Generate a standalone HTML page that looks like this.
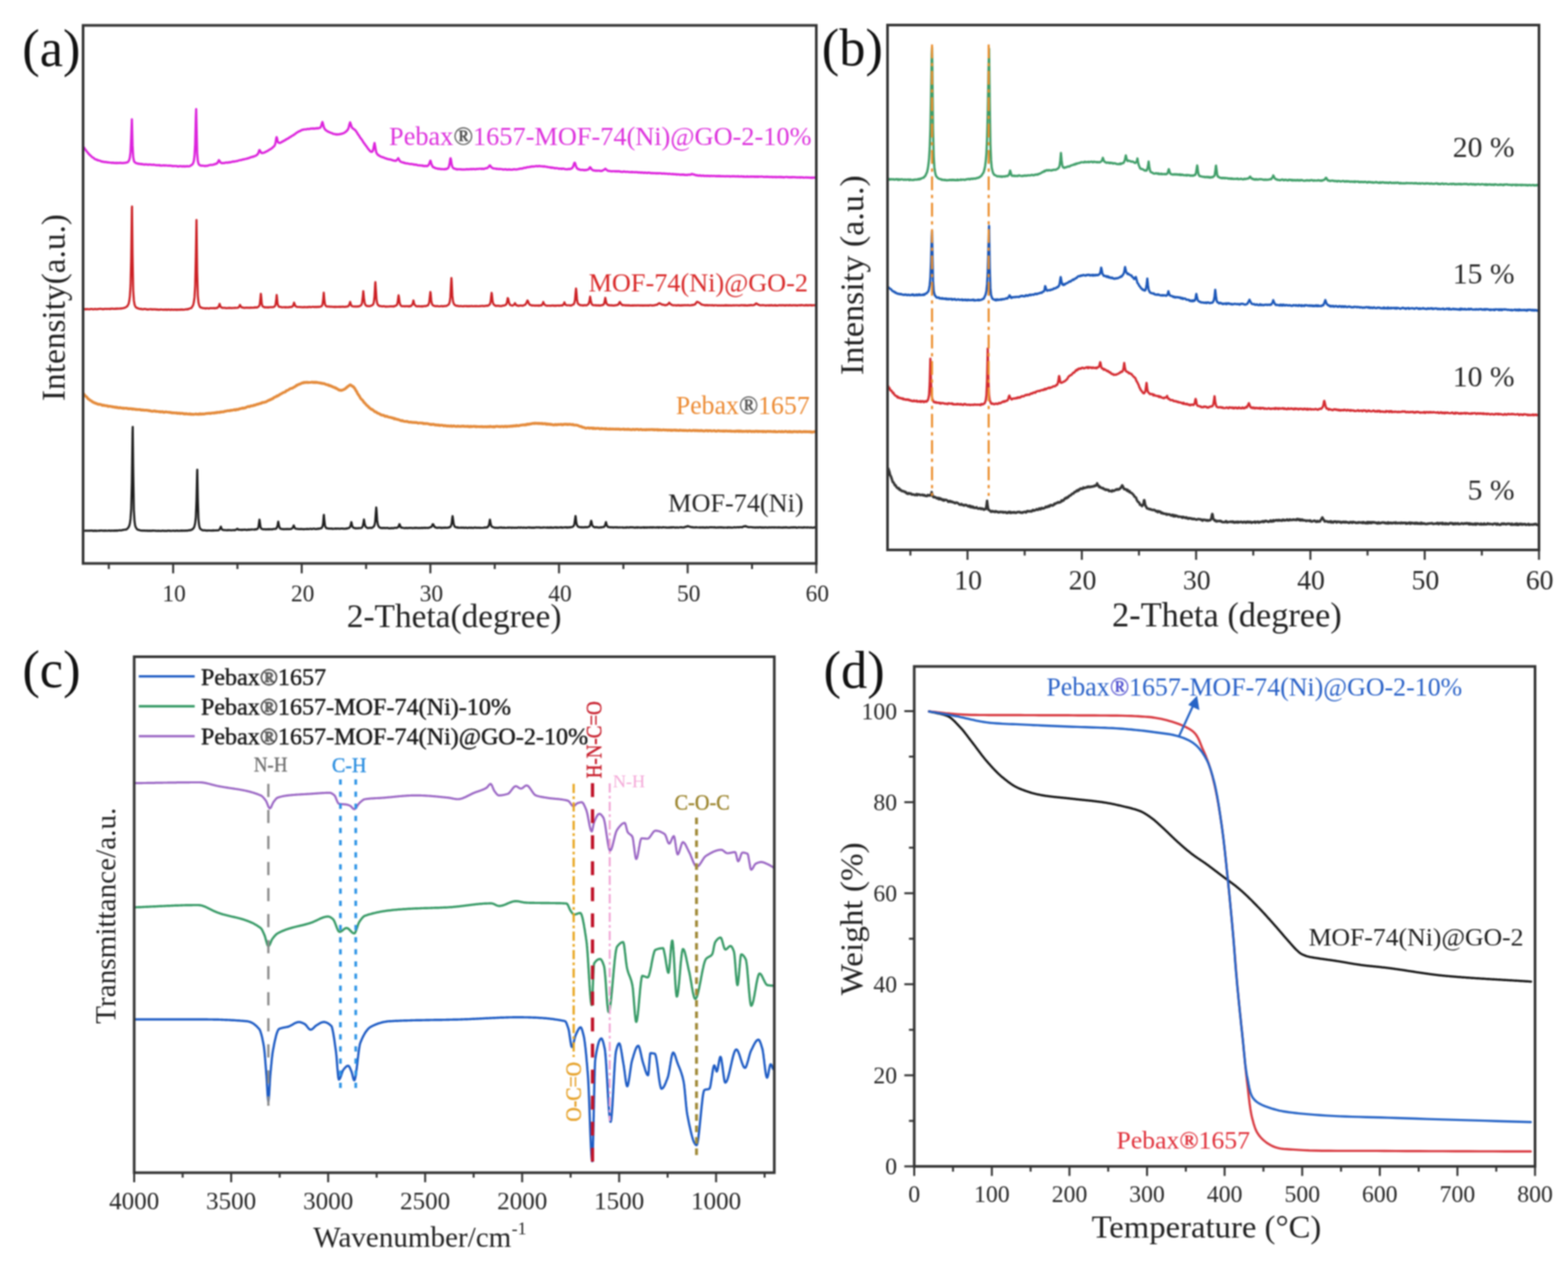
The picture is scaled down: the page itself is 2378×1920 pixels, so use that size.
<!DOCTYPE html>
<html><head><meta charset="utf-8"><title>Figure</title>
<style>
html,body{margin:0;padding:0;background:#fff;}
svg{display:block;}
#fig{filter:blur(0.8px);width:2378px;height:1920px;}
text{font-family:"Liberation Serif","Times New Roman",serif;}
</style></head>
<body>
<div id="fig">
<svg width="2378" height="1920" viewBox="0 0 2378 1920">
<rect width="100%" height="100%" fill="#fff"/>
<path d="M127 223.3 L128 224.6 L129 226.4 L130 227.4 L131 229 L132 230.2 L133 231.2 L134 232.8 L135 233.6 L136 235 L137 235.7 L138 236.5 L139 237.6 L140 238.6 L141 238.8 L142 239.6 L143 240.5 L144 241.3 L145 241.6 L146 241.9 L147 242.7 L148 242.5 L149 243.4 L150 243.4 L151 243.6 L152 243.9 L153 244.4 L154 245 L155 244.8 L156 245.3 L157 245.5 L158 245.5 L159 245.8 L160 245.6 L161 245.7 L162 246 L163 246.4 L164 246.3 L165 246.3 L166 246.6 L167 246.6 L168 246.6 L169 247 L170 247 L171 246.7 L172 247 L173 247 L174 247.3 L175 247.2 L176 246.9 L177 247.5 L178 246.9 L179 247.1 L180 247.4 L181 247 L182 247.2 L183 246.9 L184 247.3 L185 247.4 L186 247.2 L187 247.4 L188 246.9 L189 247.1 L190 246.9 L191 246.8 L192 246.4 L193 246.3 L194 245.8 L195 244.4 L196 242.7 L197 238.6 L198 230.6 L199 208.7 L200 181 L200 181.3 L201 220.4 L202 238 L203 243.5 L204 245.8 L205 246.4 L206 247.4 L207 247.5 L208 247.8 L209 248 L210 248.6 L211 248.3 L212 248.5 L213 248.7 L214 249.1 L215 248.7 L216 249 L217 249.2 L218 249.5 L219 249.5 L220 249.6 L221 249.2 L222 249.4 L223 249.4 L224 249.8 L225 249.9 L226 249.4 L227 249.5 L228 249.6 L229 249.7 L230 249.9 L231 250 L232 249.9 L233 249.7 L234 250.1 L235 250.1 L236 250.3 L237 250.6 L238 250.5 L239 250.4 L240 250.6 L241 250.7 L242 250.3 L243 251 L244 250.9 L245 251.1 L246 251.1 L247 250.8 L248 250.9 L249 250.8 L250 251.2 L251 250.9 L252 250.9 L253 251.1 L254 251.1 L255 251.3 L256 251.1 L257 251.2 L258 251.3 L259 251.3 L260 251.6 L261 251.4 L262 252 L263 251.9 L264 251.6 L265 251.8 L266 251.9 L267 251.9 L268 251.8 L269 252.4 L270 252.5 L271 252.2 L272 252.2 L273 252 L274 252 L275 252.2 L276 252.2 L277 252.6 L278 252.1 L279 252 L280 252.7 L281 252.4 L282 252.1 L283 252.3 L284 251.9 L285 252.1 L286 252.3 L287 252.1 L288 251.8 L289 251.1 L290 250.7 L291 249.9 L292 249.2 L293 247.2 L294 244 L295 236.5 L296 218.6 L297 178.6 L297.5 165.5 L298 188.3 L299 231.8 L300 243.9 L301 248 L302 249.8 L303 250.3 L304 251 L305 251.2 L306 251.1 L307 251.2 L308 251.4 L309 251.4 L310 251.7 L311 251.8 L312 251.4 L313 251.6 L314 251.5 L315 251.4 L316 250.8 L317 250.6 L318 250.4 L319 250.2 L320 250 L321 250.1 L322 250.1 L323 249.8 L324 249.4 L325 249.2 L326 249.1 L327 248.3 L328 248.3 L329 247.9 L330 246.7 L331 244.8 L332 242.9 L332 242.9 L333 244.1 L334 246.2 L335 246.6 L336 247.3 L337 247.5 L338 247.1 L339 247.1 L340 247.4 L341 247.1 L342 246.6 L343 246.5 L344 246.4 L345 246.8 L346 246.6 L347 246 L348 246.3 L349 246.3 L350 245.9 L351 245.5 L352 245.5 L353 245 L354 244.8 L355 245.3 L356 244.8 L357 244.6 L358 244.6 L359 244.1 L360 244.2 L361 243.9 L362 243.3 L363 243.1 L364 242.9 L365 242.6 L366 242.7 L367 242.2 L368 242.1 L369 241.6 L370 241.9 L371 241.3 L372 241.1 L373 240.9 L374 240.9 L375 240.2 L376 240.3 L377 239.7 L378 239.5 L379 239.2 L380 238.5 L381 238.5 L382 238 L383 237.6 L384 237.8 L385 237 L386 236.8 L387 236.6 L388 236 L389 235.3 L390 234.6 L391 233.5 L392 231.6 L393 228.1 L393.5 227.5 L394 228 L395 230.1 L396 231.4 L397 232.2 L398 232 L399 231.9 L400 231.7 L401 231.4 L402 230.7 L403 230.3 L404 229.7 L405 229.2 L406 228.8 L407 228 L408 227.4 L409 226.8 L410 226.4 L411 225.6 L412 225 L413 224.4 L414 223.1 L415 222.4 L416 221.5 L417 219.7 L418 215.8 L419 209.6 L419.5 208 L420 209.2 L421 213.9 L422 216.1 L423 216.5 L424 216.9 L425 216.6 L426 216.2 L427 215.2 L428 215.1 L429 214.5 L430 213.5 L431 213.5 L432 212.9 L433 211.8 L434 211.8 L435 210.8 L436 210.3 L437 210 L438 209.3 L439 208.3 L440 207.9 L441 207.4 L442 206.6 L443 205.9 L444 205.4 L445 205.1 L446 204 L447 203.6 L448 202.9 L449 201.8 L450 201.3 L451 200.8 L452 200.1 L453 199.1 L454 199.2 L455 198.6 L456 198.3 L457 197.3 L458 197.1 L459 196.7 L460 196.9 L461 196.3 L462 196.1 L463 196.1 L464 196.3 L465 196.1 L466 195.6 L467 195.4 L468 195.9 L469 195.5 L470 195.5 L471 195 L472 194.9 L473 195.2 L474 195 L475 194.7 L476 195.2 L477 194.9 L478 195 L479 194.5 L480 194.9 L481 194.3 L482 194.8 L483 194.4 L484 194.1 L485 193.9 L486 193.4 L487 191.2 L488 187.6 L489 185 L489 185 L490 188.4 L491 192.5 L492 194.9 L493 196.2 L494 197.3 L495 198 L496 198.6 L497 199.5 L498 199.7 L499 200.3 L500 200.6 L501 201.2 L502 201.4 L503 201.9 L504 202.1 L505 203 L506 203.1 L507 203.1 L508 203.5 L509 203.9 L510 203.5 L511 204 L512 203.8 L513 203.8 L514 203.9 L515 203.4 L516 203.3 L517 203.2 L518 203.1 L519 202.4 L520 202.4 L521 201.9 L522 201.4 L523 200.8 L524 200.2 L525 199.2 L526 198.4 L527 197.1 L528 195.8 L529 192.7 L530 188.5 L531 185.6 L531 185.9 L532 188.3 L533 191.8 L534 193.8 L535 194.6 L536 195.3 L537 196 L538 196.9 L539 197.7 L540 199.1 L541 200.3 L542 202.3 L543 203.8 L544 205.1 L545 206.5 L546 208.5 L547 209.5 L548 211 L549 212.2 L550 213.9 L551 215.5 L552 216.9 L553 218.2 L554 219.8 L555 220.9 L556 222.4 L557 223.7 L558 225.3 L559 226.4 L560 227.6 L561 228.9 L562 229.7 L563 230.3 L564 230.2 L565 229.5 L566 227 L567 221.6 L568 216.9 L568 217.2 L569 222.2 L570 228.3 L571 232.1 L572 233.3 L573 234.8 L574 235.5 L575 235.7 L576 236.8 L577 237.3 L578 237.6 L579 238.1 L580 238.5 L581 238.4 L582 239 L583 239.4 L584 239.9 L585 240.2 L586 240.6 L587 240.7 L588 241.3 L589 241.4 L590 241.7 L591 241.7 L592 241.8 L593 242.2 L594 242.6 L595 242.7 L596 243.4 L597 243.4 L598 243.7 L599 243.8 L600 243.8 L601 243.5 L602 242.4 L603 241.4 L604 239.9 L604 240.1 L605 241.7 L606 243.7 L607 244.9 L608 245.2 L609 246.1 L610 246.1 L611 246.2 L612 246.6 L613 247.2 L614 247 L615 247.6 L616 247.9 L617 247.8 L618 247.9 L619 248.1 L620 248.4 L621 248.6 L622 248.7 L623 248.9 L624 248.6 L625 248.8 L626 249.1 L627 249.6 L628 249.4 L629 249.8 L630 249.6 L631 249.7 L632 250 L633 250.5 L634 250.6 L635 250.8 L636 250.6 L637 250.9 L638 251 L639 251.1 L640 251 L641 251.7 L642 251.3 L643 251.9 L644 252 L645 251.4 L646 251.7 L647 252 L648 251.9 L649 251.2 L650 250.2 L651 248.3 L652 245.5 L652.7 243.7 L653 243.9 L654 247.9 L655 250.5 L656 252.4 L657 253.6 L658 253.6 L659 254.5 L660 254.7 L661 255.3 L662 255.4 L663 255.4 L664 256.1 L665 256 L666 255.9 L667 256 L668 256.5 L669 256.5 L670 256.5 L671 256.4 L672 256.6 L673 256.6 L674 256.9 L675 256.2 L676 256.6 L677 256.5 L678 255.6 L679 255.5 L680 254.2 L681 252 L682 246.7 L683 240.5 L683.3 240 L684 242.7 L685 249.5 L686 252.8 L687 254.4 L688 255.4 L689 255.8 L690 255.9 L691 256.2 L692 256.8 L693 256.5 L694 257 L695 256.6 L696 256.6 L697 256.8 L698 256.6 L699 256.7 L700 257.1 L701 257.1 L702 257 L703 256.9 L704 257.1 L705 257.1 L706 256.8 L707 256.9 L708 256.4 L709 256.9 L710 256.6 L711 256.8 L712 256.7 L713 256.5 L714 256.3 L715 256.8 L716 256.3 L717 256.5 L718 256.3 L719 256.3 L720 256.6 L721 256.7 L722 256.2 L723 256.4 L724 256.1 L725 256.3 L726 256.1 L727 255.9 L728 255.9 L729 255.9 L730 256.3 L731 256 L732 255.7 L733 256.2 L734 256.2 L735 255.7 L736 255.4 L737 255.3 L738 255 L739 254.8 L740 254.1 L741 253.1 L742 251.6 L743 250.7 L743 250.7 L744 252 L745 253.5 L746 254.3 L747 254.9 L748 255.3 L749 255.5 L750 255.6 L751 255.6 L752 255.8 L753 256.4 L754 255.9 L755 256.2 L756 256.4 L757 256.6 L758 256.2 L759 256.4 L760 256.4 L761 256.6 L762 256.7 L763 257.1 L764 257.1 L765 257.1 L766 256.6 L767 256.6 L768 257.2 L769 257.3 L770 257.1 L771 257.2 L772 256.8 L773 257 L774 257.4 L775 257.3 L776 257.4 L777 257.4 L778 256.9 L779 256.7 L780 256.7 L781 256.9 L782 257 L783 257 L784 256.8 L785 256.6 L786 256.5 L787 256.2 L788 256.1 L789 255.6 L790 255.9 L791 255.4 L792 255.7 L793 255.3 L794 254.8 L795 254.5 L796 254.4 L797 254.5 L798 254.3 L799 253.7 L800 253.5 L801 253.6 L802 253.5 L803 253.2 L804 252.9 L805 253 L806 252.4 L807 252.5 L808 252.5 L809 252.7 L810 252.4 L811 252.4 L812 252.1 L813 251.9 L814 251.8 L815 252.3 L816 252.1 L817 251.8 L818 251.7 L819 252 L820 252.2 L821 252.1 L822 252.1 L823 252.4 L824 252.7 L825 252.3 L826 252.3 L827 252.6 L828 252.8 L829 253.1 L830 253 L831 253.5 L832 253.6 L833 253.6 L834 253.6 L835 254.3 L836 253.9 L837 254.5 L838 254.2 L839 254.4 L840 254.9 L841 254.7 L842 255.3 L843 255.1 L844 255 L845 255.2 L846 255.4 L847 255.7 L848 256 L849 255.6 L850 255.8 L851 255.8 L852 256.4 L853 255.8 L854 255.8 L855 255.9 L856 256.2 L857 256.6 L858 256.6 L859 256.6 L860 256.8 L861 256.7 L862 256.3 L863 256.2 L864 256.6 L865 256.3 L866 255.6 L867 255.5 L868 254.5 L869 253.1 L870 250.4 L871 247.1 L871.5 246.8 L872 247.1 L873 250.5 L874 253.3 L875 255.3 L876 255.7 L877 256.8 L878 256.7 L879 257 L880 257.6 L881 257.7 L882 257.6 L883 257.4 L884 257.8 L885 257.7 L886 258.2 L887 257.7 L888 257.8 L889 258.1 L890 257.4 L891 257.4 L892 257.2 L893 256.4 L894 254.5 L895 253.6 L895 253.9 L896 254.6 L897 256.7 L898 257.2 L899 258.1 L900 258.5 L901 258.4 L902 258.5 L903 259.1 L904 258.9 L905 258.7 L906 259.1 L907 258.9 L908 258.9 L909 258.7 L910 259.2 L911 259.3 L912 259.1 L913 259.2 L914 258.3 L915 258.1 L916 257.6 L917 256.9 L918 255.9 L918 256.3 L919 256.6 L920 257.6 L921 258.4 L922 258.9 L923 259.4 L924 259.1 L925 259.6 L926 259.6 L927 259.8 L928 259.8 L929 259.7 L930 259.6 L931 259.6 L932 259.7 L933 260 L934 259.6 L935 259.7 L936 260.1 L937 259.8 L938 259.8 L939 259.8 L940 260.2 L941 260.1 L942 260.6 L943 260.6 L944 260.7 L945 260.2 L946 260.1 L947 260.2 L948 260.5 L949 260.7 L950 260.6 L951 260.5 L952 260.6 L953 260.8 L954 260.9 L955 261 L956 261.1 L957 261 L958 260.7 L959 261.2 L960 260.9 L961 261.1 L962 261.1 L963 261.4 L964 261 L965 261.1 L966 261.2 L967 261.1 L968 261.7 L969 261.5 L970 261.4 L971 261.5 L972 262 L973 261.7 L974 261.5 L975 262 L976 261.9 L977 262.2 L978 261.6 L979 261.9 L980 262.2 L981 262.3 L982 262.4 L983 261.8 L984 262 L985 262 L986 262.1 L987 262.7 L988 262.4 L989 262.7 L990 262.4 L991 262.8 L992 262.6 L993 262.5 L994 262.9 L995 263 L996 262.5 L997 262.9 L998 263 L999 262.7 L1000 262.9 L1001 262.8 L1002 262.9 L1003 263 L1004 263.3 L1005 263.3 L1006 263.1 L1007 263 L1008 263.3 L1009 263.6 L1010 263.3 L1011 263.4 L1012 263.4 L1013 263.9 L1014 263.8 L1015 263.5 L1016 263.6 L1017 263.8 L1018 264 L1019 264.1 L1020 263.8 L1021 263.9 L1022 264.4 L1023 264.2 L1024 264.2 L1025 264.3 L1026 264.8 L1027 264.4 L1028 264.6 L1029 264.5 L1030 264.6 L1031 265 L1032 265.1 L1033 264.8 L1034 264.7 L1035 265.1 L1036 264.8 L1037 264.7 L1038 265.4 L1039 265.1 L1040 265.4 L1041 265.1 L1042 265.5 L1043 265.2 L1044 264.9 L1045 264.8 L1046 265 L1047 264.9 L1048 264.8 L1049 263.8 L1050 264 L1050 264.1 L1051 264.1 L1052 264.7 L1053 264.8 L1054 265.2 L1055 265.6 L1056 266.1 L1057 265.6 L1058 266 L1059 266.3 L1060 266.5 L1061 266 L1062 266 L1063 266.7 L1064 266.7 L1065 266.4 L1066 266.2 L1067 266.8 L1068 266.5 L1069 266.9 L1070 266.7 L1071 266.9 L1072 266.5 L1073 267 L1074 266.6 L1075 266.7 L1076 267.1 L1077 267.1 L1078 266.7 L1079 266.7 L1080 266.9 L1081 267 L1082 266.9 L1083 266.8 L1084 266.9 L1085 267.2 L1086 267.4 L1087 266.8 L1088 267.2 L1089 267.3 L1090 266.8 L1091 267.4 L1092 266.9 L1093 267.3 L1094 267.3 L1095 267.4 L1096 267.1 L1097 267.2 L1098 267.4 L1099 267.3 L1100 267.5 L1101 267.3 L1102 267.3 L1103 267.1 L1104 267.5 L1105 267.4 L1106 267.2 L1107 267.6 L1108 267.7 L1109 267.4 L1110 267.3 L1111 267.5 L1112 267.2 L1113 267.3 L1114 267.5 L1115 267.3 L1116 267.5 L1117 267.6 L1118 267.3 L1119 267.7 L1120 267.3 L1121 267.8 L1122 267.8 L1123 267.6 L1124 267.3 L1125 267.7 L1126 267.6 L1127 268 L1128 267.4 L1129 268 L1130 268.1 L1131 267.9 L1132 268 L1133 267.5 L1134 268.1 L1135 267.8 L1136 268.1 L1137 268.1 L1138 267.6 L1139 268 L1140 268.1 L1141 267.6 L1142 267.8 L1143 268.1 L1144 267.7 L1145 268.2 L1146 267.8 L1147 268.2 L1148 267.7 L1149 268 L1150 268.3 L1151 267.8 L1152 267.9 L1153 268.1 L1154 267.9 L1155 267.8 L1156 267.9 L1157 267.9 L1158 268.4 L1159 268.3 L1160 268.4 L1161 268 L1162 268.4 L1163 267.9 L1164 268.3 L1165 268.3 L1166 268.2 L1167 268.5 L1168 268.3 L1169 268.4 L1170 268.6 L1171 268.1 L1172 268.7 L1173 268.5 L1174 268.3 L1175 268.6 L1176 268.3 L1177 268.8 L1178 268.5 L1179 268.4 L1180 268.7 L1181 268.5 L1182 268.3 L1183 268.7 L1184 268.3 L1185 268.8 L1186 268.4 L1187 268.7 L1188 269 L1189 268.7 L1190 268.8 L1191 268.6 L1192 268.4 L1193 268.4 L1194 268.5 L1195 268.8 L1196 268.7 L1197 268.8 L1198 269.1 L1199 268.6 L1200 268.7 L1201 269 L1202 268.5 L1203 268.6 L1204 268.8 L1205 268.7 L1206 268.9 L1207 268.8 L1208 269 L1209 269.1 L1210 268.8 L1211 269.1 L1212 269 L1213 268.8 L1214 269.4 L1215 268.9 L1216 268.9 L1217 268.9 L1218 269.3 L1219 269.4 L1220 269.4 L1221 269.1 L1222 269.1 L1223 268.9 L1224 269.4 L1225 269.3 L1226 269.2 L1227 269.4 L1228 269.3 L1229 269.7 L1230 269.5 L1231 269.2 L1232 269.7 L1233 269.1 L1234 269.5 L1235 269.4 L1236 269.3 L1237 269.2" fill="none" stroke="#dc22dc" stroke-width="3.4" stroke-linejoin="round" stroke-linecap="round"/>
<path d="M127 469.1 L128 468.6 L129 469 L130 469.2 L131 468.7 L132 468.7 L133 469 L134 468.9 L135 469 L136 469.1 L137 468.6 L138 468.7 L139 468.7 L140 468.5 L141 469.1 L142 469 L143 468.9 L144 468.4 L145 469 L146 468.9 L147 468.7 L148 468.9 L149 468.6 L150 468.5 L151 468.4 L152 468.4 L153 468.3 L154 468.5 L155 468.8 L156 468.7 L157 468.8 L158 468.7 L159 468.4 L160 468.5 L161 468.4 L162 468.7 L163 468.5 L164 468.3 L165 468.5 L166 468.7 L167 468.2 L168 468.6 L169 468 L170 468.1 L171 468.1 L172 468.4 L173 468.5 L174 468.4 L175 468 L176 468.4 L177 468 L178 467.9 L179 468.3 L180 468 L181 468 L182 467.9 L183 468.1 L184 467.6 L185 467.8 L186 467.5 L187 467.5 L188 466.9 L189 466.9 L190 466.4 L191 465.8 L192 465.1 L193 464.4 L194 462.7 L195 461 L196 456.6 L197 449.1 L198 432.7 L199 391.2 L200 317.1 L200.2 313 L201 386 L202 440.1 L203 455.4 L204 461.6 L205 464.3 L206 465.8 L207 466.8 L208 466.9 L209 467.6 L210 467.8 L211 468.3 L212 468.5 L213 468.7 L214 468.2 L215 468.9 L216 469 L217 469.1 L218 468.5 L219 468.7 L220 468.6 L221 468.6 L222 469.2 L223 469.3 L224 469.2 L225 469.3 L226 469.2 L227 469 L228 468.9 L229 468.9 L230 469.4 L231 469.1 L232 469.2 L233 469.3 L234 469 L235 469.2 L236 469.2 L237 469.6 L238 469.3 L239 469.3 L240 469.8 L241 469.5 L242 469.7 L243 469.6 L244 469.2 L245 469.5 L246 469.5 L247 469.8 L248 469.5 L249 469.8 L250 469.6 L251 469.4 L252 469.9 L253 469.4 L254 469.9 L255 469.5 L256 469.3 L257 469.5 L258 469.9 L259 470 L260 469.4 L261 469.7 L262 469.7 L263 469.9 L264 469.5 L265 469.7 L266 469.6 L267 470 L268 469.6 L269 470 L270 469.6 L271 469.5 L272 469.8 L273 469.7 L274 469.4 L275 469.7 L276 469.3 L277 469.7 L278 469.6 L279 469.7 L280 469.5 L281 469.2 L282 469.2 L283 469.1 L284 469.3 L285 468.5 L286 468.9 L287 468 L288 467.8 L289 467.4 L290 467.2 L291 465.9 L292 464.4 L293 462.5 L294 458.2 L295 450.7 L296 433.5 L297 389.4 L298 333.6 L298 333.8 L299 412.3 L300 448.1 L301 458.6 L302 462.6 L303 465 L304 466 L305 466.7 L306 466.7 L307 467.1 L308 467.5 L309 467.5 L310 467.3 L311 467.6 L312 467.9 L313 467.5 L314 467.4 L315 467.5 L316 467.8 L317 467.9 L318 467.4 L319 467.4 L320 467.4 L321 467.4 L322 467.5 L323 467.3 L324 467.3 L325 467.2 L326 467.7 L327 467.5 L328 466.9 L329 467.3 L330 466.4 L331 465.8 L332 464.2 L333 460.9 L333 461.1 L334 464 L335 465.8 L336 466.4 L337 467 L338 466.7 L339 466.9 L340 467 L341 466.8 L342 467.1 L343 467.3 L344 467.3 L345 467.1 L346 467.2 L347 467.1 L348 466.8 L349 467.2 L350 467 L351 467.2 L352 467.3 L353 467 L354 467 L355 467.1 L356 466.9 L357 466.7 L358 467 L359 467 L360 466.8 L361 466.6 L362 466.1 L363 464.6 L364 462.4 L364 462.5 L365 464.4 L366 465.7 L367 466.4 L368 466.2 L369 466.6 L370 466.9 L371 466.8 L372 466.8 L373 466.5 L374 466.6 L375 466.7 L376 466.8 L377 466.6 L378 466.8 L379 466.9 L380 466.4 L381 466.7 L382 466.8 L383 466.5 L384 466.5 L385 466.8 L386 466.1 L387 466.4 L388 466.1 L389 466.4 L390 466.3 L391 465.8 L392 465 L393 464.3 L394 461.5 L395 452.1 L395.6 445.5 L396 449 L397 460.4 L398 464.1 L399 465.1 L400 465.5 L401 466.2 L402 465.8 L403 466.2 L404 466 L405 466.3 L406 465.9 L407 466.5 L408 466.1 L409 465.8 L410 465.9 L411 466 L412 465.7 L413 465.9 L414 465.7 L415 465.7 L416 465 L417 464.1 L418 461.5 L419 453.4 L419.6 447.4 L420 450.8 L421 460.7 L422 463.7 L423 465.2 L424 465.3 L425 465.4 L426 465.5 L427 466 L428 466.1 L429 466 L430 465.9 L431 466 L432 465.8 L433 466.3 L434 465.8 L435 466 L436 466.1 L437 466.1 L438 465.8 L439 465.7 L440 465.8 L441 465.4 L442 465.7 L443 465 L444 464.6 L445 462 L446 458.9 L446 458.9 L447 461.9 L448 464.2 L449 464.9 L450 465.1 L451 465.7 L452 465.5 L453 465.5 L454 465.6 L455 465.7 L456 465.7 L457 465.9 L458 465.9 L459 465.7 L460 466.1 L461 466 L462 465.4 L463 466 L464 466 L465 465.9 L466 465.5 L467 465.9 L468 465.8 L469 465.3 L470 465.3 L471 466 L472 465.7 L473 465.5 L474 465.3 L475 465.3 L476 465.4 L477 465.8 L478 465.4 L479 465.3 L480 465.8 L481 465.6 L482 465.2 L483 465.6 L484 465.3 L485 465.3 L486 465 L487 464.8 L488 464 L489 462.1 L490 455.6 L491 443.8 L491 443.9 L492 455.8 L493 462 L494 463.7 L495 464.7 L496 464.8 L497 464.8 L498 464.9 L499 464.9 L500 465.2 L501 465 L502 465.3 L503 465.1 L504 465.3 L505 465.3 L506 465.3 L507 465.6 L508 465 L509 465.6 L510 465.3 L511 465.4 L512 465.4 L513 465.5 L514 465.2 L515 465.2 L516 465.6 L517 465 L518 465.3 L519 465.3 L520 464.9 L521 465.3 L522 465.3 L523 465.4 L524 465 L525 465.3 L526 464.9 L527 464.7 L528 464.6 L529 463.2 L530 461.3 L531 457.9 L531 458 L532 461 L533 463.7 L534 464.2 L535 464.6 L536 464.8 L537 465 L538 464.7 L539 464.8 L540 464.8 L541 464.8 L542 465 L543 464.5 L544 464.8 L545 464.3 L546 464 L547 463.3 L548 462.3 L549 459.9 L550 452.3 L551 441.5 L551 441.7 L552 452 L553 459.4 L554 462 L555 463.3 L556 463.9 L557 464.3 L558 463.9 L559 464.4 L560 464.5 L561 464.2 L562 463.8 L563 463.7 L564 463.1 L565 462.5 L566 461.6 L567 458.2 L568 449.6 L569 430.6 L569.3 427.9 L570 438.9 L571 454.1 L572 459.8 L573 462.1 L574 463.2 L575 463.7 L576 464.2 L577 464.1 L578 464.5 L579 464.5 L580 464.8 L581 464.4 L582 464.5 L583 464.4 L584 465 L585 465.1 L586 464.9 L587 464.7 L588 465 L589 465 L590 464.8 L591 464.6 L592 464.6 L593 464.7 L594 464.6 L595 464.6 L596 464.7 L597 464.9 L598 464.1 L599 464.3 L600 463.6 L601 463.1 L602 462.4 L603 459 L604 451.1 L604.5 447.9 L605 450.8 L606 458.6 L607 462 L608 463.4 L609 464.2 L610 464.5 L611 464.3 L612 464.4 L613 464.3 L614 464.7 L615 464.4 L616 464.4 L617 464.3 L618 464.3 L619 464.7 L620 464.3 L621 464.8 L622 464.1 L623 464.4 L624 463.4 L625 462.4 L626 460 L627 455.7 L627 455.9 L628 460 L629 462.5 L630 463.4 L631 464.3 L632 464.4 L633 464.7 L634 464.6 L635 464.2 L636 464.6 L637 464.7 L638 464.5 L639 464.8 L640 464.3 L641 464.8 L642 464.6 L643 464.1 L644 464 L645 464.3 L646 464.3 L647 463.6 L648 463.4 L649 463.1 L650 461.3 L651 458.5 L652 449.2 L652.7 442.9 L653 444.1 L654 455.5 L655 460.6 L656 462.4 L657 463.4 L658 463.5 L659 464.2 L660 464 L661 464.3 L662 464.3 L663 464.2 L664 464.2 L665 464.5 L666 464.7 L667 464.5 L668 464.4 L669 464.2 L670 464 L671 464.6 L672 464.4 L673 464.4 L674 464 L675 464.1 L676 464.2 L677 463.9 L678 463.5 L679 462.8 L680 462.2 L681 461.1 L682 457.9 L683 450.9 L684 431.6 L684.6 421.6 L685 426.9 L686 448.4 L687 456.9 L688 460.1 L689 461.8 L690 462.7 L691 463.3 L692 463.8 L693 464 L694 463.6 L695 464.2 L696 464.3 L697 464.4 L698 464.2 L699 464.1 L700 464.5 L701 464.5 L702 464.4 L703 464.6 L704 464.2 L705 464 L706 464.3 L707 464.5 L708 464.1 L709 464.5 L710 464.6 L711 464.1 L712 464.4 L713 464.4 L714 464.3 L715 464.1 L716 464.1 L717 464.5 L718 464.5 L719 464.3 L720 464 L721 464.5 L722 464.5 L723 464.1 L724 464.3 L725 464.5 L726 464.5 L727 464.2 L728 464.2 L729 464.3 L730 464 L731 463.9 L732 463.9 L733 464.3 L734 464 L735 464.1 L736 463.9 L737 463.9 L738 463.6 L739 463.4 L740 463.8 L741 463 L742 462.2 L743 461.3 L744 458 L745 448.6 L745.6 444.2 L746 446.6 L747 456.4 L748 460.7 L749 461.9 L750 462.6 L751 463.7 L752 463.8 L753 463.7 L754 463.8 L755 463.6 L756 464 L757 463.8 L758 464.2 L759 464 L760 464.1 L761 464.1 L762 463.6 L763 463.4 L764 463.4 L765 463.2 L766 462.8 L767 462.2 L768 461.3 L769 458.1 L770 452 L770 452.1 L771 453.9 L771 454.2 L772 459.3 L773 461.4 L774 462.7 L775 463 L776 463 L777 463.6 L778 463 L779 462.8 L780 461.6 L781 459.7 L781 460 L782 461.7 L783 462.8 L784 463.3 L785 463.2 L786 463.9 L787 463.9 L788 463.4 L789 463.3 L790 463.4 L791 463.4 L792 463.7 L793 463.6 L794 463.3 L795 462.5 L796 462.5 L797 461.6 L798 460 L799 457.9 L800 455.6 L800 455.9 L801 457.3 L802 460.1 L803 461.7 L804 462.4 L805 462.6 L806 463.1 L807 463.4 L808 463.1 L809 463.3 L810 463.3 L811 463.3 L812 463.6 L813 463.4 L814 463.4 L815 463.3 L816 463.7 L817 463.2 L818 463.7 L819 463.2 L820 463 L821 463.3 L822 462.2 L823 460.8 L824 457.9 L824 458.2 L825 460.8 L826 462.1 L827 463 L828 463 L829 463.7 L830 463.7 L831 463.6 L832 463.5 L833 463.5 L834 463.8 L835 463.6 L836 463.7 L837 463.4 L838 463.4 L839 463.3 L840 463.8 L841 463.6 L842 463.4 L843 463.9 L844 463.4 L845 463.5 L846 463.3 L847 463.4 L848 463.7 L849 463.4 L850 463.2 L851 463.4 L852 463.1 L853 463.3 L854 462.2 L855 461.3 L856 458.5 L856 458.9 L857 461.2 L858 462.5 L859 462.7 L860 463.1 L861 463 L862 463 L863 463 L864 463.1 L865 463.4 L866 463.3 L867 463.1 L868 462.3 L869 462 L870 461.6 L871 459.3 L872 455.3 L873 443.3 L873.6 437.5 L874 440.9 L875 453.2 L876 459.2 L877 460.9 L878 461.7 L879 462.1 L880 462.9 L881 462.9 L882 462.8 L883 463 L884 463.4 L885 462.9 L886 463.1 L887 462.8 L888 462.8 L889 463.1 L890 462.9 L891 462.2 L892 461.5 L893 460 L894 456.1 L895 449.9 L895 449.9 L896 455.8 L897 460 L898 461.9 L899 462.6 L900 463 L901 463 L902 462.8 L903 462.8 L904 463.3 L905 463.1 L906 463.3 L907 462.9 L908 463.4 L909 463.1 L910 463.4 L911 463.3 L912 463 L913 462.5 L914 462.8 L915 462 L916 461 L917 456.9 L918 451.7 L918 451.9 L919 457.3 L920 460.6 L921 461.8 L922 462.5 L923 462.9 L924 462.6 L925 463.1 L926 463.1 L927 463.1 L928 462.9 L929 463.3 L930 463.4 L931 463.4 L932 463 L933 463.2 L934 462.9 L935 463 L936 462.3 L937 462.4 L938 461.5 L939 459.4 L940 457.9 L940 457.9 L941 459.5 L942 461.3 L943 461.8 L944 462.9 L945 462.6 L946 462.8 L947 462.8 L948 462.9 L949 463.4 L950 462.9 L951 462.9 L952 463.4 L953 463 L954 462.9 L955 463.3 L956 463.3 L957 463.3 L958 463.4 L959 463 L960 463.5 L961 463.4 L962 463 L963 463 L964 463.3 L965 463.3 L966 463.1 L967 463 L968 463.2 L969 463 L970 463.3 L971 463.5 L972 463 L973 463.3 L974 463.4 L975 463 L976 463.5 L977 463.5 L978 463.1 L979 463.2 L980 463.4 L981 463.2 L982 463.1 L983 463.5 L984 463.4 L985 463 L986 462.9 L987 463 L988 463 L989 463.4 L990 463.2 L991 463.2 L992 463.1 L993 463 L994 462.3 L995 462.4 L996 462.4 L997 461.9 L998 460.8 L999 460.2 L1000 459.9 L1000 460 L1001 460.1 L1002 460.9 L1003 461.2 L1004 461.9 L1005 462.2 L1006 462.1 L1007 462.3 L1008 462.9 L1009 462.7 L1010 462.8 L1011 462.4 L1012 462.1 L1013 461.5 L1014 460.3 L1015 459 L1015 459.3 L1016 460.2 L1017 461.1 L1018 462.1 L1019 462.2 L1020 462.7 L1021 463.1 L1022 463 L1023 462.8 L1024 463 L1025 463 L1026 463.4 L1027 462.9 L1028 462.9 L1029 463.2 L1030 462.8 L1031 463.2 L1032 463.4 L1033 463.1 L1034 462.9 L1035 463.1 L1036 463.1 L1037 462.8 L1038 462.8 L1039 462.8 L1040 462.9 L1041 463 L1042 462.9 L1043 462.8 L1044 462.7 L1045 463 L1046 463.2 L1047 463 L1048 462.9 L1049 462.9 L1050 462.4 L1051 462.6 L1052 462.3 L1053 462 L1054 461.5 L1055 460.5 L1056 458.9 L1057 457.7 L1057 457.9 L1058 457.8 L1059 458.5 L1060 458.8 L1060 458.8 L1061 459.6 L1062 460.1 L1063 461.1 L1064 462 L1065 461.9 L1066 462.4 L1067 462.5 L1068 462.5 L1069 463.1 L1070 462.7 L1071 463.1 L1072 462.7 L1073 462.7 L1074 463.2 L1075 463 L1076 462.7 L1077 463 L1078 463 L1079 463.2 L1080 462.8 L1081 462.9 L1082 463.4 L1083 463.3 L1084 462.9 L1085 463 L1086 463 L1087 463.2 L1088 463.2 L1089 463.4 L1090 463.3 L1091 463.1 L1092 463.3 L1093 463.3 L1094 463.3 L1095 463.1 L1096 463.3 L1097 463.3 L1098 463.4 L1099 462.9 L1100 463.4 L1101 462.8 L1102 463.3 L1103 463.2 L1104 463.1 L1105 463.4 L1106 463.2 L1107 463.1 L1108 463.3 L1109 463.4 L1110 463.2 L1111 463 L1112 463.1 L1113 463.1 L1114 463.3 L1115 463 L1116 463 L1117 463.1 L1118 463 L1119 463 L1120 463.3 L1121 463.3 L1122 463.1 L1123 463.1 L1124 462.9 L1125 463 L1126 462.8 L1127 463.1 L1128 463.1 L1129 462.8 L1130 463.4 L1131 462.9 L1132 463.3 L1133 463.3 L1134 463.4 L1135 462.8 L1136 463 L1137 463.3 L1138 462.6 L1139 462.6 L1140 462.9 L1141 462.8 L1142 463 L1143 462.7 L1144 462.2 L1145 461.9 L1146 460.6 L1147 460 L1147 460 L1148 460.7 L1149 461.5 L1150 462 L1151 462.5 L1152 462.6 L1153 463.1 L1154 463 L1155 462.9 L1156 462.7 L1157 462.9 L1158 462.9 L1159 463 L1160 463.1 L1161 463.3 L1162 463.4 L1163 463 L1164 463 L1165 463.1 L1166 463.4 L1167 462.9 L1168 463.1 L1169 463.3 L1170 462.8 L1171 462.9 L1172 463.4 L1173 463.3 L1174 463.1 L1175 462.8 L1176 463.3 L1177 463.2 L1178 463.3 L1179 463.4 L1180 463.3 L1181 463 L1182 462.8 L1183 462.9 L1184 463.1 L1185 463.1 L1186 462.8 L1187 462.8 L1188 463.1 L1189 463.1 L1190 462.9 L1191 463.4 L1192 463.1 L1193 462.7 L1194 463 L1195 463.2 L1196 462.9 L1197 463.2 L1198 462.7 L1199 462.9 L1200 463.3 L1201 463.1 L1202 463.2 L1203 462.8 L1204 463 L1205 463.1 L1206 462.9 L1207 463.1 L1208 463.1 L1209 463.4 L1210 463.1 L1211 463 L1212 462.8 L1213 462.8 L1214 463.2 L1215 462.7 L1216 462.7 L1217 462.8 L1218 463 L1219 463.2 L1220 463.1 L1221 463.2 L1222 462.7 L1223 462.7 L1224 463.2 L1225 462.9 L1226 463.2 L1227 462.9 L1228 462.8 L1229 462.8 L1230 462.7 L1231 463.3 L1232 463.1 L1233 462.9 L1234 463 L1235 462.9 L1236 462.7 L1237 463.3" fill="none" stroke="#cc2024" stroke-width="3.2" stroke-linejoin="round" stroke-linecap="round"/>
<path d="M127 597.3 L128 599 L129 599.7 L130 601 L131 601.7 L132 602.5 L133 604.3 L134 605.1 L135 605.4 L136 606.7 L137 607.3 L138 607.5 L139 608.4 L140 609.4 L141 609.6 L142 610.6 L143 610.5 L144 611.1 L145 611.9 L146 611.7 L147 612.1 L148 613 L149 612.8 L150 613.4 L151 613.1 L152 613.3 L153 613.7 L154 613.8 L155 614.8 L156 614.3 L157 614.8 L158 614.6 L159 615.2 L160 615.2 L161 615.4 L162 615.3 L163 615.5 L164 616.4 L165 616.1 L166 616.1 L167 616.2 L168 616.5 L169 616.6 L170 616.5 L171 617.3 L172 617.1 L173 617.1 L174 617.8 L175 617.3 L176 617.6 L177 618.3 L178 617.7 L179 618.1 L180 618.6 L181 618.7 L182 618.1 L183 618.4 L184 618.9 L185 618.7 L186 619.3 L187 618.7 L188 619.5 L189 619.2 L190 619 L191 619.3 L192 619.1 L193 619.7 L194 619.4 L195 620.1 L196 619.9 L197 619.8 L198 619.7 L199 620.2 L200 619.9 L201 620.7 L202 620 L203 620.5 L204 620.6 L205 620.5 L206 621.1 L207 620.8 L208 621.2 L209 621.2 L210 621 L211 621.2 L212 621 L213 621.2 L214 622 L215 621.6 L216 622 L217 621.6 L218 622.1 L219 622 L220 622.2 L221 622.1 L222 622 L223 622.4 L224 622.4 L225 622.4 L226 623.1 L227 622.7 L228 622.9 L229 623.6 L230 623.5 L231 623.7 L232 623.8 L233 623.2 L234 623.4 L235 623.2 L236 624 L237 624.1 L238 623.8 L239 624 L240 624.3 L241 624.5 L242 624.1 L243 624.8 L244 624.4 L245 624.7 L246 624.4 L247 624.4 L248 625.3 L249 625.2 L250 625.2 L251 624.6 L252 624.7 L253 624.9 L254 625 L255 625.2 L256 625.4 L257 625.1 L258 625.5 L259 625.9 L260 625.5 L261 626.3 L262 626.1 L263 626.3 L264 625.9 L265 626.2 L266 626.5 L267 626.3 L268 626 L269 627 L270 627 L271 626.6 L272 626.4 L273 627.3 L274 627.1 L275 626.7 L276 626.9 L277 626.9 L278 627.6 L279 627.1 L280 627.9 L281 627.8 L282 627.2 L283 627.8 L284 627.6 L285 628 L286 628.1 L287 627.6 L288 627.5 L289 628.4 L290 627.9 L291 628.4 L292 628.2 L293 628.3 L294 628.4 L295 628.2 L296 628 L297 627.6 L298 628.3 L299 628 L300 628.1 L301 628.5 L302 627.6 L303 628.2 L304 627.5 L305 628.1 L306 628.2 L307 627.6 L308 627.8 L309 628.1 L310 627.8 L311 627.6 L312 627.2 L313 627 L314 627.2 L315 627.1 L316 626.8 L317 626.9 L318 626.6 L319 627.1 L320 626.9 L321 626.4 L322 626.3 L323 626.4 L324 626.2 L325 626.6 L326 625.9 L327 625.7 L328 626.2 L329 625.3 L330 625.6 L331 625.3 L332 625.6 L333 625.2 L334 625.3 L335 624.5 L336 624.9 L337 624.7 L338 624.4 L339 624.6 L340 624.5 L341 623.6 L342 623.6 L343 623.6 L344 623.2 L345 622.9 L346 623 L347 622.8 L348 623.1 L349 622.7 L350 622.2 L351 622.3 L352 622.3 L353 622 L354 621.7 L355 621.4 L356 621.2 L357 622 L358 621.6 L359 620.7 L360 621.1 L361 621.2 L362 620.6 L363 619.9 L364 620.1 L365 619.8 L366 619.3 L367 619.4 L368 618.6 L369 619.3 L370 618.8 L371 618.5 L372 618.6 L373 618 L374 617.4 L375 617.1 L376 616.7 L377 616.3 L378 616.8 L379 616.6 L380 615.8 L381 615.4 L382 615.6 L383 615.5 L384 615.4 L385 614.3 L386 614.7 L387 614.4 L388 614.1 L389 613.4 L390 613 L391 613.3 L392 612.5 L393 612.3 L394 612.2 L395 611.7 L396 611.8 L397 610.9 L398 610.4 L399 610.6 L400 610.3 L401 610.2 L402 609.7 L403 609.6 L404 609.2 L405 608.4 L406 608 L407 607.2 L408 606.9 L409 606.8 L410 605.8 L411 605.9 L412 604.9 L413 604.6 L414 604.6 L415 603.2 L416 602.6 L417 602.4 L418 601.6 L419 601.6 L420 600.3 L421 600.5 L422 600 L423 599.4 L424 598.5 L425 597.8 L426 597.6 L427 596.9 L428 596.3 L429 595.7 L430 595.3 L431 594.9 L432 594.6 L433 594.1 L434 592.8 L435 592.4 L436 592 L437 591.6 L438 590.9 L439 590.2 L440 589.6 L441 589.3 L442 588.9 L443 588.9 L444 588.3 L445 587.7 L446 587.2 L447 586.6 L448 585.8 L449 585.4 L450 584.1 L451 584.2 L452 583.6 L453 582.8 L454 582.7 L455 582.6 L456 581.7 L457 581.5 L458 580.8 L459 580.5 L460 580.9 L461 579.8 L462 579.9 L463 580.3 L464 580 L465 579.6 L466 580.2 L467 579.9 L468 580.1 L469 580 L470 580 L471 580 L472 579.8 L473 579.5 L474 579.5 L475 580.2 L476 579.9 L477 579.5 L478 580.3 L479 579.8 L480 579.7 L481 580.3 L482 580.1 L483 580.5 L484 580.7 L485 580.6 L486 581.1 L487 580.8 L488 581.4 L489 581.7 L490 581.4 L491 581.9 L492 581.8 L493 582.4 L494 583.1 L495 583.1 L496 583.5 L497 583.9 L498 583.6 L499 584.8 L500 584.9 L501 584.7 L502 585.8 L503 585.8 L504 586 L505 587.2 L506 587.2 L507 587.8 L508 587.6 L509 588.8 L510 588.6 L511 589.5 L512 590.2 L513 590.5 L514 591.6 L515 591.5 L516 591.8 L517 592.2 L518 591.7 L519 591.9 L520 591.2 L521 591 L522 590.2 L523 590 L524 589.4 L525 588 L526 587.7 L527 586.4 L528 585.9 L529 585 L530 584.6 L531 583.6 L532 583.9 L533 584.7 L534 585.5 L535 586 L536 586.4 L537 588.1 L538 588.9 L539 590.9 L540 592.8 L541 593.8 L542 596.4 L543 597.9 L544 599.2 L545 600.8 L546 602.6 L547 604.3 L548 605.4 L549 606.2 L550 607.3 L551 608.6 L552 610.4 L553 610.9 L554 612.4 L555 613.1 L556 614.6 L557 615.2 L558 615.9 L559 617.5 L560 618 L561 619 L562 619.9 L563 620.8 L564 620.6 L565 621.6 L566 622.1 L567 623.1 L568 624.1 L569 624.6 L570 624.5 L571 625.2 L572 626.3 L573 626.7 L574 626.9 L575 627.5 L576 627.7 L577 628.8 L578 628.8 L579 629.6 L580 629.7 L581 629.6 L582 630.2 L583 630.4 L584 631.4 L585 631.4 L586 631.1 L587 631.5 L588 632 L589 632.4 L590 632.7 L591 632.8 L592 633 L593 633 L594 633.8 L595 633.8 L596 633.8 L597 634.5 L598 635.3 L599 634.7 L600 635.1 L601 635.9 L602 635.8 L603 636 L604 636.5 L605 636.6 L606 637.1 L607 637.3 L608 638 L609 638.3 L610 637.6 L611 638.3 L612 638.7 L613 639 L614 639.1 L615 639.1 L616 639.3 L617 639.2 L618 639.2 L619 639.9 L620 640.1 L621 640.3 L622 640.2 L623 640 L624 640.5 L625 640.6 L626 640.5 L627 640.8 L628 640.6 L629 640.9 L630 640.9 L631 640.6 L632 641 L633 641.1 L634 641.9 L635 641.5 L636 641.5 L637 641.4 L638 641.5 L639 641.7 L640 641.6 L641 641.6 L642 642.6 L643 642.2 L644 642.3 L645 642.6 L646 642.4 L647 642.4 L648 642.4 L649 642.7 L650 642.8 L651 643.3 L652 643.3 L653 643.8 L654 643.3 L655 644 L656 643.8 L657 643.4 L658 643.6 L659 644.1 L660 644.7 L661 644.2 L662 644.7 L663 644.5 L664 645 L665 644.3 L666 644.9 L667 645.4 L668 644.9 L669 645 L670 644.8 L671 645.1 L672 645.3 L673 645.8 L674 645.4 L675 645.6 L676 645.5 L677 646 L678 646.3 L679 646.1 L680 645.7 L681 646.3 L682 646.5 L683 646.2 L684 645.7 L685 646.5 L686 646.6 L687 646.1 L688 645.9 L689 646 L690 646.4 L691 646.7 L692 646.5 L693 646.8 L694 646.2 L695 646.3 L696 646.7 L697 646.7 L698 646.5 L699 646.8 L700 646.4 L701 646.2 L702 646.6 L703 646.2 L704 646.8 L705 646.5 L706 646.7 L707 646.8 L708 646.5 L709 646.8 L710 646.3 L711 647.2 L712 646.9 L713 647.3 L714 646.4 L715 647 L716 647.1 L717 646.7 L718 646.5 L719 646.6 L720 646.6 L721 647.2 L722 646.6 L723 647.3 L724 646.9 L725 647 L726 647.1 L727 647.1 L728 647.2 L729 647.1 L730 646.9 L731 647.3 L732 646.8 L733 647.3 L734 647.3 L735 647.3 L736 646.9 L737 647.3 L738 647.6 L739 647 L740 646.9 L741 647.1 L742 647.5 L743 646.7 L744 646.6 L745 647.1 L746 647.2 L747 647.4 L748 646.9 L749 647.6 L750 646.8 L751 647.3 L752 646.6 L753 646.6 L754 646.7 L755 646.6 L756 647 L757 647.1 L758 646.7 L759 647.4 L760 646.9 L761 646.6 L762 646.6 L763 647.2 L764 647.3 L765 646.5 L766 646.4 L767 647.1 L768 646.5 L769 647.2 L770 646.6 L771 646.7 L772 646.4 L773 646.8 L774 646.4 L775 646.1 L776 646.6 L777 645.8 L778 646.3 L779 645.6 L780 646.1 L781 645.7 L782 646.1 L783 645.2 L784 645.6 L785 645.4 L786 645.8 L787 645.7 L788 645.3 L789 644.8 L790 644.8 L791 644.7 L792 644.7 L793 644.4 L794 644.2 L795 644.6 L796 644.4 L797 643.8 L798 644.4 L799 643.4 L800 643.6 L801 643 L802 643.6 L803 643.4 L804 642.7 L805 643 L806 642.9 L807 642.2 L808 642.2 L809 642.2 L810 642.5 L811 641.7 L812 642.2 L813 642.1 L814 641.9 L815 642.1 L816 642.4 L817 641.8 L818 642.5 L819 642 L820 642.5 L821 642.6 L822 642 L823 642.8 L824 643 L825 642.5 L826 642.3 L827 642.5 L828 643.4 L829 642.6 L830 643.6 L831 642.9 L832 643.6 L833 643.1 L834 643.3 L835 643.9 L836 643.4 L837 643.7 L838 644.3 L839 644.2 L840 644.4 L841 644.5 L842 643.6 L843 643.8 L844 644.4 L845 644.2 L846 643.6 L847 644 L848 643.7 L849 643.9 L850 643.5 L851 643.4 L852 644.3 L853 643.6 L854 644.2 L855 643.4 L856 643.7 L857 643.3 L858 643.6 L859 643.3 L860 643.8 L861 643.3 L862 643.9 L863 643.7 L864 643.3 L865 643.6 L866 643.8 L867 644.2 L868 643.8 L869 643.7 L870 644.6 L871 644.7 L872 644.7 L873 644.5 L874 644.6 L875 645 L876 645.1 L877 645.4 L878 646.1 L879 646.4 L880 646.8 L881 646.9 L882 646.9 L883 647.9 L884 648.1 L885 648.2 L886 648.5 L887 648.8 L888 649.3 L889 649.3 L890 649.2 L891 649 L892 648.9 L893 649.1 L894 649.7 L895 649.2 L896 649.2 L897 649.3 L898 649.1 L899 650 L900 649.1 L901 649.7 L902 650.1 L903 649.5 L904 649.9 L905 649.7 L906 649.6 L907 649.6 L908 649.5 L909 650.3 L910 650.3 L911 650.5 L912 649.6 L913 650.3 L914 650 L915 650.4 L916 650.3 L917 650.1 L918 650.8 L919 649.9 L920 650.6 L921 650.8 L922 650.5 L923 650.6 L924 651 L925 650.3 L926 650.7 L927 650.8 L928 650.5 L929 650.9 L930 650.6 L931 650.7 L932 650.9 L933 650.9 L934 650.6 L935 650.9 L936 650.9 L937 650.6 L938 651 L939 650.7 L940 651.3 L941 650.9 L942 651.2 L943 651 L944 651 L945 650.8 L946 650.7 L947 651.5 L948 651.1 L949 651.1 L950 651.2 L951 651.5 L952 650.9 L953 650.9 L954 651.5 L955 651.2 L956 651.4 L957 651.6 L958 651.7 L959 651.7 L960 650.9 L961 651.2 L962 651.7 L963 651.7 L964 651 L965 651 L966 651.2 L967 651 L968 651.3 L969 651.8 L970 651.5 L971 651.4 L972 651.1 L973 651.4 L974 652 L975 651.7 L976 651.5 L977 651.6 L978 651.9 L979 651.9 L980 651.3 L981 651.8 L982 651.5 L983 651.7 L984 651.4 L985 651.6 L986 651.6 L987 651.6 L988 651.3 L989 651.5 L990 651.9 L991 651.4 L992 651.5 L993 652.1 L994 651.7 L995 651.7 L996 651.7 L997 652.3 L998 651.5 L999 652.1 L1000 652.4 L1001 651.7 L1002 652 L1003 652.4 L1004 652.2 L1005 652 L1006 651.7 L1007 652.1 L1008 652 L1009 652.4 L1010 652 L1011 652.1 L1012 652.4 L1013 652.6 L1014 652.1 L1015 652.2 L1016 652.4 L1017 652.8 L1018 652.1 L1019 652.9 L1020 652.6 L1021 652.3 L1022 652.6 L1023 652.3 L1024 652.1 L1025 652.8 L1026 652.4 L1027 652.6 L1028 652.6 L1029 653 L1030 652.9 L1031 652.2 L1032 652.7 L1033 652.6 L1034 652.6 L1035 653 L1036 652.6 L1037 652.7 L1038 653.1 L1039 652.7 L1040 652.8 L1041 652.8 L1042 653.2 L1043 653 L1044 653.1 L1045 652.8 L1046 652.4 L1047 653.1 L1048 653 L1049 653.2 L1050 653.2 L1051 652.6 L1052 652.7 L1053 652.6 L1054 653.4 L1055 652.7 L1056 652.7 L1057 653.3 L1058 653.2 L1059 652.7 L1060 653.3 L1061 653.4 L1062 653.2 L1063 652.7 L1064 653.4 L1065 653.1 L1066 653.3 L1067 653.7 L1068 653.6 L1069 653.7 L1070 652.9 L1071 653.1 L1072 653.3 L1073 652.9 L1074 653.8 L1075 653.1 L1076 653.2 L1077 653.2 L1078 653.2 L1079 653.8 L1080 653.5 L1081 653.5 L1082 653.4 L1083 653 L1084 653.3 L1085 653.9 L1086 653.8 L1087 653.9 L1088 653.3 L1089 653.3 L1090 653.1 L1091 653.6 L1092 653.5 L1093 653.6 L1094 653.6 L1095 653.8 L1096 653.5 L1097 654 L1098 653.4 L1099 654.1 L1100 653.8 L1101 653.3 L1102 653.6 L1103 653.8 L1104 653.7 L1105 653.9 L1106 653.6 L1107 653.6 L1108 654.1 L1109 653.6 L1110 654.1 L1111 654.2 L1112 654 L1113 653.9 L1114 654.4 L1115 653.9 L1116 654.3 L1117 653.5 L1118 653.9 L1119 654.1 L1120 653.5 L1121 654.4 L1122 653.6 L1123 654.1 L1124 653.7 L1125 654.5 L1126 654.1 L1127 654.4 L1128 654.1 L1129 654.3 L1130 654.3 L1131 653.9 L1132 653.9 L1133 654.5 L1134 653.8 L1135 654.6 L1136 653.9 L1137 653.8 L1138 653.8 L1139 654.5 L1140 654.7 L1141 654.2 L1142 654.4 L1143 654 L1144 654.7 L1145 654.5 L1146 653.9 L1147 653.9 L1148 654.5 L1149 653.9 L1150 654.7 L1151 654.1 L1152 654.1 L1153 654.4 L1154 654.2 L1155 654.4 L1156 654 L1157 654.8 L1158 654.2 L1159 654.7 L1160 654.1 L1161 654.7 L1162 654.9 L1163 654.3 L1164 654 L1165 654.3 L1166 654.6 L1167 654.2 L1168 654.5 L1169 654.1 L1170 654.5 L1171 654.7 L1172 654.4 L1173 654.7 L1174 654.1 L1175 654.9 L1176 654.2 L1177 655 L1178 655 L1179 655 L1180 654.6 L1181 654.4 L1182 654.4 L1183 654.8 L1184 654.6 L1185 655 L1186 654.2 L1187 654.6 L1188 655 L1189 654.7 L1190 654.7 L1191 654.2 L1192 654.3 L1193 654.4 L1194 655.1 L1195 655 L1196 654.4 L1197 655.1 L1198 654.2 L1199 654.8 L1200 655.2 L1201 654.6 L1202 655.2 L1203 654.9 L1204 654.3 L1205 654.6 L1206 654.7 L1207 654.5 L1208 655 L1209 654.5 L1210 655.1 L1211 654.6 L1212 654.4 L1213 654.9 L1214 654.4 L1215 654.9 L1216 655.1 L1217 654.9 L1218 654.8 L1219 654.4 L1220 654.9 L1221 654.5 L1222 655 L1223 654.5 L1224 655 L1225 654.7 L1226 654.8 L1227 655.1 L1228 654.6 L1229 654.6 L1230 655.4 L1231 654.8 L1232 655.3 L1233 655.3 L1234 654.9 L1235 654.6 L1236 654.6 L1237 655.4" fill="none" stroke="#e48a3a" stroke-width="4.2" stroke-linejoin="round" stroke-linecap="round"/>
<path d="M127 804.7 L128 804.9 L129 805 L130 804.7 L131 804.9 L132 804.7 L133 805 L134 804.9 L135 804.8 L136 804.7 L137 804.9 L138 804.7 L139 804.7 L140 804.8 L141 805.2 L142 804.9 L143 805.2 L144 804.6 L145 805.2 L146 804.9 L147 805.1 L148 805 L149 805 L150 804.7 L151 805.1 L152 804.7 L153 804.7 L154 804.6 L155 804.8 L156 804.9 L157 804.7 L158 805.1 L159 804.6 L160 804.9 L161 804.7 L162 804.9 L163 805 L164 805 L165 804.5 L166 804.6 L167 804.9 L168 805.1 L169 804.5 L170 804.8 L171 804.9 L172 804.9 L173 804.6 L174 804.9 L175 804.6 L176 804.9 L177 804.3 L178 804.9 L179 804.5 L180 804.4 L181 804.2 L182 804.2 L183 804.5 L184 804.4 L185 803.9 L186 803.9 L187 803.6 L188 803.5 L189 803.3 L190 803.1 L191 803.2 L192 802.8 L193 802 L194 800.8 L195 799.5 L196 797.5 L197 793.9 L198 786.7 L199 771.3 L200 732.2 L201 656.6 L201.3 647.3 L202 711.3 L203 773.6 L204 790.5 L205 797.2 L206 799.9 L207 801.3 L208 802.8 L209 803.2 L210 803.7 L211 803.5 L212 804.2 L213 804.5 L214 804.6 L215 804.6 L216 804.7 L217 804.8 L218 804.7 L219 804.6 L220 804.9 L221 804.9 L222 805 L223 804.6 L224 805.1 L225 804.8 L226 805.1 L227 804.6 L228 805.2 L229 805.1 L230 804.7 L231 805.1 L232 804.7 L233 804.7 L234 804.9 L235 804.8 L236 804.9 L237 805.2 L238 805.1 L239 805.1 L240 804.9 L241 805.2 L242 805.2 L243 805.1 L244 805.3 L245 805.2 L246 804.9 L247 804.7 L248 805.1 L249 805.3 L250 804.9 L251 805.1 L252 805.3 L253 805.2 L254 804.7 L255 805 L256 804.7 L257 804.8 L258 805.2 L259 805 L260 805.1 L261 805 L262 804.9 L263 804.8 L264 804.9 L265 805.2 L266 805.1 L267 804.8 L268 804.7 L269 804.8 L270 805.1 L271 804.9 L272 805 L273 805.1 L274 804.6 L275 805 L276 804.5 L277 805.1 L278 804.6 L279 804.6 L280 805.1 L281 804.6 L282 804.5 L283 804.9 L284 804.6 L285 804.7 L286 804.2 L287 804.2 L288 804.3 L289 803.8 L290 803.9 L291 802.9 L292 802.8 L293 801.5 L294 800.4 L295 797.7 L296 793.4 L297 784.1 L298 758.7 L299 715.1 L299.2 712.4 L300 755.7 L301 788 L302 796.9 L303 800.6 L304 802.4 L305 803 L306 803.4 L307 804.1 L308 804.3 L309 804.3 L310 804 L311 804.4 L312 804.4 L313 804.8 L314 804.4 L315 804.6 L316 804.6 L317 804.4 L318 804.5 L319 804.6 L320 804.8 L321 804.5 L322 804.4 L323 804.8 L324 804.1 L325 804.7 L326 804.5 L327 804.4 L328 804.3 L329 804.4 L330 804.4 L331 804.2 L332 803.9 L333 802.7 L334 801 L334.9 798.9 L335 798.7 L336 801.9 L337 803.4 L338 803.4 L339 804 L340 804 L341 803.7 L342 804 L343 804.2 L344 804.2 L345 803.9 L346 804.2 L347 803.9 L348 804 L349 803.9 L350 804.3 L351 804 L352 804.1 L353 804 L354 803.8 L355 804.1 L356 803.9 L357 803.8 L358 803.2 L359 802.6 L360 801.9 L360 802 L361 803 L362 803.5 L363 803.4 L364 803.3 L365 803.6 L366 803.8 L367 803.3 L368 803.7 L369 803.3 L370 803.4 L371 803.2 L372 803.3 L373 803.4 L374 803.8 L375 803.7 L376 803.2 L377 803.2 L378 803.6 L379 803.1 L380 803.1 L381 803.2 L382 802.9 L383 803 L384 803 L385 803 L386 803.3 L387 802.7 L388 802.6 L389 802.9 L390 802.2 L391 801.6 L392 799.2 L393 791.7 L393.5 788 L394 791.4 L395 798.8 L396 801.5 L397 802 L398 802.4 L399 802.7 L400 802.8 L401 802.6 L402 802.7 L403 803.1 L404 802.8 L405 802.6 L406 802.9 L407 802.6 L408 802.9 L409 802.4 L410 802.9 L411 802.7 L412 802.5 L413 802.9 L414 802.4 L415 802.3 L416 802.1 L417 802.2 L418 802.1 L419 801.5 L420 800 L421 796.6 L422 791 L422 791.3 L423 796.3 L424 800.1 L425 801.6 L426 801.9 L427 802.2 L428 802.4 L429 802.2 L430 802.7 L431 802.6 L432 802.3 L433 802.3 L434 802.6 L435 802.3 L436 802.2 L437 802.6 L438 802.4 L439 802.3 L440 802.4 L441 802.4 L442 801.7 L443 801.4 L444 800.2 L445 797.8 L445.5 796.9 L446 797.9 L447 800.7 L448 801.6 L449 802 L450 802 L451 802.2 L452 802.1 L453 802.5 L454 802.5 L455 802.5 L456 802 L457 802.4 L458 802.5 L459 802.3 L460 802.6 L461 802.6 L462 802.4 L463 802.5 L464 802.4 L465 802.5 L466 802 L467 802.4 L468 802.4 L469 802.3 L470 802 L471 801.9 L472 802.2 L473 802.4 L474 802 L475 801.9 L476 801.9 L477 801.8 L478 802.2 L479 802.4 L480 802.2 L481 801.9 L482 802.1 L483 801.6 L484 802 L485 801.6 L486 801.1 L487 801.3 L488 800.3 L489 798.9 L490 794.1 L491 781.8 L491.2 780.9 L492 790.3 L493 798 L494 799.7 L495 801.1 L496 801 L497 801.3 L498 801.7 L499 801.6 L500 801.6 L501 801.8 L502 801.6 L503 802 L504 801.6 L505 802.1 L506 802 L507 801.8 L508 801.5 L509 802 L510 801.5 L511 801.8 L512 801.7 L513 801.5 L514 801.8 L515 801.9 L516 801.8 L517 801.6 L518 801.7 L519 801.7 L520 801.5 L521 801.9 L522 802 L523 801.8 L524 801.9 L525 801.4 L526 801.8 L527 801 L528 801.1 L529 800.6 L530 800.3 L531 799.1 L532 795.4 L532.8 791.9 L533 792.2 L534 797 L535 799.4 L536 800.4 L537 800.7 L538 800.8 L539 801.3 L540 801.2 L541 801.2 L542 801 L543 801.3 L544 800.9 L545 800.9 L546 801 L547 800.9 L548 800.7 L549 799.9 L550 798.5 L551 794.2 L552 787.8 L552 788 L553 794.1 L554 797.8 L555 799.4 L556 799.9 L557 800.8 L558 800.8 L559 800.8 L560 800.6 L561 800.6 L562 800.4 L563 800.6 L564 800.7 L565 799.9 L566 799.2 L567 798.3 L568 796.3 L569 791.3 L570 777.1 L570.6 769.6 L571 773.3 L572 788.9 L573 795.4 L574 797.9 L575 799.5 L576 799.9 L577 800.6 L578 800.7 L579 800.8 L580 800.7 L581 801 L582 800.6 L583 800.6 L584 800.9 L585 800.9 L586 800.7 L587 800.7 L588 800.6 L589 801.2 L590 801.1 L591 801.2 L592 801.3 L593 800.9 L594 801.1 L595 800.8 L596 801.1 L597 801.1 L598 800.6 L599 800.4 L600 800.5 L601 800.7 L602 800.4 L603 799.8 L604 799.5 L605 797.2 L605.8 794.9 L606 795.1 L607 797.9 L608 800 L609 800.3 L610 800.2 L611 800.5 L612 800.8 L613 801 L614 800.7 L615 800.9 L616 800.6 L617 800.6 L618 801.1 L619 800.7 L620 800.5 L621 800.8 L622 800.5 L623 800.6 L624 800.7 L625 800.8 L626 800.9 L627 800.9 L628 800.7 L629 800.4 L630 800.9 L631 800.4 L632 800.7 L633 800.7 L634 800.8 L635 800.9 L636 800.5 L637 800.8 L638 800.8 L639 800.7 L640 800.4 L641 800.9 L642 800.7 L643 800.3 L644 800.4 L645 800.9 L646 800.4 L647 800.5 L648 800.7 L649 800.7 L650 800.4 L651 800.4 L652 799.7 L653 799.4 L654 799.4 L655 798 L656 795.3 L656.6 795 L657 795 L658 797.2 L659 799.2 L660 799.4 L661 800.1 L662 800.4 L663 800.3 L664 800.6 L665 800.2 L666 800.2 L667 800.1 L668 800.6 L669 800.2 L670 800.8 L671 800.6 L672 800.2 L673 800.6 L674 800.2 L675 800.4 L676 800.1 L677 800.5 L678 800.5 L679 800.4 L680 799.7 L681 800.1 L682 799.5 L683 799.1 L684 797.4 L685 793.8 L686 784.8 L686.4 782.7 L687 787 L688 794.5 L689 797.5 L690 799 L691 799.4 L692 799.8 L693 799.7 L694 800.3 L695 799.9 L696 800.5 L697 800.5 L698 800.3 L699 800.1 L700 800.5 L701 800.2 L702 800.3 L703 800.1 L704 800.7 L705 800.4 L706 800.3 L707 800.1 L708 800.6 L709 800.6 L710 800.6 L711 800.1 L712 800.3 L713 800.3 L714 800.6 L715 800.1 L716 800.5 L717 800.7 L718 800.6 L719 800 L720 800.1 L721 800.1 L722 800.5 L723 800.4 L724 800.4 L725 800.3 L726 800.3 L727 800.4 L728 800.4 L729 800.6 L730 800.5 L731 800.5 L732 800.5 L733 800.5 L734 800.3 L735 799.8 L736 800.2 L737 800.2 L738 799.7 L739 799.8 L740 798.7 L741 797.8 L742 793.5 L743 788 L743 788.1 L744 793.4 L745 797.3 L746 798.8 L747 799.3 L748 799.5 L749 799.9 L750 800.4 L751 800.2 L752 800.4 L753 800.4 L754 800.4 L755 800.6 L756 800.4 L757 800.1 L758 800.1 L759 800.2 L760 799.9 L761 800.1 L762 800.5 L763 800.5 L764 800.1 L765 800.4 L766 800.4 L767 800.5 L768 800.5 L769 800.3 L770 800 L771 800.5 L772 800.1 L773 800.3 L774 800.1 L775 800.3 L776 800.6 L777 800 L778 800.3 L779 800.3 L780 800.3 L781 800.5 L782 800.2 L783 800.5 L784 800.3 L785 800.5 L786 799.9 L787 800 L788 800.1 L789 800.5 L790 799.9 L791 800 L792 800.3 L793 800.5 L794 800 L795 800.1 L796 800.3 L797 800.3 L798 800.4 L799 800.4 L800 800 L801 800 L802 799.8 L803 800.3 L804 800 L805 800 L806 800.5 L807 800.3 L808 800.2 L809 800.3 L810 800.2 L811 800.3 L812 800 L813 799.8 L814 799.8 L815 799.8 L816 800 L817 799.9 L818 799.9 L819 800.1 L820 800.4 L821 800.2 L822 800 L823 800.3 L824 799.9 L825 799.8 L826 800 L827 800 L828 800.2 L829 800.1 L830 800.3 L831 799.8 L832 800.4 L833 800 L834 800.3 L835 799.8 L836 800.3 L837 799.9 L838 800.3 L839 800.3 L840 800.2 L841 799.9 L842 799.7 L843 799.8 L844 800.3 L845 799.8 L846 800.2 L847 800.1 L848 800.1 L849 799.8 L850 799.8 L851 799.7 L852 800.3 L853 799.9 L854 800.1 L855 800 L856 799.8 L857 799.7 L858 799.6 L859 800.2 L860 799.7 L861 800.2 L862 799.8 L863 800 L864 799.5 L865 799.9 L866 799.4 L867 799.3 L868 799.2 L869 798.4 L870 797.5 L871 795.5 L872 788.5 L872.8 782.7 L873 783.1 L874 792.3 L875 796.3 L876 797.9 L877 798.7 L878 799.2 L879 799.4 L880 799.7 L881 799.6 L882 800 L883 799.4 L884 799.9 L885 800 L886 799.6 L887 799.4 L888 799.7 L889 799.4 L890 799.6 L891 799.7 L892 799.1 L893 798.8 L894 798.4 L895 796.5 L896 792 L896.6 789.9 L897 791.1 L898 795.9 L899 797.9 L900 798.9 L901 799.3 L902 799.8 L903 799.7 L904 799.4 L905 799.6 L906 800 L907 799.8 L908 800.1 L909 800.1 L910 800 L911 799.5 L912 800 L913 799.7 L914 799.4 L915 799.1 L916 799.2 L917 797.9 L918 795.3 L919 791.8 L919 792 L920 795.9 L921 798.1 L922 799.2 L923 799.1 L924 799.6 L925 799.6 L926 799.6 L927 799.9 L928 799.7 L929 799.6 L930 800.2 L931 799.9 L932 799.7 L933 799.6 L934 800 L935 799.9 L936 799.6 L937 799.9 L938 800.1 L939 800 L940 799.7 L941 799.9 L942 800 L943 800 L944 799.7 L945 800.2 L946 800.3 L947 800.1 L948 800.2 L949 799.9 L950 800.2 L951 799.7 L952 799.8 L953 800 L954 800.2 L955 799.7 L956 799.7 L957 799.6 L958 799.9 L959 799.7 L960 799.7 L961 800.1 L962 800 L963 800.3 L964 799.9 L965 800.1 L966 799.6 L967 800.3 L968 799.8 L969 799.9 L970 800 L971 800.3 L972 799.9 L973 800.3 L974 800 L975 799.7 L976 800.2 L977 799.7 L978 800.3 L979 799.9 L980 799.8 L981 800.3 L982 799.8 L983 799.9 L984 799.8 L985 800.1 L986 799.6 L987 799.9 L988 799.7 L989 800.2 L990 799.6 L991 800 L992 799.8 L993 799.9 L994 800 L995 800.1 L996 799.7 L997 799.8 L998 799.7 L999 800.3 L1000 799.7 L1001 799.7 L1002 800 L1003 800 L1004 800.2 L1005 799.6 L1006 799.7 L1007 799.7 L1008 800 L1009 799.9 L1010 799.9 L1011 800.2 L1012 800 L1013 800.2 L1014 800.2 L1015 799.8 L1016 800.2 L1017 799.9 L1018 799.6 L1019 800.2 L1020 799.6 L1021 799.6 L1022 799.8 L1023 799.8 L1024 800.2 L1025 800.2 L1026 799.8 L1027 799.9 L1028 800.1 L1029 800.1 L1030 800 L1031 799.8 L1032 799.5 L1033 799.6 L1034 799.9 L1035 799.8 L1036 799.9 L1037 799.8 L1038 799.8 L1039 799 L1040 798.7 L1041 798.9 L1042 798.2 L1043 797.8 L1043 798 L1044 798.3 L1045 798.4 L1046 798.8 L1047 799.2 L1048 799.4 L1049 799.7 L1050 799.3 L1051 799.9 L1052 799.8 L1053 799.8 L1054 799.9 L1055 800 L1056 799.5 L1057 799.8 L1058 800 L1059 800 L1060 800 L1061 799.7 L1062 800.2 L1063 800.1 L1064 799.7 L1065 799.9 L1066 800.2 L1067 799.7 L1068 799.9 L1069 800.3 L1070 800.2 L1071 799.7 L1072 800.1 L1073 799.8 L1074 800.1 L1075 800.1 L1076 799.7 L1077 799.7 L1078 799.7 L1079 799.8 L1080 799.6 L1081 799.7 L1082 799.9 L1083 799.9 L1084 799.6 L1085 800 L1086 800.3 L1087 800 L1088 799.8 L1089 800.1 L1090 799.9 L1091 799.7 L1092 799.9 L1093 799.6 L1094 800.1 L1095 799.7 L1096 799.9 L1097 800.3 L1098 800.1 L1099 800.2 L1100 800 L1101 800 L1102 800.1 L1103 800.3 L1104 799.7 L1105 800.1 L1106 799.8 L1107 799.8 L1108 800.2 L1109 800 L1110 800.2 L1111 800.2 L1112 800 L1113 799.7 L1114 799.6 L1115 799.9 L1116 800 L1117 799.7 L1118 799.6 L1119 799.5 L1120 799.6 L1121 799.9 L1122 799.4 L1123 799.5 L1124 799.4 L1125 799.6 L1126 799.6 L1127 798.6 L1128 798.3 L1129 798.5 L1130 798 L1130 798.3 L1131 797.9 L1132 798.5 L1133 799 L1134 799.1 L1135 799.4 L1136 799.6 L1137 799.5 L1138 799.4 L1139 799.5 L1140 799.6 L1141 799.6 L1142 799.9 L1143 800 L1144 799.7 L1145 800.1 L1146 800.1 L1147 799.8 L1148 799.9 L1149 799.7 L1150 800.2 L1151 800 L1152 799.6 L1153 799.7 L1154 800.1 L1155 799.9 L1156 800.1 L1157 799.8 L1158 800.2 L1159 800.2 L1160 799.7 L1161 800 L1162 799.8 L1163 800.1 L1164 800.2 L1165 800.2 L1166 799.8 L1167 799.7 L1168 800.1 L1169 800 L1170 799.7 L1171 799.8 L1172 800 L1173 799.7 L1174 800.1 L1175 799.8 L1176 799.8 L1177 799.9 L1178 800 L1179 800.1 L1180 799.7 L1181 800.1 L1182 799.8 L1183 799.8 L1184 800.1 L1185 800.1 L1186 800.1 L1187 800.3 L1188 799.8 L1189 799.9 L1190 800.1 L1191 799.8 L1192 799.7 L1193 799.8 L1194 800.2 L1195 800.2 L1196 800.1 L1197 800.3 L1198 800.2 L1199 799.9 L1200 799.9 L1201 800.1 L1202 799.7 L1203 800.1 L1204 799.7 L1205 799.7 L1206 800 L1207 799.7 L1208 800.3 L1209 800.3 L1210 800 L1211 799.8 L1212 799.7 L1213 800 L1214 800 L1215 799.9 L1216 800.1 L1217 800 L1218 800.2 L1219 799.7 L1220 799.7 L1221 799.9 L1222 800 L1223 799.8 L1224 800.1 L1225 799.8 L1226 799.9 L1227 800 L1228 800.1 L1229 800.2 L1230 799.9 L1231 800 L1232 800.3 L1233 800.3 L1234 800.1 L1235 799.7 L1236 800 L1237 800.1" fill="none" stroke="#1e1e1e" stroke-width="3.2" stroke-linejoin="round" stroke-linecap="round"/>
<rect x="126" y="38.5" width="1112" height="816" fill="none" stroke="#333333" stroke-width="4.0"/>
<line x1="165" y1="854.5" x2="165" y2="863" stroke="#333333" stroke-width="3.0"/>
<line x1="262.6" y1="854.5" x2="262.6" y2="869.5" stroke="#333333" stroke-width="3.0"/>
<line x1="360.1" y1="854.5" x2="360.1" y2="863" stroke="#333333" stroke-width="3.0"/>
<line x1="457.6" y1="854.5" x2="457.6" y2="869.5" stroke="#333333" stroke-width="3.0"/>
<line x1="555.2" y1="854.5" x2="555.2" y2="863" stroke="#333333" stroke-width="3.0"/>
<line x1="652.7" y1="854.5" x2="652.7" y2="869.5" stroke="#333333" stroke-width="3.0"/>
<line x1="750.3" y1="854.5" x2="750.3" y2="863" stroke="#333333" stroke-width="3.0"/>
<line x1="847.8" y1="854.5" x2="847.8" y2="869.5" stroke="#333333" stroke-width="3.0"/>
<line x1="945.4" y1="854.5" x2="945.4" y2="863" stroke="#333333" stroke-width="3.0"/>
<line x1="1042.9" y1="854.5" x2="1042.9" y2="869.5" stroke="#333333" stroke-width="3.0"/>
<line x1="1140.5" y1="854.5" x2="1140.5" y2="863" stroke="#333333" stroke-width="3.0"/>
<line x1="1238" y1="854.5" x2="1238" y2="869.5" stroke="#333333" stroke-width="3.0"/>
<text x="264.1" y="911.5" font-size="35.5" fill="#262626" text-anchor="middle">10</text>
<text x="459.1" y="911.5" font-size="35.5" fill="#262626" text-anchor="middle">20</text>
<text x="654.2" y="911.5" font-size="35.5" fill="#262626" text-anchor="middle">30</text>
<text x="849.3" y="911.5" font-size="35.5" fill="#262626" text-anchor="middle">40</text>
<text x="1044.4" y="911.5" font-size="35.5" fill="#262626" text-anchor="middle">50</text>
<text x="1239.5" y="911.5" font-size="35.5" fill="#262626" text-anchor="middle">60</text>
<text x="526" y="951" font-size="51.3" fill="#222" textLength="325.6" lengthAdjust="spacingAndGlyphs">2-Theta(degree)</text>
<text x="97.7" y="466.4" font-size="51" fill="#222" text-anchor="middle" transform="rotate(-90 97.7 466.4)" textLength="283.7" lengthAdjust="spacingAndGlyphs">Intensity(a.u.)</text>
<text x="33.7" y="99.8" font-size="79.5" fill="#111">(a)</text>
<text x="590" y="219.5" font-size="40" fill="#dd33dd" textLength="640.7" lengthAdjust="spacingAndGlyphs">Pebax<tspan fill="#505050" font-weight="bold">&#174;</tspan>1657-MOF-74(Ni)@GO-2-10%</text>
<text x="892.7" y="441.6" font-size="39.8" fill="#d92a2a" textLength="332.7" lengthAdjust="spacingAndGlyphs">MOF-74(Ni)@GO-2</text>
<text x="1025" y="627.6" font-size="39" fill="#ec8a32" textLength="203" lengthAdjust="spacingAndGlyphs">Pebax<tspan fill="#555" font-weight="bold">&#174;</tspan>1657</text>
<text x="1013.3" y="776" font-size="39.8" fill="#262626" textLength="205.5" lengthAdjust="spacingAndGlyphs">MOF-74(Ni)</text>
<path d="M1347 271.6 L1348 271.3 L1349 272.5 L1350 272.4 L1351 271.5 L1352 271.9 L1353 272.2 L1354 271.8 L1355 271.6 L1356 272.4 L1357 272.5 L1358 272.1 L1359 271.7 L1360 272.1 L1361 271.8 L1362 272.9 L1363 271.8 L1364 272.1 L1365 272.7 L1366 272 L1367 272 L1368 272 L1369 272.1 L1370 272.6 L1371 272.9 L1372 272.2 L1373 272.2 L1374 272.9 L1375 272.5 L1376 272.4 L1377 272.2 L1378 272.3 L1379 273.2 L1380 272.2 L1381 272.3 L1382 272.9 L1383 273.1 L1384 273 L1385 272.5 L1386 273 L1387 272.6 L1388 272.1 L1389 272.3 L1390 272.5 L1391 272.4 L1392 271.6 L1393 271.5 L1394 272.3 L1395 271 L1396 271.6 L1397 270.8 L1398 270.3 L1399 269.9 L1400 269.6 L1401 269.5 L1402 267.6 L1403 267.4 L1404 265.2 L1405 263 L1406 260.9 L1407 256.4 L1408 250.1 L1409 240.6 L1410 224.7 L1411 195.6 L1412 144.8 L1413 83.2 L1413.5 71.9 L1414 102.1 L1415 195.2 L1416 236.6 L1417 253.2 L1418 260.3 L1419 265.1 L1420 267.6 L1421 268.5 L1422 269.7 L1423 270.5 L1424 271 L1425 271.4 L1426 271.4 L1427 271.8 L1428 272.8 L1429 272.3 L1430 272.7 L1431 273.1 L1432 273 L1433 272.5 L1434 273.3 L1435 273.2 L1436 273.5 L1437 273.2 L1438 273.2 L1439 273.3 L1440 272.7 L1441 273.1 L1442 272.8 L1443 273.3 L1444 272.5 L1445 273 L1446 272.7 L1447 273.3 L1448 272.7 L1449 273.3 L1450 273.2 L1451 273.3 L1452 272.3 L1453 273.3 L1454 273 L1455 272.9 L1456 272.8 L1457 272.1 L1458 273 L1459 272.6 L1460 272.4 L1461 272.2 L1462 272.7 L1463 272.7 L1464 272.7 L1465 271.9 L1466 272 L1467 271.8 L1468 271.5 L1469 271.7 L1470 271.3 L1471 272.1 L1472 271.3 L1473 271 L1474 270.9 L1475 271.6 L1476 270.8 L1477 270.9 L1478 270.7 L1479 271 L1480 270.9 L1481 269.9 L1482 270 L1483 270 L1484 269.1 L1485 269.2 L1486 268.4 L1487 267.3 L1488 267.1 L1489 265.7 L1490 263.8 L1491 262.7 L1492 260.5 L1493 256.8 L1494 251.8 L1495 244.1 L1496 232.3 L1497 210.7 L1498 172.2 L1499 113.3 L1500 73.8 L1500 73.9 L1501 154.9 L1502 218.3 L1503 242.4 L1504 254.1 L1505 258.4 L1506 262.1 L1507 263.8 L1508 265.3 L1509 265.7 L1510 265.9 L1511 266.8 L1512 267.4 L1513 267.6 L1514 267.2 L1515 267.1 L1516 267.8 L1517 267.9 L1518 267.3 L1519 268.1 L1520 268.2 L1521 267.5 L1522 267.4 L1523 267.7 L1524 267.9 L1525 267 L1526 267 L1527 266.9 L1528 267.1 L1529 266 L1530 265.4 L1531 262.6 L1532 258.7 L1532 258.9 L1533 262.1 L1534 265.7 L1535 266.7 L1536 266.5 L1537 266.9 L1538 266.3 L1539 267.1 L1540 266.7 L1541 266.9 L1542 267 L1543 266.4 L1544 267 L1545 266.2 L1546 265.9 L1547 266.5 L1548 266.9 L1549 266.9 L1550 267 L1551 266.4 L1552 266.9 L1553 266.4 L1554 265.9 L1555 266.5 L1556 266.6 L1557 266.2 L1558 266.3 L1559 265.9 L1560 265.9 L1561 266 L1562 266 L1563 265.9 L1564 265.4 L1565 265.2 L1566 265.5 L1567 265.9 L1568 265.8 L1569 265 L1570 264.9 L1571 265.1 L1572 264.5 L1573 264.8 L1574 264.9 L1575 263.6 L1576 263.7 L1577 263.3 L1578 262.9 L1579 262.3 L1580 261.8 L1581 260.7 L1582 260.9 L1583 260.5 L1584 259 L1585 259.7 L1586 258.8 L1587 258.2 L1588 258 L1589 258.7 L1590 258.5 L1591 257.8 L1592 258.1 L1593 258.3 L1594 258.7 L1595 257.9 L1596 258.4 L1597 257.7 L1598 257.5 L1599 257.4 L1600 257.5 L1601 257.5 L1602 256.9 L1603 256.4 L1604 256 L1605 255.1 L1606 253.9 L1607 251.1 L1608 243.5 L1609 231.9 L1609 232.3 L1610 243 L1611 250.4 L1612 253.5 L1613 253.8 L1614 254.7 L1615 254.1 L1616 253.6 L1617 253.9 L1618 253.1 L1619 252.8 L1620 252.3 L1621 252.7 L1622 252.6 L1623 251.6 L1624 251.1 L1625 250.8 L1626 250.4 L1627 250.4 L1628 249.8 L1629 249.1 L1630 249.7 L1631 249 L1632 247.9 L1633 248.6 L1634 248.1 L1635 247.4 L1636 247.4 L1637 247.4 L1638 246.6 L1639 246.4 L1640 246 L1641 246.1 L1642 246.1 L1643 246.1 L1644 246.3 L1645 245.3 L1646 245.5 L1647 246 L1648 245.9 L1649 245.6 L1650 245.7 L1651 245.3 L1652 246.1 L1653 245.6 L1654 245.4 L1655 245.2 L1656 245.1 L1657 246.1 L1658 246 L1659 245.1 L1660 245.5 L1661 245.7 L1662 245.8 L1663 245.6 L1664 246.3 L1665 245.6 L1666 245.8 L1667 246.3 L1668 245.9 L1669 245.5 L1670 244.9 L1671 243.8 L1672 241 L1672.6 239.3 L1673 240.5 L1674 243.5 L1675 245.2 L1676 245.8 L1677 246.1 L1678 247 L1679 246.7 L1680 246.5 L1681 246.7 L1682 247.4 L1683 246.7 L1684 247.5 L1685 246.8 L1686 247.2 L1687 247.1 L1688 248.2 L1689 247.5 L1690 247.7 L1691 247.6 L1692 248 L1693 248.6 L1694 248.7 L1695 248.9 L1696 249 L1697 248.6 L1698 249 L1699 247.9 L1700 248.8 L1701 248 L1702 247.4 L1703 247.6 L1704 247 L1705 245.2 L1706 242.2 L1707 237.5 L1707.4 235.7 L1708 238.2 L1709 242.3 L1710 244.2 L1711 243.5 L1712 243.8 L1713 244 L1714 244.1 L1715 245.1 L1716 245.2 L1717 244.9 L1718 245.2 L1719 245.6 L1720 246.4 L1721 246.8 L1722 247.2 L1723 246.1 L1724 244.5 L1725 240.3 L1725 240.4 L1726 246.1 L1727 250.4 L1728 252.6 L1729 255 L1730 255.9 L1731 256.3 L1732 256.3 L1733 256.8 L1734 257.3 L1735 257.9 L1736 258.8 L1737 258.2 L1738 258.8 L1739 258.6 L1740 256.3 L1741 252 L1742 244.9 L1742 245.3 L1743 252.7 L1744 258.1 L1745 260.7 L1746 261.3 L1747 261.6 L1748 262 L1749 263 L1750 263.1 L1751 263.3 L1752 263.1 L1753 262.7 L1754 262.8 L1755 263.2 L1756 263.7 L1757 262.9 L1758 264 L1759 264 L1760 263.8 L1761 263.2 L1762 264.2 L1763 263.8 L1764 264.1 L1765 264 L1766 264.2 L1767 263.7 L1768 264.3 L1769 264.1 L1770 263.6 L1771 261.9 L1772 258.2 L1772.6 256.6 L1773 257.4 L1774 261.1 L1775 263.5 L1776 264 L1777 264.3 L1778 264.5 L1779 264.8 L1780 264.5 L1781 264.2 L1782 264.8 L1783 264.2 L1784 264.7 L1785 264.2 L1786 265.1 L1787 264.7 L1788 264.5 L1789 265.3 L1790 264.4 L1791 265.5 L1792 265.4 L1793 264.7 L1794 265.5 L1795 265.4 L1796 265.9 L1797 265.6 L1798 265.5 L1799 266.2 L1800 265.2 L1801 266.1 L1802 265.4 L1803 265.7 L1804 265.6 L1805 266.6 L1806 266.1 L1807 266.5 L1808 266 L1809 266.5 L1810 266.3 L1811 265.5 L1812 265.6 L1813 264.8 L1814 261.6 L1815 254.8 L1815.6 251 L1816 252.6 L1817 261 L1818 265.2 L1819 266.6 L1820 267.3 L1821 267.1 L1822 267.5 L1823 268 L1824 268.1 L1825 267.9 L1826 268.5 L1827 268.1 L1828 268.9 L1829 268.4 L1830 268.1 L1831 268.9 L1832 268.3 L1833 269 L1834 268.3 L1835 269.4 L1836 268.9 L1837 269.1 L1838 268.3 L1839 268.8 L1840 268.1 L1841 267.2 L1842 266.2 L1843 260.6 L1844 251.7 L1844.2 251.2 L1845 257.1 L1846 265.2 L1847 267.8 L1848 267.9 L1849 269 L1850 269.3 L1851 269.8 L1852 270 L1853 269.7 L1854 270.5 L1855 269.7 L1856 269.7 L1857 270.6 L1858 269.8 L1859 270 L1860 270.4 L1861 270.3 L1862 270.1 L1863 271.1 L1864 270.6 L1865 271 L1866 270.4 L1867 271.3 L1868 270.5 L1869 271.3 L1870 271 L1871 271.5 L1872 271.3 L1873 271.2 L1874 271.1 L1875 271.5 L1876 271.1 L1877 270.7 L1878 271.7 L1879 271.6 L1880 271.5 L1881 271.6 L1882 271 L1883 271.3 L1884 271.8 L1885 272 L1886 271.9 L1887 271 L1888 271.7 L1889 271.5 L1890 271.3 L1891 270.9 L1892 270.8 L1893 270.9 L1894 270.3 L1895 268.8 L1896 267.8 L1896 268 L1897 269.2 L1898 270.7 L1899 271.2 L1900 271 L1901 272.1 L1902 271.6 L1903 272.4 L1904 272.5 L1905 271.5 L1906 272.1 L1907 272.6 L1908 272 L1909 272.2 L1910 271.9 L1911 271.6 L1912 271.9 L1913 271.8 L1914 272 L1915 272.4 L1916 272.4 L1917 272.8 L1918 272.5 L1919 272.2 L1920 272.9 L1921 272.5 L1922 272.4 L1923 272.7 L1924 272.4 L1925 272 L1926 272.1 L1927 271.5 L1928 271.8 L1929 269.9 L1930 268.8 L1931 266 L1931 266.5 L1932 267.7 L1933 270.4 L1934 271 L1935 271.9 L1936 271.7 L1937 272.8 L1938 272.7 L1939 272.8 L1940 273.2 L1941 273.3 L1942 273 L1943 273.1 L1944 272.2 L1945 272.3 L1946 272.8 L1947 273.5 L1948 272.7 L1949 273 L1950 272.4 L1951 272.9 L1952 273.5 L1953 273.2 L1954 273.5 L1955 272.5 L1956 272.7 L1957 272.7 L1958 273.5 L1959 272.7 L1960 273.7 L1961 272.9 L1962 273.7 L1963 273.2 L1964 273 L1965 273.8 L1966 273.2 L1967 273.5 L1968 272.8 L1969 273.7 L1970 273.9 L1971 272.9 L1972 273.7 L1973 273.1 L1974 273 L1975 273.3 L1976 273.7 L1977 274 L1978 274.1 L1979 274.1 L1980 273.7 L1981 273.7 L1982 273.2 L1983 273.9 L1984 273.7 L1985 273.5 L1986 274.1 L1987 273.4 L1988 273.3 L1989 273.3 L1990 273.3 L1991 273.9 L1992 274.1 L1993 273.4 L1994 273.8 L1995 273.9 L1996 273.9 L1997 273.8 L1998 273.9 L1999 273.3 L2000 273.4 L2001 273.8 L2002 273.6 L2003 274.2 L2004 273.5 L2005 274.2 L2006 273.4 L2007 273 L2008 273.1 L2009 272.2 L2010 270.6 L2011 269.5 L2011 269.8 L2012 270.5 L2013 272.7 L2014 273.7 L2015 273.7 L2016 274 L2017 274.6 L2018 274.4 L2019 273.9 L2020 273.9 L2021 274 L2022 274.3 L2023 274.1 L2024 274.8 L2025 274.5 L2026 274.4 L2027 274.7 L2028 275.3 L2029 274.5 L2030 274.4 L2031 274.6 L2032 274.7 L2033 275.4 L2034 275.2 L2035 274.9 L2036 274.6 L2037 274.5 L2038 274.6 L2039 275.5 L2040 275.3 L2041 274.8 L2042 275.4 L2043 274.7 L2044 275.3 L2045 275.1 L2046 274.9 L2047 275.7 L2048 275.7 L2049 275.5 L2050 275.1 L2051 275.7 L2052 275.5 L2053 275.8 L2054 275.1 L2055 276.1 L2056 275.1 L2057 275.4 L2058 275.6 L2059 275.4 L2060 275.3 L2061 276.1 L2062 276.5 L2063 275.7 L2064 275.7 L2065 276.2 L2066 275.7 L2067 275.9 L2068 276.3 L2069 276 L2070 275.7 L2071 275.7 L2072 276.2 L2073 276.8 L2074 276.8 L2075 275.8 L2076 276.3 L2077 276.3 L2078 276 L2079 276.6 L2080 276.4 L2081 276.8 L2082 276.3 L2083 277.1 L2084 276.9 L2085 276.6 L2086 276.2 L2087 276.6 L2088 276.2 L2089 276.9 L2090 277 L2091 276.9 L2092 277.4 L2093 276.3 L2094 277.1 L2095 277.2 L2096 276.4 L2097 276.7 L2098 276.4 L2099 277.1 L2100 277.3 L2101 276.8 L2102 277.3 L2103 276.9 L2104 277.3 L2105 276.9 L2106 277.7 L2107 277.1 L2108 276.6 L2109 276.7 L2110 277.5 L2111 277.7 L2112 277.4 L2113 276.9 L2114 277.8 L2115 277.6 L2116 276.9 L2117 277.3 L2118 277.6 L2119 276.9 L2120 276.9 L2121 277.3 L2122 278 L2123 278.1 L2124 277.3 L2125 278.1 L2126 277.9 L2127 278.1 L2128 277.8 L2129 278.2 L2130 277.9 L2131 278.2 L2132 277.8 L2133 277.4 L2134 277.8 L2135 277.8 L2136 277.6 L2137 277.7 L2138 277.9 L2139 278 L2140 277.6 L2141 277.6 L2142 277.9 L2143 278 L2144 277.9 L2145 278.2 L2146 277.6 L2147 278.1 L2148 277.8 L2149 278.4 L2150 278.3 L2151 278.5 L2152 278.2 L2153 277.9 L2154 278.7 L2155 278.2 L2156 278.1 L2157 278 L2158 278.1 L2159 278.5 L2160 278.7 L2161 278.3 L2162 278.6 L2163 278 L2164 278.3 L2165 278.2 L2166 278.2 L2167 278.2 L2168 278.7 L2169 278.7 L2170 278.1 L2171 278.2 L2172 278.8 L2173 278.7 L2174 278.8 L2175 278.7 L2176 278.8 L2177 278.3 L2178 278.1 L2179 278.5 L2180 278.1 L2181 279.2 L2182 278.7 L2183 278.9 L2184 279.3 L2185 279.1 L2186 278.4 L2187 278.6 L2188 278.3 L2189 279.2 L2190 279.1 L2191 278.8 L2192 278.7 L2193 278.6 L2194 278.9 L2195 279.2 L2196 279.4 L2197 279.4 L2198 279.4 L2199 278.9 L2200 278.9 L2201 278.8 L2202 279.6 L2203 278.7 L2204 278.7 L2205 278.8 L2206 279.6 L2207 279.5 L2208 278.9 L2209 279.6 L2210 279.6 L2211 279.1 L2212 278.8 L2213 279.5 L2214 279.1 L2215 278.8 L2216 279.7 L2217 279.2 L2218 279.2 L2219 279.4 L2220 279 L2221 278.8 L2222 279.2 L2223 279.2 L2224 278.8 L2225 279.3 L2226 279.7 L2227 279.2 L2228 279.7 L2229 279.6 L2230 279.1 L2231 278.9 L2232 279.7 L2233 279.7 L2234 279.3 L2235 279.2 L2236 280 L2237 280.1 L2238 279.3 L2239 279.7 L2240 279.7 L2241 279.4 L2242 279.1 L2243 279.5 L2244 279.9 L2245 279.8 L2246 279.7 L2247 279.3 L2248 279.4 L2249 279.5 L2250 279.7 L2251 279.6 L2252 280.3 L2253 279.4 L2254 280.4 L2255 279.5 L2256 280.3 L2257 279.6 L2258 280 L2259 279.8 L2260 279.4 L2261 280.3 L2262 280.3 L2263 279.7 L2264 280.3 L2265 280 L2266 280.6 L2267 279.5 L2268 279.9 L2269 279.7 L2270 280.2 L2271 280.4 L2272 280.5 L2273 280.2 L2274 280 L2275 280.5 L2276 279.7 L2277 279.9 L2278 280.5 L2279 280.1 L2280 280.8 L2281 279.7 L2282 280.2 L2283 279.9 L2284 279.7 L2285 279.8 L2286 279.8 L2287 280.2 L2288 280.3 L2289 280.4 L2290 280.1 L2291 280.6 L2292 280.4 L2293 281 L2294 280 L2295 280.4 L2296 280.4 L2297 280.3 L2298 280.9 L2299 280.1 L2300 281 L2301 280.3 L2302 280.3 L2303 280.7 L2304 280.6 L2305 280.3 L2306 280.1 L2307 281.2 L2308 280.5 L2309 280.2 L2310 280.8 L2311 280.7 L2312 280.5 L2313 280.5 L2314 281.1 L2315 280.5 L2316 280.6 L2317 281.3 L2318 280.6 L2319 280.7 L2320 280.4 L2321 281 L2322 281 L2323 280.8 L2324 280.7 L2325 280.5 L2326 281.2 L2327 280.8 L2328 281.3 L2329 280.8 L2330 281.2 L2331 280.4 L2332 280.6 L2333 281.5" fill="none" stroke="#3f9e68" stroke-width="3.4" stroke-linejoin="round" stroke-linecap="round"/>
<path d="M1347 435.3 L1348 436.3 L1349 437.1 L1350 438.1 L1351 438.6 L1352 439.4 L1353 440.9 L1354 441.6 L1355 441.6 L1356 442.9 L1357 442.8 L1358 444.1 L1359 444 L1360 445 L1361 445.1 L1362 445.7 L1363 445.3 L1364 446 L1365 446.4 L1366 445.7 L1367 446.1 L1368 446.8 L1369 446.7 L1370 446.9 L1371 447.3 L1372 447 L1373 446.5 L1374 446.9 L1375 447.6 L1376 447.2 L1377 447.5 L1378 446.9 L1379 447.1 L1380 447.9 L1381 447.7 L1382 447.5 L1383 446.6 L1384 447.4 L1385 446.5 L1386 447.9 L1387 448 L1388 447.6 L1389 446.8 L1390 447.8 L1391 446.7 L1392 447.7 L1393 447.2 L1394 446.4 L1395 447.7 L1396 447 L1397 447.5 L1398 447.3 L1399 446.9 L1400 447.4 L1401 446.2 L1402 447.1 L1403 445.9 L1404 445.1 L1405 445.1 L1406 443.9 L1407 442.8 L1408 441.9 L1409 437.9 L1410 432.2 L1411 420.8 L1412 396.6 L1413 359.5 L1413.5 350 L1414 374.6 L1415 425.4 L1416 441 L1417 445.6 L1418 448.6 L1419 449.1 L1420 451 L1421 451.4 L1422 451.6 L1423 451.1 L1424 451.2 L1425 452.7 L1426 452.3 L1427 452.5 L1428 453.1 L1429 452 L1430 453 L1431 452.8 L1432 453.4 L1433 452.9 L1434 452.6 L1435 453.9 L1436 452.9 L1437 453.8 L1438 454 L1439 453.1 L1440 453.9 L1441 453.5 L1442 453.3 L1443 453.3 L1444 454.6 L1445 453.7 L1446 454 L1447 454.1 L1448 453.4 L1449 454.6 L1450 454.6 L1451 454.9 L1452 454.1 L1453 453.9 L1454 454.2 L1455 454.9 L1456 454.8 L1457 454.5 L1458 454.7 L1459 454.1 L1460 455.4 L1461 454.7 L1462 454.8 L1463 455.3 L1464 454.4 L1465 455.3 L1466 454.8 L1467 455.5 L1468 454.4 L1469 454.7 L1470 455.3 L1471 455.1 L1472 455 L1473 455.3 L1474 454.8 L1475 455.1 L1476 454.4 L1477 455.7 L1478 454.9 L1479 455.8 L1480 455.3 L1481 455.4 L1482 455.4 L1483 454.5 L1484 455.5 L1485 454.6 L1486 455.4 L1487 455 L1488 454.6 L1489 454.5 L1490 453.5 L1491 453.3 L1492 452.9 L1493 450.4 L1494 448.4 L1495 445.9 L1496 441 L1497 430.9 L1498 411.9 L1499 375.5 L1500 342.8 L1500 343 L1501 405.2 L1502 436.9 L1503 447.2 L1504 450.4 L1505 452.7 L1506 453.7 L1507 454.1 L1508 454.5 L1509 455.2 L1510 454 L1511 455.5 L1512 454.3 L1513 454 L1514 455.1 L1515 454.7 L1516 454.5 L1517 453.9 L1518 454.7 L1519 453.8 L1520 454.3 L1521 453.4 L1522 453.8 L1523 453.7 L1524 453.1 L1525 453.1 L1526 452.2 L1527 452.9 L1528 452.6 L1529 451.1 L1530 450.2 L1531 447.9 L1531 448.3 L1532 449.1 L1533 451.5 L1534 451.9 L1535 450.7 L1536 451 L1537 450.6 L1538 450.7 L1539 450.3 L1540 450.8 L1541 450.3 L1542 450.2 L1543 450.4 L1544 450.1 L1545 450.6 L1546 450.3 L1547 449.2 L1548 449.2 L1549 448.7 L1550 449.1 L1551 448.6 L1552 449.4 L1553 449.4 L1554 449.6 L1555 448.2 L1556 447.7 L1557 448.7 L1558 448 L1559 448.7 L1560 447.7 L1561 447.4 L1562 446.8 L1563 448 L1564 447.2 L1565 446.9 L1566 446.7 L1567 447.1 L1568 447 L1569 446.2 L1570 445.5 L1571 445.7 L1572 446.3 L1573 445.3 L1574 445.5 L1575 445.1 L1576 444.7 L1577 444.6 L1578 443.8 L1579 444 L1580 444.2 L1581 442.5 L1582 442.4 L1583 442.2 L1584 440.1 L1585 434 L1585.3 434.1 L1586 436.5 L1587 439.7 L1588 441 L1589 440.6 L1590 440 L1591 440 L1592 440.4 L1593 440.2 L1594 439 L1595 439.4 L1596 439.1 L1597 438.7 L1598 437.4 L1599 437.7 L1600 437.1 L1601 437.2 L1602 436.3 L1603 435.5 L1604 435.8 L1605 434.3 L1606 433.8 L1607 430.2 L1608 423.8 L1608.6 420.2 L1609 422.2 L1610 427.8 L1611 431.4 L1612 431 L1613 432.4 L1614 430.7 L1615 431.5 L1616 430.5 L1617 429.7 L1618 429.5 L1619 429.1 L1620 428.4 L1621 427.3 L1622 427.4 L1623 426.5 L1624 426.9 L1625 425.4 L1626 424.9 L1627 424 L1628 424.7 L1629 423.1 L1630 423 L1631 422.7 L1632 421.4 L1633 421.4 L1634 420 L1635 419.2 L1636 418.6 L1637 418.8 L1638 419.1 L1639 417.7 L1640 417.9 L1641 418.2 L1642 417.3 L1643 417 L1644 417.5 L1645 417.3 L1646 418 L1647 417.9 L1648 416.8 L1649 417.3 L1650 417.1 L1651 416.5 L1652 417.2 L1653 417.9 L1654 417 L1655 417.5 L1656 417.7 L1657 416.7 L1658 418.1 L1659 416.9 L1660 417.2 L1661 417.9 L1662 416.8 L1663 417.4 L1664 416.9 L1665 417.4 L1666 416.5 L1667 416.3 L1668 415.3 L1669 412.1 L1670 406 L1670.2 406.3 L1671 410.1 L1672 415.4 L1673 416.6 L1674 418.5 L1675 418.4 L1676 418.5 L1677 418.7 L1678 419.9 L1679 418.9 L1680 420.2 L1681 419.4 L1682 421 L1683 420.4 L1684 421 L1685 421.8 L1686 420.9 L1687 421.1 L1688 422.4 L1689 422.4 L1690 422.8 L1691 422.2 L1692 422.5 L1693 422 L1694 422.2 L1695 421.7 L1696 421.8 L1697 420.9 L1698 420.4 L1699 420.4 L1700 419 L1701 419.4 L1702 418.2 L1703 416.8 L1704 415.1 L1705 412.5 L1706 406 L1706.3 405 L1707 408.5 L1708 412.6 L1709 414.2 L1710 415.6 L1711 414.9 L1712 416.2 L1713 416.5 L1714 417.2 L1715 417.9 L1716 417.8 L1717 419.8 L1718 420.6 L1719 421 L1720 423.2 L1721 422.8 L1722 421.3 L1722.6 420 L1723 421.4 L1724 425.2 L1725 429.2 L1726 430 L1727 431.8 L1728 433.9 L1729 434.6 L1730 436.4 L1731 437.9 L1732 437.9 L1733 439.6 L1734 439.3 L1735 440.3 L1736 440.7 L1737 440.2 L1738 437.2 L1739 431.2 L1740 422.5 L1740 423.3 L1741 432.2 L1742 439.1 L1743 441.6 L1744 443.4 L1745 444.2 L1746 444.5 L1747 444.5 L1748 445.1 L1749 445.3 L1750 445 L1751 446.4 L1752 446.7 L1753 446.6 L1754 447.1 L1755 446.5 L1756 447.2 L1757 446.4 L1758 447.4 L1759 447.5 L1760 448 L1761 448 L1762 448.2 L1763 447.4 L1764 448.3 L1765 447.9 L1766 447.8 L1767 447.9 L1768 448.6 L1769 448.4 L1770 447.8 L1771 445.5 L1772 441.7 L1772 442.2 L1773 445 L1774 447.9 L1775 448.3 L1776 448.9 L1777 448.9 L1778 449.2 L1779 450.3 L1780 449.7 L1781 450.9 L1782 450.2 L1783 451.2 L1784 450.5 L1785 450.6 L1786 451 L1787 450.6 L1788 451.4 L1789 451.5 L1790 451.1 L1791 452.7 L1792 452.1 L1793 451.8 L1794 453.5 L1795 452.6 L1796 452.9 L1797 452.8 L1798 453.2 L1799 454.5 L1800 454.5 L1801 454.7 L1802 454.5 L1803 454.9 L1804 456.2 L1805 455.5 L1806 456.7 L1807 456.7 L1808 455.6 L1809 456.9 L1810 455.5 L1811 456.4 L1812 455.8 L1813 453.3 L1814 447.2 L1814.4 445.8 L1815 449.1 L1816 453.5 L1817 456.3 L1818 456.8 L1819 457.5 L1820 457.4 L1821 458.5 L1822 458.4 L1823 458.9 L1824 458.8 L1825 458.8 L1826 459.4 L1827 459.3 L1828 459 L1829 458.7 L1830 459.7 L1831 458.9 L1832 458.5 L1833 458.9 L1834 459.5 L1835 459.8 L1836 459.3 L1837 459.2 L1838 459.4 L1839 458.7 L1840 457.3 L1841 455 L1842 449.2 L1843 439.4 L1843 439.7 L1844 448.3 L1845 455.5 L1846 458.2 L1847 458.3 L1848 459.5 L1849 460.2 L1850 459.2 L1851 459.3 L1852 460 L1853 459.9 L1854 461 L1855 461.1 L1856 460.3 L1857 460.9 L1858 460.7 L1859 460 L1860 461.4 L1861 460.1 L1862 460 L1863 460.7 L1864 460 L1865 460.8 L1866 460.7 L1867 461.6 L1868 460.8 L1869 461.5 L1870 461.5 L1871 461.2 L1872 460.7 L1873 460.8 L1874 461.1 L1875 461 L1876 461.4 L1877 461.3 L1878 461 L1879 461.5 L1880 462.1 L1881 460.9 L1882 461.1 L1883 460.6 L1884 460.7 L1885 460.7 L1886 461.2 L1887 461.9 L1888 461.6 L1889 462 L1890 461.6 L1891 460.9 L1892 460.4 L1893 458.3 L1894 456.7 L1895 454.6 L1895 455 L1896 457.1 L1897 458.5 L1898 460.5 L1899 460.8 L1900 461.3 L1901 461.4 L1902 461 L1903 462.1 L1904 462.3 L1905 462.1 L1906 461.4 L1907 462.2 L1908 462.6 L1909 462.9 L1910 462.5 L1911 461.4 L1912 462.8 L1913 462.5 L1914 461.9 L1915 462.9 L1916 462.8 L1917 462.9 L1918 461.9 L1919 462.4 L1920 462.1 L1921 462 L1922 462.7 L1923 462.4 L1924 461.9 L1925 462.2 L1926 462.6 L1927 461.8 L1928 461.8 L1929 460.1 L1930 458.6 L1931 455.2 L1931 456 L1932 457.8 L1933 460.2 L1934 461.6 L1935 462.6 L1936 462.3 L1937 462.3 L1938 462.7 L1939 462.6 L1940 462.9 L1941 463.4 L1942 461.9 L1943 462.5 L1944 463.4 L1945 462.1 L1946 463.3 L1947 462.1 L1948 463.1 L1949 463.4 L1950 462.5 L1951 462.8 L1952 462.6 L1953 463.3 L1954 463.1 L1955 463.2 L1956 462.8 L1957 463.2 L1958 463.8 L1959 463.6 L1960 463.9 L1961 462.8 L1962 463.2 L1963 463 L1964 463 L1965 463.7 L1966 462.7 L1967 463.4 L1968 463.7 L1969 464 L1970 462.6 L1971 463 L1972 463.4 L1973 464.1 L1974 462.9 L1975 464 L1976 463.3 L1977 463.5 L1978 464.2 L1979 462.8 L1980 463.2 L1981 463 L1982 463 L1983 463.3 L1984 463.9 L1985 463.7 L1986 463 L1987 464.1 L1988 463.7 L1989 463.1 L1990 464.2 L1991 464.2 L1992 463.3 L1993 464.4 L1994 464.3 L1995 463.3 L1996 463 L1997 464.4 L1998 464.3 L1999 463.1 L2000 464.2 L2001 464.2 L2002 463.9 L2003 464.1 L2004 464.3 L2005 463 L2006 463.4 L2007 462.8 L2008 460.3 L2009 457.9 L2010 455 L2010 455.3 L2011 458.2 L2012 460.8 L2013 461.9 L2014 462.7 L2015 463.6 L2016 463.2 L2017 464.6 L2018 464.8 L2019 463.8 L2020 464.6 L2021 464.7 L2022 463.9 L2023 465 L2024 465 L2025 464.3 L2026 464 L2027 464.4 L2028 465.2 L2029 464.7 L2030 465.3 L2031 464.3 L2032 464.3 L2033 464.7 L2034 465.6 L2035 464.5 L2036 464.4 L2037 465.5 L2038 464.5 L2039 465.4 L2040 464.5 L2041 464.8 L2042 465.5 L2043 465.9 L2044 465.2 L2045 465.3 L2046 464.7 L2047 465.2 L2048 465.1 L2049 466 L2050 465.9 L2051 466 L2052 465.7 L2053 466 L2054 465.1 L2055 465.5 L2056 465.4 L2057 465.4 L2058 466.2 L2059 465.4 L2060 465.6 L2061 465.6 L2062 466.5 L2063 466.2 L2064 466 L2065 465.9 L2066 466.8 L2067 466.8 L2068 466.1 L2069 466.3 L2070 466.8 L2071 465.9 L2072 465.9 L2073 465.7 L2074 466.3 L2075 466.8 L2076 465.8 L2077 466.3 L2078 467.2 L2079 466.4 L2080 466.3 L2081 467.1 L2082 467.2 L2083 466.4 L2084 466 L2085 466.9 L2086 467.1 L2087 467.4 L2088 467 L2089 466.4 L2090 466.8 L2091 466.5 L2092 466.7 L2093 466.8 L2094 467.5 L2095 467.5 L2096 467.6 L2097 466.9 L2098 467.7 L2099 466.4 L2100 467.7 L2101 467.2 L2102 467.6 L2103 466.9 L2104 467.9 L2105 466.3 L2106 467.7 L2107 467.6 L2108 466.9 L2109 467.7 L2110 466.7 L2111 467.6 L2112 467.2 L2113 467.1 L2114 466.8 L2115 467.8 L2116 467.7 L2117 466.7 L2118 468.1 L2119 466.9 L2120 467.2 L2121 467.3 L2122 467.5 L2123 468.1 L2124 468.2 L2125 467.7 L2126 467.3 L2127 466.9 L2128 466.8 L2129 467.6 L2130 467.7 L2131 467.5 L2132 468.4 L2133 467.5 L2134 467.4 L2135 467.5 L2136 467.1 L2137 468.4 L2138 467.8 L2139 467.8 L2140 467.6 L2141 467.3 L2142 467.5 L2143 467.8 L2144 467.7 L2145 468.6 L2146 467.9 L2147 467.4 L2148 467.2 L2149 467.3 L2150 467.7 L2151 468.4 L2152 468.6 L2153 467.5 L2154 468.4 L2155 467.9 L2156 468.1 L2157 468.1 L2158 467.3 L2159 467.4 L2160 468.3 L2161 468.4 L2162 467.9 L2163 468.8 L2164 468.6 L2165 467.8 L2166 467.5 L2167 468.3 L2168 468.4 L2169 467.8 L2170 467.5 L2171 468.2 L2172 467.5 L2173 468.7 L2174 468.5 L2175 467.9 L2176 468.2 L2177 467.9 L2178 467.8 L2179 467.9 L2180 468.9 L2181 468.3 L2182 468.8 L2183 468.2 L2184 468.9 L2185 468.6 L2186 468.7 L2187 468.3 L2188 468.6 L2189 468 L2190 469.3 L2191 468.8 L2192 468.6 L2193 468.8 L2194 468 L2195 468.3 L2196 468.2 L2197 469.2 L2198 467.9 L2199 468.6 L2200 469.3 L2201 469.1 L2202 469.1 L2203 468.4 L2204 468.3 L2205 469.1 L2206 468.4 L2207 469.1 L2208 468.6 L2209 469.2 L2210 468.9 L2211 469.3 L2212 469.6 L2213 468.7 L2214 469.7 L2215 468.1 L2216 469.5 L2217 468.2 L2218 469 L2219 468.8 L2220 469.4 L2221 468.7 L2222 468.5 L2223 469.5 L2224 469.1 L2225 469.4 L2226 469 L2227 468.3 L2228 469.5 L2229 468.6 L2230 469.1 L2231 468.3 L2232 468.8 L2233 469.4 L2234 469.6 L2235 469.4 L2236 469.1 L2237 469.6 L2238 469.5 L2239 468.8 L2240 469.3 L2241 469.4 L2242 469.6 L2243 468.8 L2244 469 L2245 469.1 L2246 468.7 L2247 469.1 L2248 469.7 L2249 469.5 L2250 468.9 L2251 469.8 L2252 468.8 L2253 469.8 L2254 468.9 L2255 468.8 L2256 469.1 L2257 469.5 L2258 469.1 L2259 470.1 L2260 470.2 L2261 469.2 L2262 470 L2263 469.9 L2264 469.7 L2265 469.2 L2266 470.3 L2267 470.4 L2268 468.9 L2269 469.4 L2270 469.4 L2271 469.2 L2272 469.6 L2273 470.3 L2274 469 L2275 470.3 L2276 469.4 L2277 469 L2278 470.4 L2279 469.4 L2280 469.3 L2281 469.2 L2282 469.6 L2283 469.2 L2284 469.4 L2285 469.5 L2286 470 L2287 469.8 L2288 469.6 L2289 470 L2290 470.4 L2291 470.3 L2292 469.7 L2293 470.7 L2294 470.5 L2295 470.1 L2296 470 L2297 469.8 L2298 469.5 L2299 470.7 L2300 470.3 L2301 469.5 L2302 470.8 L2303 470.8 L2304 469.4 L2305 470.5 L2306 469.8 L2307 470.3 L2308 470.7 L2309 470 L2310 470.2 L2311 470.5 L2312 469.8 L2313 470.5 L2314 470.2 L2315 471.1 L2316 469.8 L2317 470.7 L2318 469.6 L2319 470 L2320 469.8 L2321 469.8 L2322 470.5 L2323 469.9 L2324 470.9 L2325 469.8 L2326 470.7 L2327 471.1 L2328 469.9 L2329 470.1 L2330 471 L2331 470.5 L2332 471.3 L2333 470.3" fill="none" stroke="#1a56b8" stroke-width="3.4" stroke-linejoin="round" stroke-linecap="round"/>
<path d="M1347 585.4 L1348 587.9 L1349 588.5 L1350 591.1 L1351 592.4 L1352 592.5 L1353 594.2 L1354 596 L1355 595.8 L1356 598.1 L1357 599 L1358 600 L1359 600.6 L1360 600.7 L1361 602.7 L1362 601.9 L1363 603.4 L1364 603.6 L1365 603.3 L1366 604.2 L1367 604 L1368 604.8 L1369 604 L1370 605.6 L1371 605 L1372 605.9 L1373 605.6 L1374 606.4 L1375 605.8 L1376 606.4 L1377 605.7 L1378 606.7 L1379 606.2 L1380 607.6 L1381 607.5 L1382 607.2 L1383 608.3 L1384 608.4 L1385 608.5 L1386 607.2 L1387 608.4 L1388 608.5 L1389 608.4 L1390 607.6 L1391 609.2 L1392 608.5 L1393 608.8 L1394 609.3 L1395 608.5 L1396 608.2 L1397 609.7 L1398 608.7 L1399 608.3 L1400 608.5 L1401 609.9 L1402 609.5 L1403 608.5 L1404 608.3 L1405 609.2 L1406 608.3 L1407 607.1 L1408 604.2 L1409 599.1 L1410 581.7 L1411 543.9 L1411 544.7 L1412 581 L1413 598.9 L1414 606.1 L1415 607 L1416 609.6 L1417 610.1 L1418 610.3 L1419 609.6 L1420 610.9 L1421 610.7 L1422 610.9 L1423 610.5 L1424 611.2 L1425 611.7 L1426 610.8 L1427 612.1 L1428 611.4 L1429 611.3 L1430 611.3 L1431 611.7 L1432 612.1 L1433 612 L1434 612.6 L1435 612.1 L1436 612.1 L1437 613 L1438 611.8 L1439 611.5 L1440 612.1 L1441 612.1 L1442 611.9 L1443 612.4 L1444 611.8 L1445 613.3 L1446 612.7 L1447 613.3 L1448 613.1 L1449 613.2 L1450 613.3 L1451 612.6 L1452 613.3 L1453 612.5 L1454 613.1 L1455 613.2 L1456 613.6 L1457 612.6 L1458 613 L1459 613.8 L1460 613.8 L1461 614.1 L1462 612.8 L1463 612.9 L1464 612.8 L1465 613.8 L1466 613.9 L1467 613.8 L1468 614 L1469 613.6 L1470 613.7 L1471 614.3 L1472 613.9 L1473 614 L1474 613.9 L1475 613.8 L1476 614.2 L1477 613.9 L1478 613.2 L1479 613.7 L1480 613.7 L1481 613.7 L1482 613.9 L1483 613.6 L1484 613.7 L1485 613.7 L1486 613.6 L1487 614.5 L1488 613 L1489 612.7 L1490 613.6 L1491 612.8 L1492 612.4 L1493 611.9 L1494 610.1 L1495 606.9 L1496 599.2 L1497 576.5 L1498 528.4 L1498 529.1 L1499 575.5 L1500 599.7 L1501 606.8 L1502 609.2 L1503 611.9 L1504 612.5 L1505 611.9 L1506 612.2 L1507 613 L1508 613.1 L1509 612.5 L1510 612.3 L1511 611.9 L1512 612.7 L1513 612.6 L1514 612.3 L1515 610.9 L1516 611.4 L1517 611.7 L1518 611 L1519 610.3 L1520 609.5 L1521 609 L1522 609.7 L1523 608.3 L1524 609.1 L1525 608.5 L1526 607.7 L1527 607.9 L1528 607.2 L1529 605.4 L1530 601.4 L1530.7 599.9 L1531 600.5 L1532 603.4 L1533 604.4 L1534 605.8 L1535 605.5 L1536 604.4 L1537 604.4 L1538 604.3 L1539 604.5 L1540 603.8 L1541 603.7 L1542 604.1 L1543 602.8 L1544 603.4 L1545 602.5 L1546 603.2 L1547 603 L1548 601.7 L1549 601.9 L1550 600.8 L1551 601 L1552 601 L1553 600.8 L1554 600 L1555 599.2 L1556 599 L1557 599.4 L1558 598.5 L1559 598.4 L1560 598.6 L1561 598.7 L1562 597.7 L1563 597 L1564 597.2 L1565 596.4 L1566 596.8 L1567 595.5 L1568 595.3 L1569 595.3 L1570 595.7 L1571 594.2 L1572 593.9 L1573 593.4 L1574 593.2 L1575 593 L1576 592.8 L1577 593.1 L1578 592.1 L1579 591.9 L1580 591.5 L1581 591.7 L1582 591.6 L1583 590.5 L1584 591 L1585 589.6 L1586 590.5 L1587 589.5 L1588 589.5 L1589 588.7 L1590 588.3 L1591 587.8 L1592 588.7 L1593 587.6 L1594 587.9 L1595 587.2 L1596 587 L1597 586.2 L1598 585.8 L1599 585.7 L1600 585.8 L1601 585.1 L1602 583.7 L1603 583.9 L1604 581.9 L1605 577.9 L1606 570.9 L1606.3 570.2 L1607 573.3 L1608 579.4 L1609 580.5 L1610 580.4 L1611 580.1 L1612 579.6 L1613 579 L1614 578.3 L1615 578.1 L1616 577.2 L1617 576.1 L1618 575.4 L1619 574 L1620 572.1 L1621 570.9 L1622 570.1 L1623 569.3 L1624 568.8 L1625 568.5 L1626 567.2 L1627 566.1 L1628 565 L1629 565.3 L1630 564 L1631 562.5 L1632 561.3 L1633 562 L1634 560.2 L1635 560.6 L1636 558.9 L1637 559.4 L1638 558.7 L1639 559.3 L1640 558.2 L1641 557.7 L1642 557.7 L1643 558.5 L1644 558.7 L1645 558.1 L1646 558 L1647 557.3 L1648 557.3 L1649 557 L1650 558.4 L1651 556.9 L1652 557.8 L1653 557.4 L1654 557.1 L1655 557.6 L1656 558.4 L1657 557.4 L1658 557.3 L1659 558.1 L1660 558.2 L1661 558 L1662 557.5 L1663 558.6 L1664 557.3 L1665 557.2 L1666 556.7 L1667 555.6 L1668 551.4 L1668.6 549.3 L1669 550.6 L1670 556 L1671 558.6 L1672 559 L1673 559 L1674 560.8 L1675 559.9 L1676 560.9 L1677 561 L1678 562.2 L1679 562.9 L1680 562.3 L1681 563 L1682 564.5 L1683 564.9 L1684 564.6 L1685 566.3 L1686 567.1 L1687 567.2 L1688 567.3 L1689 568.6 L1690 568.4 L1691 568.3 L1692 568.3 L1693 568.4 L1694 567.4 L1695 567.2 L1696 566.8 L1697 566.1 L1698 565.2 L1699 565.2 L1700 563.7 L1701 563.6 L1702 563.7 L1703 562 L1704 557.5 L1705 550.5 L1705 550.9 L1706 557 L1707 561.9 L1708 563.3 L1709 563.5 L1710 564.3 L1711 564.5 L1712 566.2 L1713 565.8 L1714 566.4 L1715 567.2 L1716 567.2 L1717 568.9 L1718 569.9 L1719 570.9 L1720 572.1 L1721 572.6 L1722 573.8 L1723 576.6 L1724 578.5 L1725 580.1 L1726 582.3 L1727 584.2 L1728 587.5 L1729 589 L1730 591.5 L1731 592.4 L1732 593.8 L1733 595.2 L1734 596.2 L1735 596.6 L1736 595.2 L1737 593.5 L1738 586.5 L1738.8 580.7 L1739 581.8 L1740 590.5 L1741 594.5 L1742 595.7 L1743 596.3 L1744 597.7 L1745 597.9 L1746 597.5 L1747 597.5 L1748 598 L1749 599.6 L1750 598.4 L1751 599.9 L1752 599.8 L1753 600.1 L1754 600.4 L1755 600.5 L1756 601 L1757 600.5 L1758 602.2 L1759 601.1 L1760 601.5 L1761 602.6 L1762 602.9 L1763 603.4 L1764 603.5 L1765 604.1 L1766 602.9 L1767 602.9 L1768 603.1 L1769 602.9 L1770 600.4 L1770 601 L1771 603.1 L1772 605 L1773 604.7 L1774 605.8 L1775 606.8 L1776 606.8 L1777 606.6 L1778 607 L1779 607 L1780 608.4 L1781 608.4 L1782 608.5 L1783 608.1 L1784 609.1 L1785 609 L1786 609.8 L1787 609.3 L1788 610.4 L1789 610.4 L1790 610.3 L1791 610.7 L1792 611.4 L1793 611.2 L1794 612.2 L1795 610.9 L1796 612.6 L1797 612.5 L1798 612.4 L1799 613.2 L1800 612.3 L1801 612.9 L1802 613.7 L1803 614.1 L1804 613.6 L1805 614.7 L1806 614.4 L1807 613.5 L1808 613.7 L1809 613.6 L1810 614.2 L1811 613.1 L1812 610.7 L1813 605.6 L1813.3 605 L1814 607.5 L1815 613.5 L1816 615.2 L1817 615.6 L1818 615.8 L1819 615.9 L1820 616.6 L1821 616.4 L1822 617.5 L1823 617.6 L1824 617.3 L1825 617.6 L1826 616.5 L1827 616.6 L1828 617 L1829 616.7 L1830 617.2 L1831 618.2 L1832 617.9 L1833 618.1 L1834 616.9 L1835 616.9 L1836 616.5 L1837 616.7 L1838 615.9 L1839 615.8 L1840 613.4 L1841 608.1 L1841.9 601 L1842 601.2 L1843 609.7 L1844 614.1 L1845 616.6 L1846 617.3 L1847 617.8 L1848 617.7 L1849 617.8 L1850 617.6 L1851 617.3 L1852 618.1 L1853 618.4 L1854 617.7 L1855 618.9 L1856 618.9 L1857 618.9 L1858 618.9 L1859 618.4 L1860 617.9 L1861 618.1 L1862 618.8 L1863 619.3 L1864 617.9 L1865 617.7 L1866 618.3 L1867 618.3 L1868 618.7 L1869 618 L1870 619.1 L1871 618.3 L1872 619.3 L1873 618.3 L1874 618.3 L1875 618.1 L1876 619.4 L1877 618.8 L1878 619.2 L1879 617.9 L1880 618.7 L1881 619 L1882 619.4 L1883 619.3 L1884 617.9 L1885 618.3 L1886 619.3 L1887 618.5 L1888 619.1 L1889 617.7 L1890 617.1 L1891 617.9 L1892 615.6 L1893 613.7 L1894 611.4 L1894 611.6 L1895 613.8 L1896 616.8 L1897 618 L1898 618.5 L1899 617.9 L1900 619 L1901 617.9 L1902 618.6 L1903 619.5 L1904 618.5 L1905 618.7 L1906 619.1 L1907 618.6 L1908 619.4 L1909 619.3 L1910 618.5 L1911 619.8 L1912 618.5 L1913 619.5 L1914 619 L1915 618.7 L1916 618.6 L1917 620.1 L1918 619.8 L1919 619.2 L1920 619.8 L1921 620.1 L1922 620.1 L1923 619.4 L1924 619 L1925 619.5 L1926 620.2 L1927 619.8 L1928 619.8 L1929 620.1 L1930 619.4 L1931 619.6 L1932 620.1 L1933 619.1 L1934 620.2 L1935 618.9 L1936 619.7 L1937 619.8 L1938 619.1 L1939 620.4 L1940 619.6 L1941 619.2 L1942 619.6 L1943 619.9 L1944 619.7 L1945 619 L1946 619.2 L1947 620.2 L1948 619.3 L1949 619.5 L1950 620.4 L1951 620.5 L1952 620.6 L1953 619.4 L1954 619.2 L1955 620.4 L1956 620.2 L1957 619.8 L1958 619.3 L1959 620 L1960 619.7 L1961 620.3 L1962 620.9 L1963 619.7 L1964 619.5 L1965 620.5 L1966 619.6 L1967 619.8 L1968 620.2 L1969 621 L1970 620 L1971 620 L1972 620.3 L1973 619.8 L1974 620.2 L1975 620.7 L1976 620.1 L1977 620.9 L1978 619.9 L1979 619.8 L1980 620.7 L1981 620.4 L1982 621.2 L1983 619.9 L1984 621 L1985 620.8 L1986 620.4 L1987 620 L1988 620.8 L1989 621.1 L1990 620.6 L1991 620.6 L1992 621 L1993 620.9 L1994 620.6 L1995 620.2 L1996 620.6 L1997 620.7 L1998 621.3 L1999 621.4 L2000 620.6 L2001 620.2 L2002 619.8 L2003 620.2 L2004 619.9 L2005 618.3 L2006 617.4 L2007 614.5 L2008 608.6 L2008.4 608 L2009 610.3 L2010 614.5 L2011 617.9 L2012 619.7 L2013 619.4 L2014 620.1 L2015 621.4 L2016 620.2 L2017 620.7 L2018 621.1 L2019 621.6 L2020 621.5 L2021 622.1 L2022 621.7 L2023 620.7 L2024 620.8 L2025 620.8 L2026 621.5 L2027 620.9 L2028 621.7 L2029 622 L2030 621.3 L2031 622.4 L2032 621.7 L2033 622.6 L2034 621.7 L2035 622.2 L2036 622.1 L2037 621.7 L2038 622.5 L2039 621.3 L2040 621.7 L2041 621.9 L2042 622.8 L2043 622.2 L2044 621.5 L2045 622 L2046 622.5 L2047 622.9 L2048 621.8 L2049 622.9 L2050 622.3 L2051 622.5 L2052 622.4 L2053 622.5 L2054 623.4 L2055 623.3 L2056 623.3 L2057 623.1 L2058 623.1 L2059 622.2 L2060 622.1 L2061 623.4 L2062 623.1 L2063 623.1 L2064 622.6 L2065 622.6 L2066 623.7 L2067 623.1 L2068 622.3 L2069 622.8 L2070 622.9 L2071 622.5 L2072 624 L2073 623.9 L2074 623.8 L2075 622.5 L2076 623.2 L2077 622.7 L2078 623.7 L2079 623.9 L2080 623.9 L2081 623.9 L2082 622.9 L2083 622.7 L2084 622.9 L2085 624.1 L2086 624.1 L2087 623.7 L2088 623.2 L2089 624.3 L2090 623.1 L2091 623.5 L2092 623 L2093 624.6 L2094 623.7 L2095 624.3 L2096 624.4 L2097 624 L2098 624.7 L2099 624.4 L2100 624.7 L2101 624.8 L2102 623.4 L2103 624.5 L2104 623.7 L2105 623.8 L2106 623.9 L2107 625 L2108 623.5 L2109 624.1 L2110 623.6 L2111 625.1 L2112 624.3 L2113 624.6 L2114 624.4 L2115 624.8 L2116 624.1 L2117 624.3 L2118 624.8 L2119 624.8 L2120 625.1 L2121 624.2 L2122 625.1 L2123 624.9 L2124 624.7 L2125 624.5 L2126 624.7 L2127 624 L2128 624 L2129 624.4 L2130 624.1 L2131 624 L2132 625.1 L2133 625.2 L2134 625 L2135 624.4 L2136 625.2 L2137 625.4 L2138 625.1 L2139 624.5 L2140 625.1 L2141 624.8 L2142 624.7 L2143 624.5 L2144 625.7 L2145 625.3 L2146 625.8 L2147 624.6 L2148 624.8 L2149 625.2 L2150 624.5 L2151 624.9 L2152 625.3 L2153 625.3 L2154 626 L2155 625.5 L2156 625.6 L2157 625.5 L2158 625.9 L2159 625.2 L2160 624.7 L2161 626.2 L2162 626 L2163 624.9 L2164 624.9 L2165 625.1 L2166 625.8 L2167 625 L2168 624.9 L2169 625.7 L2170 624.9 L2171 625.3 L2172 625.5 L2173 625.3 L2174 625 L2175 625.4 L2176 625.4 L2177 625.6 L2178 625.7 L2179 625.7 L2180 625.6 L2181 625.2 L2182 626.5 L2183 626.4 L2184 626 L2185 625.2 L2186 625.6 L2187 626.7 L2188 626 L2189 625.7 L2190 626.7 L2191 626.8 L2192 625.6 L2193 626.2 L2194 626.3 L2195 625.6 L2196 626 L2197 626.5 L2198 626.6 L2199 626.6 L2200 626.6 L2201 626.2 L2202 625.7 L2203 625.7 L2204 627 L2205 627.1 L2206 627.2 L2207 625.9 L2208 627 L2209 626.1 L2210 626.4 L2211 626.1 L2212 627.2 L2213 627.2 L2214 627.2 L2215 626.5 L2216 627.4 L2217 626.4 L2218 626.9 L2219 627.1 L2220 626.4 L2221 626.7 L2222 626.2 L2223 627.4 L2224 626.4 L2225 626.4 L2226 626.6 L2227 627.2 L2228 627.2 L2229 627.1 L2230 627.6 L2231 627.5 L2232 626.6 L2233 627.2 L2234 626.6 L2235 626.8 L2236 626.6 L2237 626.5 L2238 627 L2239 627.9 L2240 627.5 L2241 626.6 L2242 626.9 L2243 627.5 L2244 627.4 L2245 626.6 L2246 626.8 L2247 627.5 L2248 627.6 L2249 626.8 L2250 627.9 L2251 627.1 L2252 627.7 L2253 627.6 L2254 627.3 L2255 628.3 L2256 627.5 L2257 627.5 L2258 627.7 L2259 628.2 L2260 628.5 L2261 628.2 L2262 627.8 L2263 628.1 L2264 628 L2265 628.6 L2266 628.6 L2267 628.3 L2268 627.4 L2269 628 L2270 627.9 L2271 627.5 L2272 628.4 L2273 627.6 L2274 628.4 L2275 628 L2276 628 L2277 628.4 L2278 628.5 L2279 628.9 L2280 629 L2281 628.7 L2282 627.8 L2283 628.5 L2284 628.3 L2285 629 L2286 628.2 L2287 628.1 L2288 627.6 L2289 628.3 L2290 628.4 L2291 628.1 L2292 627.8 L2293 628.4 L2294 627.8 L2295 628 L2296 628.4 L2297 628.3 L2298 628.6 L2299 628.6 L2300 628.4 L2301 628.1 L2302 627.9 L2303 628.8 L2304 629.5 L2305 628.4 L2306 628.5 L2307 628.5 L2308 629.2 L2309 628.8 L2310 629.3 L2311 628.1 L2312 628.3 L2313 628.4 L2314 628.7 L2315 628.8 L2316 628.8 L2317 629.8 L2318 628.9 L2319 629.2 L2320 629.8 L2321 629.3 L2322 629.3 L2323 629.7 L2324 628.9 L2325 628.4 L2326 629.9 L2327 629.3 L2328 629.4 L2329 628.6 L2330 629.7 L2331 629.1 L2332 629.6 L2333 629" fill="none" stroke="#d42a30" stroke-width="3.4" stroke-linejoin="round" stroke-linecap="round"/>
<path d="M1347 710.5 L1348 713.1 L1349 716.4 L1350 720.8 L1351 722.2 L1352 725 L1353 728 L1354 731.3 L1355 731.6 L1356 733.4 L1357 735.9 L1358 735.7 L1359 737.5 L1360 739.2 L1361 739.9 L1362 740.8 L1363 740.2 L1364 742.5 L1365 742.1 L1366 743.6 L1367 743.6 L1368 745 L1369 744.8 L1370 744.9 L1371 745.2 L1372 746.4 L1373 746 L1374 746.6 L1375 748.4 L1376 748.1 L1377 749 L1378 747.8 L1379 748.7 L1380 748.8 L1381 748.3 L1382 748.7 L1383 750.2 L1384 750 L1385 749.7 L1386 750 L1387 750.6 L1388 750.9 L1389 750.3 L1390 749.3 L1391 751 L1392 749.7 L1393 749.9 L1394 749.8 L1395 750.6 L1396 750.8 L1397 750.6 L1398 750.7 L1399 750.1 L1400 751.4 L1401 751.1 L1402 750.7 L1403 751.9 L1404 752.2 L1405 752.2 L1406 752.4 L1407 750.7 L1408 751.3 L1409 751.5 L1410 751 L1411 751.5 L1412 750.2 L1413 746.3 L1413 747 L1414 750.1 L1415 753.3 L1416 754.2 L1417 753.9 L1418 753.6 L1419 754.6 L1420 755.1 L1421 755.9 L1422 755 L1423 755.5 L1424 757.2 L1425 755.5 L1426 757 L1427 756.2 L1428 757.8 L1429 757.4 L1430 758.7 L1431 757.6 L1432 759.1 L1433 758.1 L1434 758 L1435 758.3 L1436 758.6 L1437 759.5 L1438 760.9 L1439 759.9 L1440 760.9 L1441 759.8 L1442 761 L1443 761.3 L1444 760.7 L1445 761.9 L1446 761.9 L1447 761.9 L1448 763.2 L1449 763.1 L1450 762.2 L1451 762.4 L1452 762.6 L1453 763.3 L1454 764.2 L1455 765.1 L1456 765.4 L1457 765.4 L1458 764.2 L1459 765.8 L1460 765.9 L1461 765.6 L1462 766.9 L1463 766.3 L1464 765.6 L1465 766 L1466 766.1 L1467 767.3 L1468 767.5 L1469 768.2 L1470 766.8 L1471 767 L1472 769.2 L1473 768 L1474 768.2 L1475 769.7 L1476 768.4 L1477 770 L1478 770.4 L1479 770 L1480 770.3 L1481 769.3 L1482 770.7 L1483 771 L1484 771.5 L1485 771.2 L1486 770.6 L1487 771 L1488 772.1 L1489 771.2 L1490 771.4 L1491 771.8 L1492 773 L1493 772.5 L1494 771.9 L1495 772.1 L1496 767.7 L1497 759.5 L1497 760 L1498 768.2 L1499 773 L1500 773.5 L1501 774.3 L1502 775.1 L1503 776.2 L1504 775.8 L1505 775 L1506 776 L1507 775.6 L1508 775.9 L1509 776.5 L1510 775.2 L1511 776.2 L1512 775.9 L1513 776.6 L1514 777.1 L1515 776.4 L1516 776.8 L1517 776.2 L1518 776.2 L1519 776.7 L1520 776.8 L1521 776.3 L1522 777.4 L1523 776.9 L1524 776.7 L1525 776.5 L1526 777.7 L1527 777.9 L1528 778 L1529 776.6 L1530 776.3 L1531 777.4 L1532 776.3 L1533 777.9 L1534 777.6 L1535 776.9 L1536 777.1 L1537 777.6 L1538 776.6 L1539 777 L1540 777.8 L1541 777.6 L1542 777.4 L1543 776.4 L1544 776.6 L1545 776.6 L1546 776.1 L1547 777.3 L1548 777.1 L1549 777.8 L1550 777 L1551 777.6 L1552 776.7 L1553 776.7 L1554 776.1 L1555 776.4 L1556 777.2 L1557 776.1 L1558 775 L1559 775.6 L1560 775.1 L1561 775.8 L1562 775.4 L1563 775.1 L1564 775.8 L1565 775.3 L1566 773.7 L1567 773.4 L1568 774.5 L1569 774 L1570 773.9 L1571 773.4 L1572 772.2 L1573 772.8 L1574 773.3 L1575 772.6 L1576 771.2 L1577 771.1 L1578 772.4 L1579 771.4 L1580 770.3 L1581 771.1 L1582 771.3 L1583 770.9 L1584 770.2 L1585 770.2 L1586 768.4 L1587 768.9 L1588 769.3 L1589 768 L1590 767.3 L1591 768.4 L1592 767.8 L1593 766 L1594 765.8 L1595 766.4 L1596 766.9 L1597 765.8 L1598 766 L1599 764 L1600 764.6 L1601 763.4 L1602 763.3 L1603 762.5 L1604 762.7 L1605 761.4 L1606 762.2 L1607 761.7 L1608 761.7 L1609 760.9 L1610 759 L1611 760 L1612 758.7 L1613 758.9 L1614 757.3 L1615 755.9 L1616 756.4 L1617 754.7 L1618 755.6 L1619 754 L1620 754.1 L1621 752.6 L1622 751.6 L1623 751.6 L1624 751 L1625 749.9 L1626 748.9 L1627 748.6 L1628 748.5 L1629 746.9 L1630 746 L1631 746 L1632 745.7 L1633 743.9 L1634 743.7 L1635 744.5 L1636 742.5 L1637 743 L1638 741.6 L1639 740.7 L1640 741.1 L1641 741.6 L1642 741.1 L1643 739.3 L1644 740.4 L1645 740 L1646 739.5 L1647 739.6 L1648 739.1 L1649 738.2 L1650 739.1 L1651 737.8 L1652 738 L1653 738.9 L1654 738.2 L1655 738 L1656 738.3 L1657 737.8 L1658 737.5 L1659 737.7 L1660 736.5 L1661 736.9 L1662 735.8 L1663 736.2 L1664 733 L1664 733.8 L1665 735.7 L1666 736.4 L1667 738.6 L1668 738 L1669 739.5 L1670 739.6 L1671 740 L1672 740.7 L1673 740.2 L1674 741.7 L1675 741.6 L1676 742.5 L1677 743.1 L1678 742.3 L1679 743 L1680 743.3 L1681 743 L1682 744.9 L1683 744.7 L1684 744.5 L1685 744.8 L1686 745.4 L1687 743.7 L1688 744.2 L1689 744.6 L1690 744 L1691 743.6 L1692 742.7 L1693 742.2 L1694 742.7 L1695 741.7 L1696 742.5 L1697 742 L1698 741.8 L1699 740 L1700 739.8 L1701 737.5 L1702 736 L1702 736.3 L1703 737.7 L1704 740.3 L1705 742 L1706 742.2 L1707 741.9 L1708 742.2 L1709 744 L1710 742.8 L1711 745 L1712 745.6 L1713 744.7 L1714 747.1 L1715 747.2 L1716 747.5 L1717 748.4 L1718 749.6 L1719 750.4 L1720 752.2 L1721 753.6 L1722 754 L1723 755 L1724 758.2 L1725 759.7 L1726 761.3 L1727 761.7 L1728 763 L1729 765.7 L1730 765.5 L1731 766.2 L1732 767.5 L1733 765.7 L1734 764.9 L1735 758.8 L1735.4 758.6 L1736 761.4 L1737 766.9 L1738 767.9 L1739 770.1 L1740 771.2 L1741 771.3 L1742 771.6 L1743 772.3 L1744 772.1 L1745 772.1 L1746 773 L1747 773.3 L1748 773.3 L1749 773.7 L1750 773.1 L1751 773.7 L1752 774.1 L1753 775.5 L1754 775.7 L1755 775 L1756 776.8 L1757 775.2 L1758 775.6 L1759 776.4 L1760 776.2 L1761 778.3 L1762 777.4 L1763 777.8 L1764 779 L1765 778.7 L1766 779.2 L1767 779.1 L1768 779.4 L1769 780.6 L1770 779.5 L1771 780.3 L1772 780.4 L1773 780 L1774 780.2 L1775 781.1 L1776 781.9 L1777 781.3 L1778 780.8 L1779 782.7 L1780 781.3 L1781 783 L1782 781.5 L1783 782.9 L1784 782.1 L1785 782.5 L1786 783 L1787 783.9 L1788 783.4 L1789 783.6 L1790 783.7 L1791 784.1 L1792 783.8 L1793 785.3 L1794 784 L1795 784 L1796 785 L1797 784.8 L1798 785.7 L1799 784.5 L1800 785.9 L1801 785.5 L1802 786.7 L1803 785.6 L1804 786 L1805 786 L1806 786.5 L1807 786.2 L1808 787.1 L1809 786.7 L1810 787.4 L1811 786.7 L1812 787.2 L1813 787.5 L1814 788 L1815 788 L1816 787.7 L1817 787.1 L1818 787.3 L1819 787.4 L1820 787.6 L1821 787.7 L1822 788.8 L1823 788.2 L1824 789.5 L1825 788.2 L1826 788.3 L1827 788.3 L1828 788.3 L1829 789.4 L1830 789.3 L1831 788.7 L1832 789.8 L1833 789.5 L1834 788.9 L1835 789 L1836 788.5 L1837 786.4 L1838 781 L1838.6 779.5 L1839 780.5 L1840 787 L1841 788.1 L1842 789.5 L1843 788.9 L1844 790.5 L1845 790.9 L1846 790 L1847 790.2 L1848 790.5 L1849 790.1 L1850 790.1 L1851 790 L1852 791.2 L1853 790.9 L1854 791.9 L1855 791.9 L1856 791.8 L1857 792 L1858 791.8 L1859 790.3 L1860 790.5 L1861 792.3 L1862 792.1 L1863 791.6 L1864 791.7 L1865 791.4 L1866 791.4 L1867 790.9 L1868 791.7 L1869 791.2 L1870 790.9 L1871 792.4 L1872 791.9 L1873 792.5 L1874 791.4 L1875 792 L1876 791.4 L1877 792.5 L1878 791.3 L1879 792.2 L1880 792 L1881 791.6 L1882 791.1 L1883 791.9 L1884 792 L1885 792.6 L1886 791.4 L1887 791.4 L1888 791.6 L1889 792.6 L1890 791.5 L1891 792.3 L1892 791.1 L1893 791.2 L1894 792.4 L1895 792 L1896 791.2 L1897 792 L1898 792.9 L1899 791.8 L1900 792.1 L1901 791.8 L1902 792 L1903 791 L1904 792.7 L1905 792 L1906 791.5 L1907 791.4 L1908 791.1 L1909 792.6 L1910 792.3 L1911 791.3 L1912 791.7 L1913 791.6 L1914 790.8 L1915 790.4 L1916 791.7 L1917 790.5 L1918 791.2 L1919 790 L1920 790 L1921 790.2 L1922 791 L1923 790.9 L1924 791.5 L1925 790.8 L1926 790.4 L1927 789.3 L1928 791.1 L1929 790.1 L1930 790.7 L1931 789 L1932 790.5 L1933 789.7 L1934 789.1 L1935 789.3 L1936 788.6 L1937 789.5 L1938 788.7 L1939 789.6 L1940 788.4 L1941 789.4 L1942 789.1 L1943 789.3 L1944 789.7 L1945 788.3 L1946 789 L1947 788.3 L1948 789.3 L1949 789.1 L1950 788.9 L1951 788.5 L1952 787.8 L1953 789 L1954 789.1 L1955 789 L1956 787.8 L1957 788.7 L1958 788.4 L1959 788.7 L1960 788.6 L1961 787.9 L1962 787.8 L1963 788.6 L1964 788.3 L1965 788.1 L1966 788.8 L1967 787.2 L1968 787.2 L1969 788.2 L1970 787.5 L1971 789.1 L1972 787.7 L1973 789.3 L1974 788.1 L1975 788 L1976 789.3 L1977 789.3 L1978 788.9 L1979 789.3 L1980 789.4 L1981 790.2 L1982 789.5 L1983 789.6 L1984 789.6 L1985 789.6 L1986 790.2 L1987 789.2 L1988 790.4 L1989 791 L1990 790.8 L1991 790.4 L1992 790.1 L1993 789.7 L1994 789.7 L1995 790.7 L1996 791.4 L1997 791.4 L1998 790 L1999 791.1 L2000 791.1 L2001 790.3 L2002 790.7 L2003 788.6 L2004 787.4 L2005 785.4 L2005.5 784.8 L2006 785.8 L2007 787.7 L2008 789 L2009 790.9 L2010 790.4 L2011 790.7 L2012 790.5 L2013 791.1 L2014 791.6 L2015 791 L2016 791.7 L2017 791.4 L2018 790.5 L2019 792.4 L2020 791.1 L2021 791.7 L2022 792.5 L2023 791.1 L2024 790.8 L2025 791.1 L2026 791 L2027 792.5 L2028 791.8 L2029 790.9 L2030 791.4 L2031 791.9 L2032 791.2 L2033 791.5 L2034 792.8 L2035 791.9 L2036 791.5 L2037 792.2 L2038 791.3 L2039 792.1 L2040 792.4 L2041 791.3 L2042 792.2 L2043 791.8 L2044 792.6 L2045 792.4 L2046 793 L2047 792.4 L2048 791.6 L2049 791.6 L2050 792.7 L2051 792.9 L2052 791.4 L2053 792.2 L2054 791.9 L2055 792.3 L2056 793.1 L2057 792.5 L2058 792.9 L2059 793 L2060 792 L2061 792.7 L2062 792.2 L2063 792.4 L2064 792.6 L2065 792.9 L2066 791.9 L2067 793.2 L2068 791.9 L2069 792.2 L2070 793.3 L2071 793.6 L2072 792.4 L2073 793.5 L2074 791.7 L2075 793.6 L2076 792.1 L2077 791.8 L2078 793.2 L2079 792 L2080 793.2 L2081 791.8 L2082 792 L2083 792.5 L2084 792 L2085 792.7 L2086 792.5 L2087 793.3 L2088 792.8 L2089 793.8 L2090 793.6 L2091 792.2 L2092 793.7 L2093 793.7 L2094 793 L2095 793 L2096 792.3 L2097 792.6 L2098 792.4 L2099 792.4 L2100 793.2 L2101 792.7 L2102 793.6 L2103 793.2 L2104 793.7 L2105 792.2 L2106 793.8 L2107 793.1 L2108 793.4 L2109 792.6 L2110 793.5 L2111 793 L2112 793.6 L2113 793.3 L2114 792.5 L2115 792.8 L2116 793.7 L2117 792.3 L2118 793.5 L2119 793.3 L2120 793.7 L2121 792.9 L2122 793.2 L2123 793.3 L2124 793.8 L2125 792.5 L2126 793.4 L2127 792.9 L2128 793.5 L2129 792.9 L2130 792.8 L2131 792.9 L2132 794.2 L2133 793.1 L2134 794.2 L2135 793.9 L2136 793 L2137 793.6 L2138 792.5 L2139 794.4 L2140 793.8 L2141 792.7 L2142 793.6 L2143 793.5 L2144 793.9 L2145 793.1 L2146 794.4 L2147 793.8 L2148 792.7 L2149 794.2 L2150 794.4 L2151 793.2 L2152 794.1 L2153 794.4 L2154 794.4 L2155 792.8 L2156 794.4 L2157 793.2 L2158 794.3 L2159 794.1 L2160 793.7 L2161 794.5 L2162 794.4 L2163 794.8 L2164 794.7 L2165 793.9 L2166 794.3 L2167 794.2 L2168 793.6 L2169 793.8 L2170 793.9 L2171 793.3 L2172 793.4 L2173 794.6 L2174 794.6 L2175 794.3 L2176 794.3 L2177 793.9 L2178 794.1 L2179 794.3 L2180 793 L2181 793.8 L2182 794.9 L2183 793.4 L2184 793.9 L2185 793.2 L2186 793.5 L2187 794.7 L2188 793.1 L2189 794.6 L2190 794.7 L2191 794.8 L2192 793.6 L2193 795 L2194 793.8 L2195 794 L2196 795 L2197 794.2 L2198 794.5 L2199 793.4 L2200 793.2 L2201 793.7 L2202 793.4 L2203 794.8 L2204 793.7 L2205 795.1 L2206 794.6 L2207 793.6 L2208 794.7 L2209 793.9 L2210 794.3 L2211 793.4 L2212 794.9 L2213 794.9 L2214 794.5 L2215 794.7 L2216 794 L2217 793.6 L2218 794 L2219 794.8 L2220 794.5 L2221 793.6 L2222 793.9 L2223 794.3 L2224 793.4 L2225 793.5 L2226 794.3 L2227 793.7 L2228 795.2 L2229 793.7 L2230 795 L2231 795.1 L2232 794.1 L2233 794.6 L2234 795.5 L2235 794.7 L2236 794.3 L2237 795.5 L2238 794.1 L2239 795.5 L2240 794.2 L2241 794.4 L2242 794.2 L2243 794.9 L2244 795.4 L2245 795 L2246 794 L2247 795.6 L2248 795.1 L2249 794.7 L2250 795.4 L2251 793.9 L2252 794.9 L2253 795.3 L2254 795.2 L2255 795.1 L2256 793.8 L2257 794.7 L2258 794.3 L2259 795 L2260 794.5 L2261 794.7 L2262 794.8 L2263 795 L2264 795.6 L2265 794.4 L2266 794.4 L2267 794.2 L2268 794.1 L2269 795.5 L2270 795.7 L2271 794.1 L2272 794.6 L2273 795.7 L2274 795.6 L2275 795.9 L2276 795.9 L2277 794.5 L2278 794.1 L2279 794.4 L2280 795 L2281 794 L2282 794.5 L2283 794.9 L2284 795.4 L2285 794.3 L2286 794.3 L2287 794.7 L2288 794.2 L2289 794.3 L2290 794.3 L2291 795.7 L2292 795.8 L2293 794.2 L2294 795.7 L2295 795.8 L2296 795.4 L2297 794.7 L2298 795.8 L2299 794.3 L2300 794.2 L2301 796.1 L2302 794.6 L2303 796 L2304 795.7 L2305 794.3 L2306 794.4 L2307 795.5 L2308 794.5 L2309 795.6 L2310 795.6 L2311 794.7 L2312 795.2 L2313 794.7 L2314 796 L2315 795.6 L2316 795.7 L2317 795.6 L2318 794.5 L2319 796.1 L2320 795.9 L2321 795.4 L2322 795.6 L2323 795.4 L2324 795.9 L2325 795.5 L2326 795 L2327 795.5 L2328 794.9 L2329 794.5 L2330 795.5 L2331 796.2 L2332 795.9 L2333 794.9" fill="none" stroke="#333333" stroke-width="3.8" stroke-linejoin="round" stroke-linecap="round"/>
<line x1="1413.5" y1="67.5" x2="1413.5" y2="752" stroke="#ec9030" stroke-width="3.2" stroke-dasharray="21 7 5 7"/>
<line x1="1499.4" y1="67.5" x2="1499.4" y2="752" stroke="#ec9030" stroke-width="3.2" stroke-dasharray="21 7 5 7"/>
<rect x="1346" y="38" width="988" height="796" fill="none" stroke="#333333" stroke-width="4.0"/>
<line x1="1380.7" y1="834" x2="1380.7" y2="842.5" stroke="#333333" stroke-width="3.0"/>
<line x1="1467.3" y1="834" x2="1467.3" y2="849" stroke="#333333" stroke-width="3.0"/>
<line x1="1554" y1="834" x2="1554" y2="842.5" stroke="#333333" stroke-width="3.0"/>
<line x1="1640.7" y1="834" x2="1640.7" y2="849" stroke="#333333" stroke-width="3.0"/>
<line x1="1727.3" y1="834" x2="1727.3" y2="842.5" stroke="#333333" stroke-width="3.0"/>
<line x1="1814" y1="834" x2="1814" y2="849" stroke="#333333" stroke-width="3.0"/>
<line x1="1900.7" y1="834" x2="1900.7" y2="842.5" stroke="#333333" stroke-width="3.0"/>
<line x1="1987.3" y1="834" x2="1987.3" y2="849" stroke="#333333" stroke-width="3.0"/>
<line x1="2074" y1="834" x2="2074" y2="842.5" stroke="#333333" stroke-width="3.0"/>
<line x1="2160.7" y1="834" x2="2160.7" y2="849" stroke="#333333" stroke-width="3.0"/>
<line x1="2247.3" y1="834" x2="2247.3" y2="842.5" stroke="#333333" stroke-width="3.0"/>
<line x1="2334" y1="834" x2="2334" y2="849" stroke="#333333" stroke-width="3.0"/>
<text x="1468.3" y="894" font-size="42" fill="#262626" text-anchor="middle">10</text>
<text x="1641.7" y="894" font-size="42" fill="#262626" text-anchor="middle">20</text>
<text x="1815" y="894" font-size="42" fill="#262626" text-anchor="middle">30</text>
<text x="1988.3" y="894" font-size="42" fill="#262626" text-anchor="middle">40</text>
<text x="2161.7" y="894" font-size="42" fill="#262626" text-anchor="middle">50</text>
<text x="2335" y="894" font-size="42" fill="#262626" text-anchor="middle">60</text>
<text x="1686.5" y="949.8" font-size="52.9" fill="#222" textLength="348.4" lengthAdjust="spacingAndGlyphs">2-Theta (degree)</text>
<text x="1309.5" y="417.2" font-size="51.7" fill="#222" text-anchor="middle" transform="rotate(-90 1309.5 417.2)" textLength="303" lengthAdjust="spacingAndGlyphs">Intensity (a.u.)</text>
<text x="1246.3" y="99.3" font-size="79.5" fill="#111">(b)</text>
<text x="2297" y="238" font-size="45" fill="#262626" text-anchor="end">20 %</text>
<text x="2297" y="429.5" font-size="45" fill="#262626" text-anchor="end">15 %</text>
<text x="2297" y="586" font-size="45" fill="#262626" text-anchor="end">10 %</text>
<text x="2297" y="757.5" font-size="45" fill="#262626" text-anchor="end">5 %</text>
<path d="M204.7 1187.7 L205.7 1187.7 L206.7 1187.7 L207.7 1187.7 L208.7 1187.6 L209.7 1187.6 L210.7 1187.6 L211.7 1187.6 L212.7 1187.6 L213.7 1187.6 L214.7 1187.6 L215.7 1187.6 L216.7 1187.5 L217.6 1187.5 L218.6 1187.5 L219.6 1187.5 L220.6 1187.5 L221.6 1187.5 L222.6 1187.4 L223.6 1187.4 L224.6 1187.4 L225.6 1187.4 L226.6 1187.4 L227.6 1187.4 L228.6 1187.4 L229.6 1187.3 L230.6 1187.3 L231.6 1187.3 L232.6 1187.3 L233.6 1187.3 L234.6 1187.3 L235.6 1187.2 L236.6 1187.2 L237.6 1187.2 L238.6 1187.2 L239.6 1187.2 L240.6 1187.2 L241.5 1187.1 L242.5 1187.1 L243.5 1187.1 L244.5 1187.1 L245.5 1187.1 L246.5 1187.1 L247.5 1187 L248.5 1187 L249.5 1187 L250.5 1187 L251.5 1187 L252.5 1187 L253.5 1187 L254.5 1186.9 L255.5 1186.9 L256.5 1186.9 L257.5 1186.9 L258.5 1186.9 L259.5 1186.9 L260.5 1186.8 L261.5 1186.8 L262.5 1186.8 L263.5 1186.8 L264.5 1186.8 L265.5 1186.8 L266.4 1186.8 L267.4 1186.8 L268.4 1186.7 L269.4 1186.7 L270.4 1186.7 L271.4 1186.7 L272.4 1186.7 L273.4 1186.7 L274.4 1186.7 L275.4 1186.7 L276.4 1186.6 L277.4 1186.6 L278.4 1186.6 L279.4 1186.6 L280.4 1186.6 L281.4 1186.6 L282.4 1186.6 L283.4 1186.6 L284.4 1186.6 L285.4 1186.6 L286.4 1186.6 L287.4 1186.6 L288.4 1186.5 L289.4 1186.5 L290.3 1186.5 L291.3 1186.5 L292.3 1186.5 L293.3 1186.5 L294.3 1186.5 L295.3 1186.5 L296.3 1186.5 L297.3 1186.5 L298.3 1186.5 L299.3 1186.5 L300.3 1186.5 L301.3 1186.5 L302.3 1186.5 L303.3 1186.5 L304.3 1186.6 L305.3 1186.6 L306.3 1186.7 L307.2 1186.8 L308.2 1186.9 L309.2 1187.1 L310.2 1187.3 L311.2 1187.4 L312.2 1187.6 L313.2 1187.8 L314.2 1188.1 L315.2 1188.3 L316.1 1188.5 L317.1 1188.8 L318.1 1189 L319.1 1189.3 L320.1 1189.6 L321.1 1189.8 L322.1 1190.1 L323.1 1190.3 L324.1 1190.6 L325.1 1190.8 L326 1191.1 L327 1191.3 L328 1191.6 L329 1191.8 L330 1192 L331 1192.2 L332 1192.4 L333 1192.6 L334 1192.8 L334.9 1193 L335.9 1193.1 L336.9 1193.3 L337.9 1193.5 L338.9 1193.6 L339.9 1193.8 L340.9 1194 L341.9 1194.1 L342.9 1194.3 L343.9 1194.4 L344.8 1194.6 L345.8 1194.7 L346.8 1194.9 L347.8 1195 L348.8 1195.2 L349.8 1195.3 L350.8 1195.5 L351.8 1195.6 L352.8 1195.8 L353.7 1195.9 L354.7 1196.1 L355.7 1196.2 L356.7 1196.4 L357.7 1196.5 L358.7 1196.7 L359.7 1196.8 L360.7 1197 L361.7 1197.1 L362.6 1197.3 L363.6 1197.5 L364.6 1197.7 L365.6 1197.8 L366.6 1198 L367.6 1198.2 L368.6 1198.4 L369.6 1198.6 L370.6 1198.8 L371.6 1199 L372.5 1199.2 L373.5 1199.4 L374.5 1199.6 L375.5 1199.9 L376.5 1200.1 L377.5 1200.3 L378.5 1200.6 L379.5 1200.9 L380.5 1201.1 L381.4 1201.4 L382.4 1201.7 L383.4 1202 L384.4 1202.3 L385.4 1202.6 L386.4 1202.9 L387.4 1203.3 L388.4 1203.6 L389.4 1203.9 L390.4 1204.3 L391.3 1204.7 L392.3 1205.1 L393.3 1205.5 L394.3 1205.9 L395.3 1206.3 L396.3 1206.8 L397.2 1207.5 L398.2 1208.3 L399.1 1209.3 L400.1 1210.4 L401.1 1211.5 L402 1212.7 L403 1214 L403.9 1215.5 L404.8 1217.6 L405.7 1219.9 L406.6 1222.2 L407.5 1224.1 L408.4 1225.5 L409.3 1226 L410.2 1225.4 L411.2 1224 L412.1 1221.9 L413.1 1219.7 L414.1 1217.6 L415 1216 L416 1214.7 L417 1213.4 L418 1212.2 L419 1211.2 L420 1210.3 L421 1209.8 L422 1209.4 L423 1209.1 L424 1208.8 L425 1208.5 L426 1208.2 L427 1208 L428 1207.7 L429 1207.5 L430 1207.3 L431 1207.2 L432 1207 L433 1206.8 L434 1206.7 L435 1206.6 L436 1206.4 L437 1206.3 L438 1206.2 L439 1206.1 L440 1206 L441 1205.9 L442 1205.8 L443 1205.7 L444 1205.6 L445 1205.5 L446 1205.5 L447 1205.4 L448 1205.3 L449 1205.2 L450 1205.2 L451 1205.1 L452 1205 L453 1205 L454 1204.9 L455 1204.8 L456 1204.8 L457 1204.7 L458 1204.7 L459 1204.6 L460 1204.6 L461 1204.5 L462 1204.5 L463 1204.4 L464 1204.3 L465 1204.3 L466 1204.2 L467 1204.2 L468 1204.1 L469 1204.1 L470 1204 L471 1203.9 L472 1203.9 L473 1203.8 L474 1203.7 L475 1203.7 L476 1203.6 L477 1203.5 L478 1203.4 L479 1203.4 L480 1203.3 L481 1203.2 L482 1203.1 L483 1203.1 L484 1203 L485 1202.9 L486 1202.9 L487 1202.8 L488 1202.7 L489 1202.7 L490 1202.6 L491 1202.6 L492 1202.5 L493 1202.5 L494 1202.4 L495 1202.4 L496 1202.4 L497 1202.3 L498 1202.3 L499 1202.3 L500 1202.3 L501 1202.4 L502 1202.7 L503 1203.2 L504 1203.7 L505 1204.4 L506 1205.2 L507 1206 L508 1207.3 L509 1209.3 L510 1211.8 L511 1214.3 L512 1216.5 L513 1218.2 L514 1219 L515 1219.2 L515.9 1219.3 L516.9 1219.4 L517.9 1219.5 L518.8 1219.6 L519.8 1219.7 L520.8 1219.7 L521.7 1219.8 L522.7 1219.9 L523.7 1219.9 L524.6 1220.1 L525.6 1220.2 L526.5 1220.4 L527.4 1220.6 L528.3 1220.9 L529.2 1221.2 L530.1 1221.6 L531 1222 L531.9 1222.6 L532.8 1223.5 L533.7 1224.5 L534.5 1225.5 L535.4 1226.3 L536.3 1227 L537.2 1227.2 L538.2 1226.9 L539.2 1226.1 L540.1 1224.9 L541.1 1223.5 L542.1 1221.9 L543 1220.4 L544 1219.1 L545 1218 L545.9 1217.1 L546.9 1216.3 L547.8 1215.4 L548.8 1214.6 L549.7 1213.9 L550.7 1213.2 L551.6 1212.6 L552.6 1212.2 L553.5 1212 L554.5 1211.9 L555.5 1211.7 L556.4 1211.6 L557.4 1211.5 L558.4 1211.4 L559.4 1211.3 L560.4 1211.2 L561.4 1211.1 L562.3 1211 L563.3 1210.9 L564.3 1210.9 L565.3 1210.8 L566.3 1210.8 L567.2 1210.7 L568.2 1210.6 L569.2 1210.6 L570.2 1210.5 L571.2 1210.5 L572.1 1210.5 L573.1 1210.4 L574.1 1210.4 L575.1 1210.3 L576.1 1210.3 L577.1 1210.2 L578 1210.1 L579 1210.1 L580 1210 L581 1209.9 L582 1209.8 L583 1209.8 L583.9 1209.7 L584.9 1209.6 L585.9 1209.5 L586.9 1209.4 L587.9 1209.3 L588.9 1209.2 L589.8 1209.2 L590.8 1209.1 L591.8 1209 L592.8 1208.9 L593.8 1208.8 L594.8 1208.7 L595.7 1208.6 L596.7 1208.5 L597.7 1208.4 L598.7 1208.3 L599.7 1208.2 L600.7 1208.1 L601.7 1208 L602.6 1207.9 L603.6 1207.8 L604.6 1207.7 L605.6 1207.6 L606.6 1207.5 L607.6 1207.5 L608.5 1207.4 L609.5 1207.3 L610.5 1207.2 L611.5 1207.1 L612.5 1207.1 L613.5 1207 L614.5 1206.9 L615.4 1206.8 L616.4 1206.8 L617.4 1206.7 L618.4 1206.7 L619.4 1206.6 L620.4 1206.6 L621.3 1206.5 L622.3 1206.5 L623.3 1206.4 L624.3 1206.4 L625.3 1206.4 L626.3 1206.3 L627.2 1206.3 L628.2 1206.3 L629.2 1206.3 L630.2 1206.3 L631.2 1206.3 L632.2 1206.3 L633.2 1206.3 L634.2 1206.3 L635.2 1206.4 L636.2 1206.4 L637.2 1206.4 L638.2 1206.4 L639.2 1206.5 L640.2 1206.5 L641.2 1206.5 L642.2 1206.6 L643.1 1206.6 L644.1 1206.7 L645.1 1206.7 L646.1 1206.8 L647.1 1206.8 L648.1 1206.9 L649.1 1207 L650.1 1207 L651.1 1207.1 L652.1 1207.2 L653.1 1207.2 L654.1 1207.3 L655.1 1207.4 L656.1 1207.5 L657.1 1207.6 L658.1 1207.6 L659.1 1207.7 L660.1 1207.8 L661.1 1207.9 L662.1 1208 L663.1 1208.1 L664.1 1208.2 L665.1 1208.3 L666.1 1208.4 L667.1 1208.5 L668 1208.6 L669 1208.7 L670 1208.8 L671 1208.9 L672 1209 L673 1209.1 L674 1209.2 L675 1209.3 L676 1209.4 L677 1209.5 L678 1209.6 L679 1209.7 L680 1209.8 L681 1209.9 L682 1210.1 L683 1210.3 L684 1210.4 L685 1210.7 L686 1210.9 L687 1211.1 L688 1211.3 L689 1211.5 L690 1211.6 L691 1211.8 L692 1211.9 L693 1212 L694 1212 L695 1212 L696 1211.9 L697 1211.8 L698 1211.6 L699 1211.3 L700 1211.1 L701 1210.8 L702 1210.4 L703 1210 L704 1209.6 L705 1209.2 L706 1208.8 L707 1208.3 L708 1207.8 L709 1207.3 L710 1206.8 L711 1206.3 L712 1205.8 L713 1205.3 L714 1204.8 L715 1204.3 L716 1203.8 L717 1203.3 L718 1202.8 L719 1202.4 L720 1202 L721 1201.6 L722 1201.2 L723 1200.9 L724 1200.5 L725 1200.2 L726 1199.9 L727 1199.5 L728 1199.2 L729 1198.8 L730 1198.5 L731 1198.1 L732 1197.7 L733 1197.3 L734 1196.8 L735 1196.4 L736 1195.8 L737 1195.3 L738 1194.7 L739 1193.8 L740 1192.6 L741 1191.3 L742 1190.1 L743 1189.2 L744 1188.8 L745 1189.5 L746 1191.1 L747 1193.5 L748 1196 L749 1198.3 L750 1200 L751 1201.2 L751.9 1202.5 L752.9 1203.7 L753.8 1204.7 L754.8 1205.5 L755.7 1206.1 L756.7 1206.3 L757.7 1206.3 L758.6 1206.2 L759.6 1206.2 L760.5 1206.1 L761.5 1206 L762.4 1205.8 L763.4 1205.6 L764.3 1205.5 L765.2 1205.3 L766.2 1205 L767.1 1204.8 L768.1 1204.5 L769 1204.3 L770 1204 L770.9 1203.6 L771.9 1202.9 L772.8 1201.9 L773.8 1200.8 L774.7 1199.6 L775.7 1198.3 L776.6 1197.1 L777.6 1195.8 L778.5 1194.7 L779.5 1193.7 L780.4 1193 L781.4 1192.5 L782.3 1192.3 L783.3 1192.5 L784.2 1192.9 L785.2 1193.5 L786.1 1194.2 L787.1 1194.8 L788.1 1195.4 L789 1195.8 L790 1196 L791 1195.8 L791.9 1195.4 L792.9 1194.8 L793.8 1194 L794.8 1193.2 L795.7 1192.4 L796.7 1191.8 L797.6 1191.4 L798.6 1191.2 L799.6 1191.4 L800.6 1191.9 L801.6 1192.8 L802.6 1193.9 L803.6 1195.2 L804.6 1196.6 L805.6 1198.1 L806.6 1199.6 L807.6 1201.1 L808.6 1202.6 L809.6 1203.8 L810.6 1204.9 L811.6 1205.8 L812.6 1206.3 L813.6 1206.6 L814.5 1207 L815.5 1207.2 L816.5 1207.5 L817.4 1207.7 L818.4 1208 L819.4 1208.2 L820.3 1208.4 L821.3 1208.6 L822.3 1208.7 L823.2 1208.9 L824.2 1209.1 L825.2 1209.2 L826.1 1209.4 L827.1 1209.5 L828.1 1209.7 L829 1209.8 L830 1210 L831 1210.2 L832 1210.3 L832.9 1210.5 L833.9 1210.6 L834.9 1210.7 L835.9 1210.8 L836.9 1210.9 L837.9 1211 L838.8 1211.1 L839.8 1211.2 L840.8 1211.3 L841.8 1211.4 L842.8 1211.5 L843.7 1211.6 L844.7 1211.6 L845.7 1211.7 L846.7 1211.8 L847.7 1211.9 L848.6 1212 L849.6 1212.2 L850.6 1212.3 L851.6 1212.4 L852.6 1212.5 L853.5 1212.7 L854.5 1212.9 L855.5 1213 L856.5 1213.2 L857.5 1213.4 L858.5 1213.6 L859.4 1213.9 L860.4 1214.1 L861.4 1214.4 L862.3 1214.9 L863.2 1215.7 L864.1 1216.9 L865 1218.1 L865.9 1219.4 L866.8 1220.6 L867.7 1221.7 L868.6 1222.3 L869.5 1222.6 L870.4 1222.4 L871.4 1221.8 L872.3 1221 L873.2 1220.1 L874.1 1219.2 L875.1 1218.5 L876 1218 L876.9 1217.7 L877.8 1217.4 L878.7 1217.2 L879.6 1217 L880.5 1216.8 L881.4 1216.7 L882.3 1216.7 L883.3 1217.1 L884.2 1218 L885.2 1219.5 L886.1 1221.4 L887.1 1223.5 L888 1225.7 L889 1228 L889.5 1229.4 L890 1231.3 L890.6 1233.5 L891.1 1235.9 L891.6 1238.5 L892.1 1241.3 L892.7 1244.1 L893.2 1246.9 L893.7 1249.7 L894.2 1252.3 L894.8 1254.7 L895.3 1256.8 L895.8 1258.5 L896.4 1259.8 L896.9 1260.7 L897.4 1261 L897.9 1260.4 L898.4 1258.7 L898.9 1256.4 L899.5 1253.7 L900 1251 L900.5 1248.7 L901 1247 L902 1244.6 L903 1242.3 L904 1240.1 L905 1238.2 L906 1236.6 L907 1235.3 L908 1234.5 L909 1234.2 L910 1234.4 L911 1235 L912 1236 L913 1237.1 L914 1238.5 L915 1240 L915.4 1240.8 L915.8 1242 L916.2 1243.4 L916.6 1245.2 L917.1 1247.2 L917.5 1249.4 L917.9 1251.8 L918.3 1254.4 L918.7 1257.1 L919.1 1259.9 L919.5 1262.7 L919.9 1265.5 L920.4 1268.4 L920.8 1271.2 L921.2 1273.9 L921.6 1276.5 L922 1279 L922.4 1281.3 L922.8 1283.4 L923.2 1285.3 L923.7 1286.9 L924.1 1288.2 L924.5 1289.2 L924.9 1289.8 L925.3 1290 L926 1289.7 L926.7 1288.7 L927.4 1287.2 L928.1 1285.3 L928.8 1283 L929.5 1280.4 L930.2 1277.6 L930.9 1274.7 L931.6 1271.8 L932.3 1268.9 L933 1266.2 L933.7 1263.8 L934.4 1261.6 L935.1 1259.9 L935.8 1258.6 L936.8 1257.2 L937.7 1255.9 L938.7 1254.6 L939.7 1253.4 L940.6 1252.3 L941.6 1251.3 L942.6 1250.3 L943.5 1249.5 L944.5 1248.9 L945.5 1248.4 L946.4 1248.1 L947.4 1248 L948.1 1248.7 L948.7 1250.4 L949.4 1252.8 L950 1255.5 L950.7 1258.2 L951.3 1260.5 L952 1262 L953 1263.3 L954 1264.3 L955 1265 L956 1265.7 L957 1266.5 L958 1267.5 L959 1269 L959.4 1269.9 L959.7 1271.4 L960.1 1273.4 L960.5 1275.7 L960.8 1278.4 L961.2 1281.2 L961.6 1284.2 L962 1287.2 L962.3 1290.2 L962.7 1293 L963.1 1295.6 L963.4 1298 L963.8 1300 L964.2 1301.5 L964.5 1302.5 L964.9 1302.8 L965.4 1302.4 L966 1301.3 L966.5 1299.5 L967.1 1297.3 L967.6 1294.7 L968.1 1291.7 L968.7 1288.7 L969.2 1285.5 L969.8 1282.5 L970.3 1279.5 L970.8 1276.9 L971.4 1274.7 L971.9 1272.9 L972.5 1271.8 L973 1271.4 L974 1271.4 L975 1271.5 L976 1271.6 L977 1271.7 L978 1271.7 L979 1271.8 L980 1271.9 L981 1272 L982 1272 L983 1271.8 L984 1271.1 L985 1270.1 L986 1268.8 L987 1267.4 L988 1265.9 L989 1264.4 L990 1263 L991 1261.7 L992 1260.7 L993 1260 L994 1259.8 L995 1259.8 L996 1259.9 L997 1260.1 L998 1260.3 L999 1260.5 L1000 1260.8 L1001 1261.2 L1002 1261.6 L1003 1262.1 L1004 1262.6 L1005 1263.1 L1006 1263.7 L1007 1264.3 L1008 1265 L1009 1266.3 L1010 1268.6 L1011 1271.4 L1011.9 1274.3 L1012.9 1276.9 L1013.9 1278.8 L1014.9 1279.5 L1015.9 1278.9 L1016.9 1277.2 L1017.9 1275 L1018.9 1272.5 L1019.9 1270.3 L1020.9 1268.6 L1021.9 1268 L1022.3 1268.5 L1022.8 1269.8 L1023.2 1271.8 L1023.7 1274.3 L1024.1 1277.2 L1024.6 1280.3 L1025 1283.5 L1025.5 1286.6 L1025.9 1289.5 L1026.4 1292 L1026.8 1294 L1027.3 1295.3 L1027.7 1295.8 L1028.6 1295.2 L1029.5 1293.5 L1030.4 1291 L1031.3 1288 L1032.2 1285 L1033.1 1282 L1034 1279.5 L1034.9 1277.8 L1035.8 1277.2 L1036.7 1277.5 L1037.6 1278.2 L1038.6 1279.4 L1039.5 1280.9 L1040.4 1282.6 L1041.3 1284.5 L1042.2 1286.4 L1043.2 1288.4 L1044.1 1290.3 L1045 1292 L1046 1293.9 L1047 1296 L1047.9 1298.4 L1048.9 1300.8 L1049.9 1303.3 L1050.8 1305.7 L1051.8 1308 L1052.8 1310.1 L1053.8 1311.9 L1054.8 1313.2 L1055.7 1314.1 L1056.7 1314.4 L1057.7 1314.2 L1058.7 1313.6 L1059.7 1312.8 L1060.7 1311.7 L1061.7 1310.3 L1062.7 1308.9 L1063.7 1307.3 L1064.7 1305.7 L1065.7 1304.1 L1066.7 1302.5 L1067.7 1301.1 L1068.7 1299.8 L1069.7 1298.8 L1070.7 1298 L1071.7 1297.4 L1072.6 1296.8 L1073.6 1296.2 L1074.6 1295.7 L1075.6 1295.1 L1076.5 1294.5 L1077.5 1294 L1078.5 1293.5 L1079.4 1293 L1080.4 1292.5 L1081.4 1292 L1082.3 1291.6 L1083.3 1291.2 L1084.3 1290.8 L1085.3 1290.4 L1086.2 1290.1 L1087.2 1289.8 L1088.2 1289.6 L1089.1 1289.3 L1090.1 1289.1 L1091.1 1289 L1092.1 1288.9 L1093 1288.8 L1094 1288.8 L1095 1289 L1096 1289.5 L1097 1290.1 L1098 1291 L1099 1291.8 L1100 1292.7 L1101 1293.3 L1102 1293.8 L1103 1294 L1104 1294 L1105 1293.9 L1106 1293.7 L1107 1293.6 L1108 1293.4 L1109 1293.2 L1109.9 1292.9 L1110.9 1292.7 L1111.9 1292.6 L1112.9 1292.4 L1113.9 1292.3 L1114.9 1292.3 L1115.6 1293.1 L1116.2 1295.1 L1116.9 1297.8 L1117.5 1300.8 L1118.2 1303.5 L1118.8 1305.5 L1119.5 1306.3 L1120.4 1305.6 L1121.4 1303.7 L1122.3 1301.1 L1123.2 1298.2 L1124.1 1295.6 L1125.1 1293.7 L1126 1293 L1126.9 1293 L1127.9 1293.1 L1128.8 1293.2 L1129.8 1293.4 L1130.7 1293.7 L1131.6 1294 L1132.6 1294.3 L1133.5 1294.7 L1134 1295.4 L1134.5 1296.8 L1135 1298.9 L1135.4 1301.4 L1135.9 1304.2 L1136.4 1307.2 L1136.9 1310.1 L1137.4 1312.9 L1137.8 1315.3 L1138.3 1317.3 L1138.8 1318.5 L1139.3 1319 L1140.3 1318.6 L1141.2 1317.4 L1142.2 1315.8 L1143.1 1314 L1144.1 1312.3 L1145 1310.9 L1146 1310 L1146.9 1309.5 L1147.9 1309.1 L1148.8 1308.7 L1149.7 1308.3 L1150.7 1308 L1151.6 1307.8 L1152.5 1307.6 L1153.5 1307.4 L1154.4 1307.4 L1155.4 1307.4 L1156.3 1307.6 L1157.3 1307.8 L1158.3 1308.1 L1159.2 1308.4 L1160.2 1308.8 L1161.1 1309.2 L1162.1 1309.7 L1163.1 1310.1 L1164 1310.6 L1165 1311 L1166 1311.5 L1167 1312 L1168 1312.6 L1169 1313.2 L1170 1313.8 L1171 1314.4 L1172 1315 L1173 1315.6" fill="none" stroke="#9a66c4" stroke-width="3.2" stroke-linejoin="round" stroke-linecap="round"/>
<path d="M204.7 1376 L205.7 1376 L206.7 1375.9 L207.7 1375.9 L208.7 1375.9 L209.7 1375.8 L210.7 1375.8 L211.6 1375.7 L212.6 1375.7 L213.6 1375.7 L214.6 1375.6 L215.6 1375.6 L216.6 1375.5 L217.6 1375.5 L218.6 1375.4 L219.6 1375.4 L220.6 1375.4 L221.6 1375.3 L222.6 1375.3 L223.6 1375.2 L224.6 1375.2 L225.5 1375.1 L226.5 1375.1 L227.5 1375 L228.5 1375 L229.5 1374.9 L230.5 1374.9 L231.5 1374.9 L232.5 1374.8 L233.5 1374.8 L234.5 1374.7 L235.5 1374.7 L236.5 1374.6 L237.5 1374.6 L238.5 1374.5 L239.4 1374.5 L240.4 1374.4 L241.4 1374.4 L242.4 1374.3 L243.4 1374.3 L244.4 1374.2 L245.4 1374.2 L246.4 1374.1 L247.4 1374.1 L248.4 1374.1 L249.4 1374 L250.4 1374 L251.4 1373.9 L252.3 1373.9 L253.3 1373.8 L254.3 1373.8 L255.3 1373.7 L256.3 1373.7 L257.3 1373.7 L258.3 1373.6 L259.3 1373.6 L260.3 1373.5 L261.3 1373.5 L262.3 1373.5 L263.3 1373.4 L264.3 1373.4 L265.3 1373.3 L266.2 1373.3 L267.2 1373.3 L268.2 1373.2 L269.2 1373.2 L270.2 1373.2 L271.2 1373.1 L272.2 1373.1 L273.2 1373.1 L274.2 1373 L275.2 1373 L276.2 1373 L277.2 1372.9 L278.2 1372.9 L279.2 1372.9 L280.1 1372.9 L281.1 1372.8 L282.1 1372.8 L283.1 1372.8 L284.1 1372.8 L285.1 1372.8 L286.1 1372.7 L287.1 1372.7 L288.1 1372.7 L289.1 1372.7 L290.1 1372.7 L291.1 1372.7 L292.1 1372.6 L293.1 1372.6 L294 1372.6 L295 1372.6 L296 1372.6 L297 1372.6 L298 1372.6 L299 1372.6 L300 1372.6 L301 1372.6 L302 1372.7 L303 1372.8 L304 1373 L305 1373.2 L306 1373.4 L307 1373.7 L308 1374 L309 1374.4 L310 1374.7 L311 1375.1 L312 1375.5 L313 1376 L314 1376.4 L315 1376.9 L316 1377.4 L317 1377.9 L318 1378.4 L319 1378.9 L320 1379.4 L321 1379.9 L322 1380.4 L323 1380.9 L324 1381.4 L325 1381.9 L326 1382.3 L327 1382.8 L328 1383.2 L329 1383.6 L330 1384 L331 1384.4 L332 1384.7 L333 1385 L334 1385.4 L334.9 1385.7 L335.9 1386 L336.9 1386.3 L337.9 1386.6 L338.9 1386.9 L339.9 1387.1 L340.9 1387.4 L341.9 1387.7 L342.9 1387.9 L343.9 1388.2 L344.8 1388.4 L345.8 1388.7 L346.8 1388.9 L347.8 1389.1 L348.8 1389.4 L349.8 1389.6 L350.8 1389.8 L351.8 1390.1 L352.8 1390.3 L353.7 1390.5 L354.7 1390.7 L355.7 1391 L356.7 1391.2 L357.7 1391.4 L358.7 1391.7 L359.7 1391.9 L360.7 1392.2 L361.7 1392.4 L362.6 1392.7 L363.6 1392.9 L364.6 1393.2 L365.6 1393.5 L366.6 1393.7 L367.6 1394 L368.6 1394.3 L369.6 1394.6 L370.6 1394.9 L371.6 1395.3 L372.5 1395.6 L373.5 1396 L374.5 1396.3 L375.5 1396.7 L376.5 1397.1 L377.5 1397.5 L378.5 1397.9 L379.5 1398.3 L380.5 1398.7 L381.4 1399.2 L382.4 1399.6 L383.4 1400.1 L384.4 1400.6 L385.4 1401.1 L386.4 1401.7 L387.4 1402.2 L388.4 1402.8 L389.4 1403.4 L390.4 1404 L391.3 1404.6 L392.3 1405.3 L393.3 1406 L394.3 1406.7 L395.3 1407.4 L396.2 1408.4 L397.2 1409.8 L398.1 1411.6 L399.1 1413.7 L400.1 1415.8 L401 1418 L401.8 1420 L402.5 1422.5 L403.2 1425.3 L404 1428.1 L404.8 1430.7 L405.5 1432.9 L406.2 1434.4 L407 1434.9 L408 1434.3 L409 1432.7 L410 1430.5 L411 1428 L412 1425.7 L413 1424 L414 1422.7 L415 1421.4 L416 1420.2 L417 1419 L418 1418 L419 1417 L420 1416.2 L421 1415.6 L422 1415 L423 1414.5 L424 1414 L425 1413.5 L426 1413 L427 1412.6 L428 1412.1 L429 1411.7 L430 1411.3 L431 1410.9 L432 1410.5 L433 1410.1 L434 1409.7 L435 1409.4 L436 1409.1 L437 1408.7 L438 1408.4 L439 1408.1 L440 1407.8 L441 1407.5 L442 1407.2 L443 1407 L444 1406.7 L445 1406.4 L446 1406.2 L447 1405.9 L448 1405.7 L449 1405.4 L450 1405.2 L451 1404.9 L452 1404.7 L453 1404.5 L454 1404.2 L455 1404 L456 1403.7 L457 1403.5 L458 1403.3 L459 1403 L460 1402.8 L461 1402.5 L462 1402.3 L463 1402 L464 1401.7 L465 1401.5 L466 1401.2 L467 1400.9 L468 1400.6 L469 1400.3 L470 1400 L471 1399.6 L472 1399.3 L473 1398.9 L474 1398.6 L475 1398.2 L476 1397.7 L476.9 1397.3 L477.9 1396.8 L478.9 1396.4 L479.9 1395.9 L480.9 1395.4 L481.9 1395 L482.9 1394.5 L483.9 1394 L484.9 1393.6 L485.8 1393.1 L486.8 1392.7 L487.8 1392.3 L488.8 1391.9 L489.8 1391.5 L490.8 1391.2 L491.8 1390.9 L492.8 1390.6 L493.7 1390.4 L494.7 1390.2 L495.7 1390.1 L496.7 1390 L497.7 1390 L498.6 1390.1 L499.5 1390.3 L500.4 1390.7 L501.4 1391.2 L502.3 1391.8 L503.2 1392.5 L504.1 1393.2 L505 1394 L506 1395.2 L507 1397.1 L508 1399.4 L509 1402 L510 1404.7 L511 1407.3 L512 1409.7 L513 1411.6 L514 1412.8 L515 1413.3 L516 1413.2 L516.9 1412.8 L517.9 1412.2 L518.9 1411.5 L519.8 1410.8 L520.8 1409.9 L521.7 1409.2 L522.7 1408.5 L523.7 1407.9 L524.6 1407.5 L525.6 1407.4 L526.6 1407.6 L527.5 1408 L528.5 1408.7 L529.5 1409.5 L530.4 1410.5 L531.4 1411.5 L532.4 1412.5 L533.3 1413.5 L534.3 1414.3 L535.3 1415 L536.2 1415.4 L537.2 1415.6 L538.2 1415 L539.2 1413.4 L540.1 1411 L541.1 1408.2 L542.1 1405.2 L543 1402.4 L544 1399.9 L545 1398 L545.9 1396.6 L546.9 1395.3 L547.8 1394 L548.8 1392.8 L549.7 1391.7 L550.7 1390.7 L551.6 1389.9 L552.6 1389.2 L553.5 1388.8 L554.5 1388.5 L555.5 1388.1 L556.5 1387.8 L557.4 1387.5 L558.4 1387.2 L559.4 1386.9 L560.4 1386.6 L561.4 1386.3 L562.4 1386.1 L563.4 1385.8 L564.4 1385.5 L565.3 1385.3 L566.3 1385 L567.3 1384.8 L568.3 1384.6 L569.3 1384.3 L570.3 1384.1 L571.3 1383.9 L572.2 1383.7 L573.2 1383.5 L574.2 1383.3 L575.2 1383.1 L576.2 1382.9 L577.2 1382.7 L578.2 1382.5 L579.1 1382.4 L580.1 1382.2 L581.1 1382 L582.1 1381.9 L583.1 1381.7 L584.1 1381.6 L585.1 1381.4 L586 1381.3 L587 1381.2 L588 1381 L589 1380.9 L590 1380.8 L591 1380.7 L592 1380.6 L593 1380.5 L593.9 1380.3 L594.9 1380.2 L595.9 1380.1 L596.9 1380 L597.9 1379.9 L598.9 1379.9 L599.9 1379.8 L600.8 1379.7 L601.8 1379.6 L602.8 1379.5 L603.8 1379.4 L604.8 1379.3 L605.8 1379.3 L606.8 1379.2 L607.8 1379.1 L608.7 1379.1 L609.7 1379 L610.7 1378.9 L611.7 1378.8 L612.7 1378.8 L613.7 1378.7 L614.7 1378.7 L615.6 1378.6 L616.6 1378.5 L617.6 1378.5 L618.6 1378.4 L619.6 1378.3 L620.6 1378.3 L621.6 1378.2 L622.6 1378.2 L623.6 1378.1 L624.5 1378.1 L625.5 1378 L626.5 1378 L627.5 1377.9 L628.5 1377.9 L629.5 1377.8 L630.5 1377.8 L631.5 1377.7 L632.5 1377.7 L633.5 1377.7 L634.4 1377.6 L635.4 1377.6 L636.4 1377.6 L637.4 1377.5 L638.4 1377.5 L639.4 1377.4 L640.4 1377.4 L641.4 1377.4 L642.4 1377.4 L643.4 1377.3 L644.3 1377.3 L645.3 1377.3 L646.3 1377.2 L647.3 1377.2 L648.3 1377.2 L649.3 1377.1 L650.3 1377.1 L651.3 1377.1 L652.3 1377.1 L653.3 1377 L654.3 1377 L655.2 1377 L656.2 1376.9 L657.2 1376.9 L658.2 1376.9 L659.2 1376.8 L660.2 1376.8 L661.2 1376.8 L662.2 1376.8 L663.2 1376.7 L664.2 1376.7 L665.1 1376.7 L666.1 1376.6 L667.1 1376.6 L668.1 1376.5 L669.1 1376.5 L670.1 1376.5 L671.1 1376.4 L672.1 1376.4 L673.1 1376.3 L674.1 1376.3 L675 1376.3 L676 1376.2 L677 1376.2 L678 1376.1 L679 1376.1 L680 1376 L681 1375.9 L682 1375.9 L683 1375.8 L684 1375.7 L685 1375.7 L686 1375.6 L687 1375.5 L688 1375.4 L689 1375.3 L690 1375.2 L691 1375.1 L692 1375 L693 1374.9 L694 1374.8 L695 1374.7 L696 1374.6 L697 1374.5 L698 1374.4 L699 1374.2 L700 1374.1 L701 1374 L702 1373.9 L703 1373.8 L704 1373.6 L705 1373.5 L706 1373.4 L707 1373.2 L708 1373.1 L709 1373 L710 1372.9 L711 1372.7 L712 1372.6 L713 1372.5 L714 1372.4 L715 1372.2 L716 1372.1 L717 1372 L718 1371.9 L719 1371.8 L720 1371.7 L721 1371.5 L722 1371.4 L723 1371.3 L724 1371.2 L725 1371.1 L726 1371 L727 1370.9 L728 1370.8 L729 1370.7 L730 1370.7 L731 1370.6 L732 1370.5 L733 1370.4 L734 1370.4 L735 1370.3 L736 1370.3 L737 1370.2 L738 1370.2 L739 1370.1 L740 1370.1 L741 1370.1 L742 1370 L743 1370 L744 1370 L745 1370 L746 1370.1 L747 1370.3 L748 1370.6 L749 1371 L750 1371.5 L751 1372 L752 1372.5 L753 1373 L754 1373.4 L755 1373.7 L756 1373.9 L757 1374 L758 1374 L758.9 1373.9 L759.9 1373.7 L760.9 1373.5 L761.9 1373.3 L762.8 1373 L763.8 1372.7 L764.8 1372.4 L765.8 1372 L766.7 1371.6 L767.7 1371.2 L768.7 1370.8 L769.6 1370.3 L770.6 1369.9 L771.6 1369.5 L772.6 1369.1 L773.5 1368.7 L774.5 1368.3 L775.5 1368 L776.5 1367.7 L777.4 1367.4 L778.4 1367.2 L779.4 1367 L780.4 1366.8 L781.3 1366.7 L782.3 1366.7 L783.3 1366.7 L784.3 1366.8 L785.2 1366.9 L786.2 1367 L787.2 1367.2 L788.2 1367.4 L789.2 1367.6 L790.1 1367.8 L791.1 1368 L792.1 1368.2 L793.1 1368.4 L794.1 1368.6 L795.1 1368.7 L796 1368.8 L797 1368.9 L798 1369 L799 1369 L800 1369.1 L801 1369.1 L802 1369.1 L803 1369.2 L804 1369.2 L805 1369.2 L806 1369.3 L807 1369.3 L808 1369.3 L809 1369.3 L810 1369.3 L811 1369.4 L812 1369.4 L813 1369.4 L814 1369.4 L815 1369.4 L816 1369.4 L817 1369.4 L818 1369.4 L819 1369.4 L820 1369.5 L821 1369.5 L822 1369.5 L823 1369.5 L824 1369.5 L825 1369.5 L826 1369.5 L827 1369.5 L828 1369.5 L829 1369.5 L830 1369.5 L831 1369.5 L832 1369.5 L833 1369.5 L834 1369.6 L835 1369.6 L836 1369.6 L837 1369.6 L838 1369.6 L839 1369.6 L840 1369.6 L841 1369.6 L842 1369.6 L843 1369.7 L844 1369.7 L845 1369.7 L846 1369.7 L847 1369.7 L848 1369.8 L849 1369.8 L850 1369.8 L851 1369.9 L852 1369.9 L853 1369.9 L854 1370 L855 1370 L856 1370.1 L857 1370.1 L858 1370.1 L859 1370.2 L860 1370.8 L861 1372.1 L862 1374.1 L863 1376.4 L864 1378.7 L865 1380.7 L866 1382.3 L866.9 1383.5 L867.9 1384.8 L868.8 1385.9 L869.8 1386.7 L870.7 1387 L871.6 1386.9 L872.6 1386.8 L873.5 1386.5 L874.4 1386.2 L875.4 1385.8 L876.3 1385.5 L877.2 1385.2 L878.1 1384.9 L879.1 1384.8 L880 1384.7 L880.5 1384.9 L880.9 1385.3 L881.4 1386.1 L881.9 1387.1 L882.3 1388.3 L882.8 1389.9 L883.3 1391.6 L883.7 1393.5 L884.2 1395.6 L884.6 1397.9 L885.1 1400.3 L885.6 1402.9 L886 1405.6 L886.5 1408.4 L887 1411.3 L887.4 1414.3 L887.9 1417.3 L888.4 1420.3 L888.8 1423.4 L889.3 1426.5 L889.5 1427.7 L889.6 1429 L889.8 1430.5 L890 1432.2 L890.1 1433.9 L890.3 1435.8 L890.5 1437.8 L890.6 1439.9 L890.8 1442.2 L891 1444.5 L891.2 1446.8 L891.3 1449.3 L891.5 1451.8 L891.7 1454.4 L891.8 1457.1 L892 1459.8 L892.2 1462.5 L892.3 1465.3 L892.5 1468.1 L892.7 1470.9 L892.8 1473.7 L893 1476.5 L893.2 1479.3 L893.3 1482.1 L893.5 1484.8 L893.7 1487.5 L893.9 1490.2 L894 1492.9 L894.2 1495.5 L894.4 1498 L894.5 1500.5 L894.7 1502.8 L894.9 1505.1 L895 1507.3 L895.2 1509.4 L895.4 1511.4 L895.5 1513.3 L895.7 1515.1 L895.9 1516.7 L896 1518.2 L896.2 1519.5 L896.4 1520.7 L896.6 1521.8 L896.7 1522.6 L896.9 1523.3 L897.1 1523.8 L897.2 1524.1 L897.4 1524.2 L897.5 1524 L897.6 1523.5 L897.7 1522.6 L897.9 1521.4 L898 1520 L898.1 1518.2 L898.2 1516.3 L898.3 1514.1 L898.4 1511.8 L898.6 1509.2 L898.7 1506.6 L898.8 1503.8 L898.9 1500.9 L899 1498 L899.1 1495.1 L899.3 1492.1 L899.4 1489.1 L899.5 1486.1 L899.6 1483.2 L899.7 1480.4 L899.8 1477.7 L900 1475.1 L900.1 1472.6 L900.2 1470.4 L900.3 1468.3 L900.4 1466.5 L900.5 1464.9 L900.7 1463.5 L900.8 1462.5 L900.9 1461.8 L901 1461.4 L901.9 1459.9 L902.8 1458.7 L903.8 1457.6 L904.7 1456.7 L905.6 1456 L906.5 1455.4 L907.4 1454.9 L908.4 1454.6 L909.3 1454.5 L910.2 1454.4 L911.2 1454.8 L912.1 1455.8 L913.1 1457.5 L914.1 1459.7 L915 1462.2 L916 1465 L916.2 1465.8 L916.4 1466.8 L916.6 1468.1 L916.8 1469.6 L917 1471.3 L917.2 1473.3 L917.4 1475.4 L917.6 1477.7 L917.9 1480.1 L918.1 1482.6 L918.3 1485.3 L918.5 1488 L918.7 1490.9 L918.9 1493.7 L919.1 1496.6 L919.3 1499.6 L919.5 1502.5 L919.7 1505.4 L919.9 1508.3 L920.1 1511.1 L920.3 1513.8 L920.5 1516.5 L920.7 1519 L920.9 1521.5 L921.1 1523.7 L921.4 1525.8 L921.6 1527.8 L921.8 1529.5 L922 1531 L922.2 1532.3 L922.4 1533.3 L922.6 1534.1 L922.8 1534.5 L923 1534.7 L923.3 1534.6 L923.5 1534.2 L923.8 1533.7 L924 1532.9 L924.3 1532 L924.6 1530.8 L924.8 1529.5 L925.1 1528 L925.4 1526.4 L925.6 1524.6 L925.9 1522.6 L926.1 1520.6 L926.4 1518.4 L926.7 1516.1 L926.9 1513.7 L927.2 1511.2 L927.4 1508.6 L927.7 1505.9 L928 1503.2 L928.2 1500.4 L928.5 1497.6 L928.7 1494.7 L929 1491.8 L929.3 1488.8 L929.5 1485.9 L929.8 1483 L930.1 1480 L930.3 1477.1 L930.6 1474.2 L930.8 1471.3 L931.1 1468.5 L931.4 1465.8 L931.6 1463.1 L931.9 1460.4 L932.1 1457.9 L932.4 1455.4 L932.7 1453.1 L932.9 1450.8 L933.2 1448.7 L933.4 1446.7 L933.7 1444.8 L934 1443.1 L934.2 1441.5 L934.5 1440.1 L934.8 1438.8 L935 1437.8 L935.3 1436.9 L935.5 1436.3 L935.8 1435.8 L936.7 1434.6 L937.6 1433.5 L938.6 1432.5 L939.5 1431.6 L940.4 1430.8 L941.3 1430.1 L942.2 1429.5 L943.2 1429.1 L944.1 1428.9 L945 1428.8 L945.3 1429 L945.6 1429.8 L945.9 1430.9 L946.3 1432.4 L946.6 1434.2 L946.9 1436.4 L947.2 1438.7 L947.5 1441.3 L947.8 1443.9 L948.2 1446.7 L948.5 1449.5 L948.8 1452.4 L949.1 1455.2 L949.4 1457.9 L949.7 1460.4 L950.1 1462.8 L950.4 1465 L950.7 1466.8 L951 1468.4 L951.7 1471.1 L952.3 1473.4 L953 1475.5 L953.7 1477.3 L954.3 1479 L955 1480.7 L955.7 1482.4 L956.3 1484.1 L957 1486.1 L957.7 1488.4 L958.3 1491 L959 1494 L959.2 1495.2 L959.4 1496.7 L959.7 1498.5 L959.9 1500.4 L960.1 1502.6 L960.3 1504.9 L960.5 1507.4 L960.7 1510 L961 1512.8 L961.2 1515.5 L961.4 1518.4 L961.6 1521.2 L961.8 1524.1 L962.1 1526.9 L962.3 1529.7 L962.5 1532.4 L962.7 1535 L962.9 1537.5 L963.2 1539.8 L963.4 1541.9 L963.6 1543.9 L963.8 1545.6 L964 1547 L964.2 1548.2 L964.5 1549.1 L964.7 1549.6 L964.9 1549.8 L965.2 1549.6 L965.4 1549.1 L965.7 1548.3 L966 1547.1 L966.3 1545.7 L966.5 1544 L966.8 1542.1 L967.1 1540 L967.4 1537.7 L967.6 1535.2 L967.9 1532.6 L968.2 1529.9 L968.5 1527 L968.7 1524 L969 1521 L969.3 1518 L969.5 1514.9 L969.8 1511.8 L970.1 1508.8 L970.4 1505.8 L970.6 1502.8 L970.9 1499.9 L971.2 1497.2 L971.5 1494.6 L971.7 1492.1 L972 1489.8 L972.3 1487.7 L972.6 1485.8 L972.8 1484.1 L973.1 1482.7 L973.4 1481.5 L973.7 1480.7 L973.9 1480.2 L974.2 1480 L975.1 1480.1 L976 1480.3 L976.9 1480.6 L977.8 1481 L978.7 1481.3 L979.6 1481.7 L980.5 1482 L981.4 1482.2 L982.3 1482.3 L982.9 1482 L983.5 1481.2 L984.1 1479.9 L984.6 1478.1 L985.2 1476 L985.8 1473.6 L986.4 1470.9 L987 1468 L987.6 1465.1 L988.1 1462 L988.7 1458.9 L989.3 1455.9 L989.9 1453 L990.5 1450.2 L991.1 1447.7 L991.7 1445.5 L992.2 1443.6 L992.8 1442.1 L993.4 1441 L994 1440.5 L995 1440.1 L995.9 1439.8 L996.9 1439.4 L997.9 1439.2 L998.8 1438.9 L999.8 1438.7 L1000.8 1438.5 L1001.7 1438.3 L1002.7 1438.2 L1003.7 1438.1 L1004.6 1438 L1005.6 1438 L1006.2 1438.9 L1006.8 1441.2 L1007.4 1444.2 L1008 1447 L1008.4 1448.9 L1008.8 1451.1 L1009.2 1453.5 L1009.6 1456.1 L1010 1458.8 L1010.4 1461.5 L1010.9 1464.1 L1011.3 1466.7 L1011.7 1469 L1012.1 1471.1 L1012.5 1472.8 L1012.9 1474.2 L1013.3 1475 L1013.7 1475.3 L1013.9 1475.1 L1014.2 1474.3 L1014.4 1473.2 L1014.7 1471.7 L1014.9 1469.8 L1015.2 1467.7 L1015.4 1465.3 L1015.6 1462.6 L1015.9 1459.9 L1016.1 1456.9 L1016.4 1453.9 L1016.6 1450.9 L1016.8 1447.9 L1017.1 1444.9 L1017.3 1441.9 L1017.6 1439.2 L1017.8 1436.5 L1018 1434.1 L1018.3 1432 L1018.5 1430.1 L1018.8 1428.6 L1019 1427.5 L1019.3 1426.7 L1019.5 1426.5 L1019.7 1426.6 L1019.8 1427.1 L1020 1427.7 L1020.2 1428.7 L1020.3 1429.8 L1020.5 1431.2 L1020.7 1432.8 L1020.8 1434.6 L1021 1436.5 L1021.2 1438.6 L1021.3 1440.9 L1021.5 1443.3 L1021.7 1445.9 L1021.8 1448.5 L1022 1451.3 L1022.2 1454.1 L1022.3 1457 L1022.5 1459.9 L1022.7 1462.9 L1022.8 1465.9 L1023 1469 L1023.2 1472 L1023.3 1475 L1023.5 1478 L1023.7 1480.9 L1023.8 1483.8 L1024 1486.6 L1024.2 1489.4 L1024.3 1492 L1024.5 1494.6 L1024.7 1497 L1024.8 1499.3 L1025 1501.4 L1025.2 1503.3 L1025.3 1505.1 L1025.5 1506.7 L1025.7 1508.1 L1025.8 1509.2 L1026 1510.2 L1026.2 1510.8 L1026.3 1511.3 L1026.5 1511.4 L1026.8 1511.2 L1027 1510.8 L1027.3 1510 L1027.5 1508.9 L1027.8 1507.6 L1028 1506.1 L1028.3 1504.3 L1028.6 1502.3 L1028.8 1500.1 L1029.1 1497.8 L1029.3 1495.3 L1029.6 1492.7 L1029.9 1490 L1030.1 1487.2 L1030.4 1484.3 L1030.6 1481.3 L1030.9 1478.4 L1031.2 1475.3 L1031.4 1472.3 L1031.7 1469.4 L1031.9 1466.4 L1032.2 1463.5 L1032.4 1460.7 L1032.7 1458 L1033 1455.4 L1033.2 1452.9 L1033.5 1450.6 L1033.7 1448.4 L1034 1446.4 L1034.2 1444.6 L1034.5 1443.1 L1034.8 1441.8 L1035 1440.7 L1035.3 1439.9 L1035.5 1439.5 L1035.8 1439.3 L1036.4 1439.5 L1037 1440.2 L1037.5 1441.4 L1038.1 1442.8 L1038.7 1444.6 L1039.2 1446.7 L1039.8 1449 L1040.4 1451.5 L1041 1454.2 L1041.5 1456.9 L1042.1 1459.7 L1042.7 1462.5 L1043.3 1465.3 L1043.8 1468 L1044.4 1470.6 L1045 1473 L1045.5 1475 L1045.9 1477.2 L1046.4 1479.6 L1046.9 1482.2 L1047.3 1484.9 L1047.8 1487.6 L1048.3 1490.4 L1048.8 1493.2 L1049.2 1496 L1049.7 1498.7 L1050.2 1501.3 L1050.6 1503.8 L1051.1 1506.1 L1051.6 1508.2 L1052.1 1510.1 L1052.5 1511.8 L1053 1513.1 L1053.5 1514.1 L1053.9 1514.7 L1054.4 1514.9 L1054.9 1514.7 L1055.5 1514.2 L1056 1513.4 L1056.6 1512.3 L1057.1 1510.9 L1057.7 1509.2 L1058.2 1507.4 L1058.7 1505.3 L1059.3 1503 L1059.8 1500.6 L1060.4 1498.1 L1060.9 1495.5 L1061.5 1492.7 L1062 1489.9 L1062.6 1487.1 L1063.1 1484.2 L1063.6 1481.3 L1064.2 1478.5 L1064.7 1475.7 L1065.3 1472.9 L1065.8 1470.3 L1066.4 1467.8 L1066.9 1465.4 L1067.4 1463.2 L1068 1461.1 L1068.5 1459.3 L1069.1 1457.7 L1069.6 1456.3 L1070.2 1455.2 L1070.7 1454.4 L1071.6 1453.4 L1072.6 1452.7 L1073.5 1452.1 L1074.4 1451.6 L1075.3 1451.1 L1076.3 1450.6 L1077.2 1450.1 L1078.1 1449.4 L1079.1 1448.5 L1080 1447.4 L1080.5 1446.3 L1081 1444.5 L1081.6 1442.1 L1082.1 1439.5 L1082.6 1436.8 L1083.1 1434.2 L1083.7 1431.8 L1084.2 1430 L1084.7 1428.8 L1085.6 1427.5 L1086.5 1426.3 L1087.4 1425.2 L1088.3 1424.3 L1089.2 1423.5 L1090.1 1422.8 L1091 1422.3 L1091.9 1422 L1092.8 1421.9 L1093.6 1422.5 L1094.4 1424.2 L1095.2 1426.6 L1096 1429.4 L1096.8 1432.5 L1097.6 1435.3 L1098.4 1437.7 L1099.2 1439.4 L1100 1440 L1101 1439.8 L1102 1439.2 L1103 1438.3 L1104 1437.3 L1104.9 1436.4 L1105.9 1435.5 L1106.9 1434.9 L1107.9 1434.7 L1108.8 1435 L1109.6 1435.8 L1110.5 1437.1 L1111.3 1438.8 L1112.2 1440.8 L1113 1443 L1113.2 1443.8 L1113.4 1444.9 L1113.6 1446.4 L1113.9 1448.2 L1114.1 1450.2 L1114.3 1452.5 L1114.5 1454.9 L1114.7 1457.5 L1114.9 1460.3 L1115.2 1463.1 L1115.4 1466 L1115.6 1468.9 L1115.8 1471.8 L1116 1474.7 L1116.2 1477.5 L1116.5 1480.2 L1116.7 1482.7 L1116.9 1485.1 L1117.1 1487.2 L1117.3 1489.2 L1117.5 1490.8 L1117.8 1492.2 L1118 1493.2 L1118.2 1493.8 L1118.4 1494 L1118.7 1493.7 L1118.9 1493 L1119.2 1491.8 L1119.4 1490.3 L1119.7 1488.4 L1119.9 1486.1 L1120.2 1483.7 L1120.4 1481 L1120.7 1478.2 L1120.9 1475.2 L1121.2 1472.2 L1121.4 1469.2 L1121.7 1466.2 L1121.9 1463.2 L1122.2 1460.4 L1122.4 1457.7 L1122.7 1455.3 L1122.9 1453 L1123.2 1451.1 L1123.4 1449.6 L1123.7 1448.4 L1123.9 1447.7 L1124.2 1447.4 L1125.2 1447.6 L1126.1 1448.1 L1127.1 1449 L1128.1 1450.2 L1129.1 1451.6 L1130 1453.2 L1131 1455 L1131.2 1455.6 L1131.5 1456.5 L1131.7 1457.6 L1131.9 1459 L1132.2 1460.6 L1132.4 1462.4 L1132.7 1464.4 L1132.9 1466.5 L1133.1 1468.8 L1133.4 1471.3 L1133.6 1473.8 L1133.8 1476.5 L1134.1 1479.2 L1134.3 1482 L1134.6 1484.9 L1134.8 1487.8 L1135 1490.7 L1135.3 1493.6 L1135.5 1496.5 L1135.7 1499.3 L1136 1502.1 L1136.2 1504.8 L1136.5 1507.4 L1136.7 1509.9 L1136.9 1512.3 L1137.2 1514.5 L1137.4 1516.6 L1137.6 1518.5 L1137.9 1520.2 L1138.1 1521.7 L1138.4 1522.9 L1138.6 1523.9 L1138.8 1524.7 L1139.1 1525.1 L1139.3 1525.3 L1139.8 1525.1 L1140.4 1524.3 L1140.9 1523.2 L1141.4 1521.7 L1141.9 1519.8 L1142.5 1517.7 L1143 1515.3 L1143.5 1512.6 L1144.1 1509.9 L1144.6 1506.9 L1145.1 1503.9 L1145.7 1500.9 L1146.2 1497.9 L1146.7 1494.9 L1147.2 1491.9 L1147.8 1489.2 L1148.3 1486.5 L1148.8 1484.1 L1149.4 1482 L1149.9 1480.1 L1150.4 1478.6 L1150.9 1477.5 L1151.5 1476.7 L1152 1476.5 L1153 1476.8 L1154 1477.7 L1154.9 1479.1 L1155.9 1480.9 L1156.9 1482.9 L1157.8 1485 L1158.8 1487.1 L1159.8 1489.1 L1160.8 1490.9 L1161.8 1492.4 L1162.7 1493.5 L1163.7 1494 L1164.6 1494.2 L1165.6 1494.3 L1166.5 1494.4 L1167.4 1494.5 L1168.3 1494.6 L1169.3 1494.7 L1170.2 1494.8 L1171.1 1494.8 L1172.1 1494.9 L1173 1495" fill="none" stroke="#379a66" stroke-width="3.4" stroke-linejoin="round" stroke-linecap="round"/>
<path d="M204.7 1546 L205.7 1546 L206.7 1546 L207.7 1546 L208.7 1546 L209.7 1546 L210.7 1546 L211.7 1546 L212.7 1546 L213.7 1546 L214.7 1546 L215.7 1546 L216.7 1546 L217.7 1546 L218.7 1546 L219.7 1546 L220.7 1546 L221.7 1546 L222.7 1546 L223.7 1546 L224.7 1546 L225.7 1546 L226.7 1546 L227.7 1546 L228.7 1546 L229.7 1546 L230.7 1546 L231.7 1546 L232.7 1546 L233.7 1546 L234.7 1546 L235.7 1546 L236.7 1546 L237.7 1546 L238.7 1546 L239.7 1546 L240.7 1546 L241.7 1546 L242.7 1546 L243.7 1546 L244.7 1546 L245.7 1546 L246.7 1546 L247.7 1546 L248.7 1546 L249.7 1546 L250.7 1546 L251.7 1546 L252.7 1546 L253.7 1546 L254.7 1546 L255.7 1546 L256.7 1546 L257.7 1546 L258.7 1546 L259.7 1546 L260.7 1546 L261.7 1546 L262.7 1546 L263.7 1546 L264.7 1546 L265.7 1546 L266.7 1546 L267.7 1546 L268.7 1546 L269.7 1546 L270.7 1546 L271.7 1546 L272.7 1546 L273.7 1546 L274.7 1546 L275.7 1546 L276.7 1546 L277.7 1546 L278.7 1546 L279.7 1546 L280.7 1546 L281.7 1546 L282.7 1546 L283.7 1546 L284.7 1546 L285.7 1546 L286.7 1546 L287.7 1546 L288.7 1546 L289.7 1546 L290.7 1546 L291.7 1546 L292.7 1546 L293.7 1546 L294.7 1546 L295.7 1546 L296.7 1546 L297.7 1546 L298.7 1546 L299.7 1546 L300.7 1546 L301.7 1546 L302.7 1546 L303.7 1546 L304.7 1546 L305.7 1546 L306.7 1546 L307.7 1546 L308.7 1546 L309.7 1546 L310.7 1546 L311.7 1546 L312.7 1546 L313.7 1546 L314.7 1546 L315.7 1546.1 L316.6 1546.1 L317.6 1546.1 L318.6 1546.1 L319.6 1546.1 L320.6 1546.1 L321.6 1546.1 L322.6 1546.1 L323.6 1546.2 L324.6 1546.2 L325.6 1546.2 L326.6 1546.2 L327.6 1546.2 L328.6 1546.3 L329.6 1546.3 L330.6 1546.3 L331.6 1546.3 L332.6 1546.4 L333.6 1546.4 L334.6 1546.4 L335.6 1546.5 L336.6 1546.5 L337.6 1546.5 L338.6 1546.6 L339.5 1546.6 L340.5 1546.6 L341.5 1546.7 L342.5 1546.7 L343.5 1546.8 L344.5 1546.8 L345.5 1546.9 L346.5 1546.9 L347.5 1546.9 L348.5 1547 L349.5 1547 L350.5 1547.1 L351.5 1547.2 L352.5 1547.2 L353.5 1547.3 L354.5 1547.3 L355.5 1547.4 L356.5 1547.4 L357.5 1547.5 L358.5 1547.6 L359.5 1547.6 L360.5 1547.7 L361.5 1547.8 L362.5 1547.8 L363.4 1547.9 L364.4 1548 L365.4 1548.1 L366.4 1548.1 L367.4 1548.2 L368.4 1548.3 L369.4 1548.4 L370.4 1548.5 L371.4 1548.5 L372.4 1548.6 L373.4 1548.7 L374.4 1548.8 L375.4 1548.9 L376.4 1549.1 L377.3 1549.3 L378.3 1549.6 L379.3 1549.9 L380.3 1550.3 L381.3 1550.7 L382.2 1551.2 L383.2 1551.8 L384.2 1552.4 L385.2 1553 L386.1 1553.8 L387.1 1554.6 L388.1 1555.4 L389.1 1556.3 L390.1 1557.3 L391 1558.3 L392 1559.4 L393 1560.5 L393.6 1561.3 L394.2 1562.4 L394.8 1563.8 L395.3 1565.4 L395.9 1567.2 L396.5 1569.3 L397.1 1571.6 L397.7 1574.1 L398.2 1576.8 L398.8 1579.7 L399.4 1582.7 L400 1586 L400.2 1587.1 L400.4 1588.4 L400.5 1589.8 L400.7 1591.3 L400.9 1593 L401.1 1594.7 L401.3 1596.6 L401.5 1598.5 L401.6 1600.6 L401.8 1602.7 L402 1604.8 L402.2 1607 L402.4 1609.3 L402.5 1611.6 L402.7 1613.9 L402.9 1616.2 L403.1 1618.6 L403.3 1620.9 L403.5 1623.2 L403.6 1625.5 L403.8 1627.8 L404 1630 L404.2 1632 L404.3 1634.3 L404.5 1636.7 L404.6 1639.3 L404.8 1642 L404.9 1644.8 L405.1 1647.6 L405.3 1650.3 L405.4 1653.1 L405.6 1655.7 L405.7 1658.3 L405.9 1660.7 L406.1 1662.9 L406.2 1664.8 L406.4 1666.5 L406.5 1667.9 L406.7 1668.9 L406.8 1669.6 L407 1669.8 L407.2 1669.6 L407.3 1668.9 L407.5 1667.8 L407.6 1666.4 L407.8 1664.7 L407.9 1662.7 L408.1 1660.4 L408.3 1658 L408.4 1655.4 L408.6 1652.7 L408.7 1649.9 L408.9 1647.1 L409.1 1644.3 L409.2 1641.5 L409.4 1638.9 L409.5 1636.4 L409.7 1634 L409.8 1631.9 L410 1630 L410.2 1627.6 L410.4 1625.1 L410.7 1622.7 L410.9 1620.2 L411.1 1617.9 L411.3 1615.5 L411.6 1613.2 L411.8 1610.9 L412 1608.7 L412.2 1606.6 L412.4 1604.5 L412.7 1602.5 L412.9 1600.7 L413.1 1598.9 L413.3 1597.2 L413.6 1595.7 L413.8 1594.3 L414 1593 L414.6 1589.9 L415.2 1586.9 L415.7 1583.9 L416.3 1581.1 L416.9 1578.4 L417.5 1575.8 L418.1 1573.3 L418.6 1571.1 L419.2 1569 L419.8 1567.1 L420.4 1565.4 L421 1563.9 L421.6 1562.6 L422.1 1561.7 L422.7 1560.9 L423.3 1560.5 L424.3 1560 L425.3 1559.7 L426.3 1559.3 L427.3 1559.1 L428.3 1558.8 L429.3 1558.6 L430.2 1558.4 L431.2 1558.3 L432.2 1558.1 L433.2 1557.9 L434.2 1557.7 L435.2 1557.5 L436.2 1557.3 L437.2 1557 L438.2 1556.7 L439.1 1556.3 L440.1 1555.8 L441 1555.3 L442 1554.8 L443 1554.2 L443.9 1553.7 L444.9 1553.1 L445.8 1552.6 L446.8 1552.1 L447.7 1551.6 L448.7 1551.1 L449.7 1550.8 L450.6 1550.4 L451.6 1550.2 L452.5 1550.1 L453.5 1550 L454.4 1550.1 L455.4 1550.2 L456.3 1550.5 L457.3 1550.8 L458.2 1551.2 L459.2 1551.6 L460.1 1552 L461.1 1552.5 L462 1553 L463 1553.7 L464 1554.7 L465 1555.9 L466 1557.2 L467 1558.5 L468 1559.7 L469 1560.7 L470 1561.4 L471 1561.6 L472 1561.4 L473 1561 L474 1560.3 L475 1559.4 L476 1558.5 L477 1557.5 L478 1556.5 L479 1555.7 L480 1555 L481 1554.4 L481.9 1553.8 L482.9 1553.2 L483.9 1552.6 L484.9 1552 L485.8 1551.5 L486.8 1551 L487.8 1550.6 L488.8 1550.3 L489.7 1550.1 L490.7 1550 L491.7 1550 L492.6 1550.2 L493.6 1550.4 L494.6 1550.7 L495.5 1551 L496.5 1551.5 L497.5 1552 L498.4 1552.6 L499.4 1553.3 L500.4 1554.1 L501.3 1554.9 L502.3 1555.8 L502.7 1556.3 L503.1 1557.1 L503.5 1558.2 L503.9 1559.6 L504.2 1561.1 L504.6 1562.9 L505 1564.8 L505.4 1566.9 L505.8 1569.2 L506.2 1571.6 L506.6 1574.1 L507 1576.7 L507.4 1579.4 L507.7 1582.1 L508.1 1584.8 L508.5 1587.5 L508.9 1590.3 L509.3 1593 L509.5 1594.6 L509.7 1596.5 L509.9 1598.5 L510.2 1600.8 L510.4 1603.2 L510.6 1605.8 L510.8 1608.4 L511 1611.1 L511.2 1613.8 L511.4 1616.5 L511.6 1619.2 L511.9 1621.8 L512.1 1624.3 L512.3 1626.7 L512.5 1628.9 L512.7 1630.9 L512.9 1632.7 L513.1 1634.2 L513.4 1635.5 L513.6 1636.4 L513.8 1637 L514 1637.2 L515 1636.5 L516 1634.7 L517 1632.1 L518 1629.1 L519 1626.2 L520 1623.7 L521 1622 L522 1620.8 L523 1619.7 L524 1618.6 L525 1617.7 L526 1616.9 L527 1616.5 L528 1616.3 L529 1616.8 L530 1618.3 L531 1620.3 L532 1622.6 L533 1625 L533.7 1627.1 L534.4 1629.9 L535.1 1632.9 L535.8 1635.6 L536.5 1637.6 L537.2 1638.4 L537.5 1638.2 L537.9 1637.7 L538.2 1636.8 L538.5 1635.7 L538.9 1634.2 L539.2 1632.5 L539.5 1630.6 L539.9 1628.5 L540.2 1626.2 L540.5 1623.7 L540.9 1621.1 L541.2 1618.5 L541.5 1615.7 L541.9 1612.9 L542.2 1610 L542.5 1607.1 L542.8 1604.3 L543.2 1601.5 L543.5 1598.8 L543.8 1596.2 L544.2 1593.6 L544.5 1591.3 L544.8 1589.1 L545.2 1587 L545.5 1585.2 L545.8 1583.7 L546.2 1582.4 L546.5 1581.4 L547.5 1579 L548.4 1576.8 L549.4 1574.6 L550.3 1572.6 L551.3 1570.7 L552.3 1569 L553.2 1567.3 L554.2 1565.8 L555.1 1564.4 L556.1 1563.1 L557 1561.9 L558 1560.8 L559 1559.8 L559.9 1559 L560.9 1558.2 L561.8 1557.6 L562.8 1557 L563.8 1556.5 L564.8 1556 L565.8 1555.5 L566.8 1555 L567.8 1554.6 L568.8 1554.2 L569.8 1553.7 L570.8 1553.3 L571.8 1553 L572.8 1552.6 L573.8 1552.2 L574.8 1551.9 L575.8 1551.6 L576.8 1551.3 L577.7 1551 L578.7 1550.7 L579.7 1550.5 L580.7 1550.2 L581.7 1550 L582.7 1549.8 L583.7 1549.6 L584.7 1549.5 L585.7 1549.3 L586.7 1549.2 L587.7 1549 L588.7 1548.9 L589.7 1548.9 L590.7 1548.8 L591.7 1548.7 L592.7 1548.7 L593.7 1548.6 L594.7 1548.6 L595.7 1548.5 L596.7 1548.5 L597.7 1548.4 L598.6 1548.4 L599.6 1548.3 L600.6 1548.3 L601.6 1548.3 L602.6 1548.2 L603.6 1548.2 L604.6 1548.1 L605.6 1548.1 L606.6 1548 L607.6 1548 L608.6 1548 L609.6 1547.9 L610.6 1547.9 L611.6 1547.9 L612.6 1547.8 L613.6 1547.8 L614.5 1547.8 L615.5 1547.7 L616.5 1547.7 L617.5 1547.7 L618.5 1547.6 L619.5 1547.6 L620.5 1547.6 L621.5 1547.6 L622.5 1547.5 L623.5 1547.5 L624.5 1547.5 L625.5 1547.4 L626.5 1547.4 L627.5 1547.4 L628.5 1547.4 L629.5 1547.4 L630.4 1547.3 L631.4 1547.3 L632.4 1547.3 L633.4 1547.3 L634.4 1547.2 L635.4 1547.2 L636.4 1547.2 L637.4 1547.2 L638.4 1547.2 L639.4 1547.2 L640.4 1547.1 L641.4 1547.1 L642.4 1547.1 L643.4 1547.1 L644.4 1547.1 L645.4 1547 L646.3 1547 L647.3 1547 L648.3 1547 L649.3 1547 L650.3 1547 L651.3 1547 L652.3 1546.9 L653.3 1546.9 L654.3 1546.9 L655.3 1546.9 L656.3 1546.9 L657.3 1546.9 L658.3 1546.8 L659.3 1546.8 L660.3 1546.8 L661.2 1546.8 L662.2 1546.8 L663.2 1546.8 L664.2 1546.8 L665.2 1546.7 L666.2 1546.7 L667.2 1546.7 L668.2 1546.7 L669.2 1546.7 L670.2 1546.7 L671.2 1546.6 L672.2 1546.6 L673.2 1546.6 L674.2 1546.6 L675.2 1546.6 L676.2 1546.6 L677.1 1546.5 L678.1 1546.5 L679.1 1546.5 L680.1 1546.5 L681.1 1546.5 L682.1 1546.4 L683.1 1546.4 L684.1 1546.4 L685.1 1546.4 L686.1 1546.4 L687.1 1546.3 L688.1 1546.3 L689.1 1546.3 L690.1 1546.3 L691.1 1546.2 L692.1 1546.2 L693 1546.2 L694 1546.2 L695 1546.1 L696 1546.1 L697 1546.1 L698 1546.1 L699 1546 L700 1546 L701 1546 L702 1545.9 L703 1545.9 L704 1545.9 L705 1545.8 L706 1545.8 L707 1545.8 L708 1545.7 L709 1545.7 L710 1545.6 L711 1545.6 L712 1545.6 L713 1545.5 L714 1545.5 L714.9 1545.4 L715.9 1545.4 L716.9 1545.3 L717.9 1545.3 L718.9 1545.2 L719.9 1545.2 L720.9 1545.1 L721.9 1545.1 L722.9 1545 L723.9 1545 L724.9 1545 L725.9 1544.9 L726.9 1544.9 L727.9 1544.8 L728.9 1544.8 L729.9 1544.7 L730.9 1544.6 L731.9 1544.6 L732.9 1544.5 L733.9 1544.5 L734.9 1544.4 L735.9 1544.4 L736.9 1544.3 L737.9 1544.3 L738.9 1544.2 L739.9 1544.2 L740.9 1544.1 L741.9 1544.1 L742.8 1544 L743.8 1544 L744.8 1544 L745.8 1543.9 L746.8 1543.9 L747.8 1543.8 L748.8 1543.8 L749.8 1543.7 L750.8 1543.7 L751.8 1543.6 L752.8 1543.6 L753.8 1543.5 L754.8 1543.5 L755.8 1543.5 L756.8 1543.4 L757.8 1543.4 L758.8 1543.3 L759.8 1543.3 L760.8 1543.3 L761.8 1543.2 L762.8 1543.2 L763.8 1543.2 L764.8 1543.1 L765.8 1543.1 L766.8 1543.1 L767.8 1543 L768.8 1543 L769.8 1543 L770.7 1543 L771.7 1542.9 L772.7 1542.9 L773.7 1542.9 L774.7 1542.9 L775.7 1542.9 L776.7 1542.9 L777.7 1542.8 L778.7 1542.8 L779.7 1542.8 L780.7 1542.8 L781.7 1542.8 L782.7 1542.8 L783.7 1542.8 L784.7 1542.8 L785.7 1542.8 L786.7 1542.8 L787.7 1542.8 L788.7 1542.8 L789.7 1542.8 L790.7 1542.8 L791.7 1542.8 L792.7 1542.8 L793.7 1542.8 L794.7 1542.9 L795.7 1542.9 L796.7 1542.9 L797.7 1542.9 L798.7 1542.9 L799.7 1542.9 L800.7 1542.9 L801.7 1543 L802.7 1543 L803.7 1543 L804.7 1543 L805.7 1543.1 L806.7 1543.1 L807.7 1543.1 L808.7 1543.2 L809.7 1543.2 L810.7 1543.3 L811.7 1543.3 L812.7 1543.3 L813.7 1543.4 L814.7 1543.4 L815.7 1543.5 L816.7 1543.5 L817.7 1543.6 L818.7 1543.7 L819.7 1543.7 L820.7 1543.8 L821.7 1543.9 L822.7 1543.9 L823.7 1544 L824.7 1544.1 L825.7 1544.2 L826.7 1544.3 L827.7 1544.3 L828.7 1544.4 L829.7 1544.5 L830.7 1544.6 L831.7 1544.7 L832.7 1544.8 L833.7 1544.9 L834.7 1545.1 L835.7 1545.2 L836.7 1545.3 L837.7 1545.4 L838.7 1545.5 L839.7 1545.7 L840.7 1545.8 L841.7 1546 L842.7 1546.1 L843.7 1546.3 L844.7 1546.4 L845.7 1546.6 L846.7 1546.7 L847.7 1546.9 L848.7 1547.1 L849.7 1547.2 L850.7 1547.4 L851.7 1547.6 L852.7 1547.8 L853.7 1548 L854.7 1548.2 L855.7 1548.4 L856.7 1548.6 L857.6 1549.2 L858.5 1550.5 L859.4 1552.4 L860.2 1554.7 L861.1 1557.3 L862 1560 L862.4 1561.4 L862.8 1563.3 L863.2 1565.5 L863.5 1567.9 L863.9 1570.6 L864.3 1573.3 L864.7 1576 L865.1 1578.7 L865.5 1581.2 L865.9 1583.4 L866.2 1585.3 L866.6 1586.7 L867 1587.7 L867.4 1588 L868 1587.5 L868.6 1586.2 L869.3 1584.2 L869.9 1581.8 L870.5 1579.2 L871.1 1576.5 L871.8 1573.9 L872.4 1571.7 L873 1570 L873.9 1567.9 L874.9 1565.8 L875.8 1563.8 L876.8 1562 L877.7 1560.4 L878.6 1559.1 L879.6 1558.3 L880.5 1558 L881.2 1558.5 L882 1559.8 L882.8 1561.8 L883.5 1564.2 L884.2 1567 L885 1570 L885.2 1570.9 L885.4 1572 L885.7 1573.1 L885.9 1574.3 L886.1 1575.6 L886.3 1577 L886.5 1578.5 L886.8 1580.1 L887 1581.7 L887.2 1583.5 L887.4 1585.3 L887.6 1587.2 L887.9 1589.1 L888.1 1591.1 L888.3 1593.2 L888.5 1595.4 L888.7 1597.6 L889 1599.9 L889.2 1602.2 L889.4 1604.6 L889.6 1607 L889.8 1609.5 L890.1 1612 L890.3 1614.6 L890.5 1617.2 L890.7 1619.8 L890.9 1622.5 L891.2 1625.2 L891.4 1627.9 L891.6 1630.7 L891.7 1632 L891.8 1633.4 L891.9 1635 L892 1636.6 L892.1 1638.3 L892.2 1640.1 L892.3 1641.9 L892.4 1643.9 L892.5 1645.9 L892.6 1648 L892.7 1650.2 L892.8 1652.5 L892.9 1654.8 L893 1657.1 L893.1 1659.5 L893.2 1662 L893.3 1664.5 L893.4 1667 L893.5 1669.6 L893.6 1672.2 L893.7 1674.9 L893.8 1677.5 L893.9 1680.2 L894 1682.9 L894.1 1685.6 L894.2 1688.4 L894.3 1691.1 L894.4 1693.9 L894.5 1696.6 L894.6 1699.3 L894.7 1702 L894.8 1704.8 L894.9 1707.4 L895 1710.1 L895.1 1712.8 L895.2 1715.4 L895.3 1718 L895.4 1720.5 L895.5 1723 L895.6 1725.5 L895.7 1727.9 L895.8 1730.2 L895.9 1732.5 L896 1734.8 L896.1 1737 L896.2 1739.1 L896.3 1741.1 L896.4 1743.1 L896.5 1744.9 L896.6 1746.7 L896.7 1748.5 L896.8 1750.1 L896.9 1751.6 L897 1753 L897.1 1754.3 L897.2 1755.6 L897.3 1756.7 L897.4 1757.6 L897.5 1758.5 L897.6 1759.3 L897.7 1759.9 L897.8 1760.4 L897.9 1760.7 L898 1760.9 L898.1 1761 L898.2 1760.9 L898.2 1760.7 L898.3 1760.4 L898.3 1759.9 L898.4 1759.3 L898.5 1758.5 L898.5 1757.6 L898.6 1756.7 L898.6 1755.5 L898.7 1754.3 L898.8 1753 L898.8 1751.6 L898.9 1750 L899 1748.4 L899 1746.7 L899.1 1744.9 L899.1 1742.9 L899.2 1741 L899.3 1738.9 L899.3 1736.7 L899.4 1734.5 L899.4 1732.2 L899.5 1729.9 L899.6 1727.5 L899.6 1725 L899.7 1722.5 L899.7 1719.9 L899.8 1717.3 L899.9 1714.6 L899.9 1711.9 L900 1709.1 L900.1 1706.4 L900.1 1703.6 L900.2 1700.7 L900.2 1697.9 L900.3 1695 L900.4 1692.1 L900.4 1689.2 L900.5 1686.3 L900.5 1683.4 L900.6 1680.5 L900.7 1677.6 L900.7 1674.7 L900.8 1671.8 L900.8 1668.9 L900.9 1666.1 L901 1663.2 L901 1660.4 L901.1 1657.6 L901.2 1654.9 L901.2 1652.2 L901.3 1649.5 L901.3 1646.9 L901.4 1644.3 L901.5 1641.8 L901.5 1639.3 L901.6 1636.9 L901.6 1634.6 L901.7 1632.3 L901.8 1630.1 L901.8 1627.9 L901.9 1625.9 L901.9 1623.9 L902 1622 L902.1 1620.1 L902.1 1618.4 L902.2 1616.8 L902.3 1615.3 L902.3 1613.8 L902.4 1612.5 L902.4 1611.3 L902.5 1610.2 L902.6 1609.2 L902.6 1608.3 L902.7 1607.6 L902.7 1607 L902.8 1606.5 L903.4 1602.5 L904 1598.7 L904.6 1595.2 L905.3 1592 L905.9 1589 L906.5 1586.3 L907.1 1584 L907.7 1581.8 L908.3 1580 L908.9 1578.4 L909.5 1577.2 L910.2 1576.2 L910.8 1575.5 L911.4 1575 L912 1574.9 L912.7 1575.3 L913.4 1576.6 L914.1 1578.4 L914.9 1580.8 L915.6 1583.7 L916.3 1586.8 L917 1590 L917.2 1590.8 L917.3 1591.8 L917.5 1593 L917.7 1594.3 L917.8 1595.7 L918 1597.3 L918.1 1599 L918.3 1600.8 L918.5 1602.7 L918.6 1604.7 L918.8 1606.9 L919 1609.1 L919.1 1611.4 L919.3 1613.8 L919.5 1616.3 L919.6 1618.8 L919.8 1621.4 L919.9 1624.1 L920.1 1626.8 L920.3 1629.6 L920.4 1632.3 L920.6 1635.2 L920.8 1638 L920.9 1640.9 L921.1 1643.7 L921.3 1646.6 L921.4 1649.4 L921.6 1652.3 L921.7 1655.1 L921.9 1657.9 L922.1 1660.7 L922.2 1663.5 L922.4 1666.2 L922.6 1668.8 L922.7 1671.4 L922.9 1673.9 L923.1 1676.4 L923.2 1678.8 L923.4 1681.1 L923.5 1683.3 L923.7 1685.4 L923.9 1687.4 L924 1689.3 L924.2 1691.1 L924.4 1692.8 L924.5 1694.4 L924.7 1695.8 L924.9 1697 L925 1698.1 L925.2 1699.1 L925.3 1699.9 L925.5 1700.6 L925.7 1701 L925.8 1701.3 L926 1701.4 L926.2 1701.3 L926.3 1701 L926.5 1700.5 L926.6 1699.8 L926.8 1699 L927 1697.9 L927.1 1696.7 L927.3 1695.4 L927.4 1693.9 L927.6 1692.3 L927.7 1690.5 L927.9 1688.6 L928.1 1686.6 L928.2 1684.4 L928.4 1682.2 L928.5 1679.9 L928.7 1677.5 L928.9 1675 L929 1672.4 L929.2 1669.8 L929.3 1667.1 L929.5 1664.3 L929.6 1661.5 L929.8 1658.7 L930 1655.8 L930.1 1652.9 L930.3 1650 L930.4 1647.1 L930.6 1644.2 L930.8 1641.3 L930.9 1638.4 L931.1 1635.6 L931.2 1632.7 L931.4 1629.9 L931.5 1627.2 L931.7 1624.5 L931.9 1621.8 L932 1619.2 L932.2 1616.7 L932.3 1614.3 L932.5 1612 L932.7 1609.7 L932.8 1607.6 L933 1605.6 L933.1 1603.6 L933.3 1601.9 L933.4 1600.2 L933.6 1598.7 L933.8 1597.3 L933.9 1596.1 L934.1 1595.1 L934.2 1594.2 L934.4 1593.5 L935.3 1590.1 L936.2 1587 L937.2 1584.5 L938.1 1582.9 L939 1582.3 L939.4 1582.6 L939.9 1583.3 L940.3 1584.5 L940.8 1586 L941.2 1587.9 L941.6 1590.1 L942.1 1592.5 L942.5 1595.1 L943 1597.8 L943.4 1600.6 L943.8 1603.4 L944.3 1606.2 L944.7 1608.9 L945.2 1611.6 L945.6 1614 L946 1616 L946.3 1618.3 L946.6 1620.8 L947 1623.4 L947.4 1626.2 L947.7 1628.9 L948.1 1631.7 L948.4 1634.4 L948.8 1637 L949.1 1639.5 L949.5 1641.7 L949.8 1643.6 L950.2 1645.2 L950.5 1646.4 L950.9 1647.1 L951.2 1647.4 L951.6 1647.2 L952 1646.4 L952.4 1645.3 L952.8 1643.8 L953.1 1642 L953.5 1639.9 L953.9 1637.5 L954.3 1635 L954.7 1632.4 L955.1 1629.6 L955.5 1626.8 L955.9 1624 L956.3 1621.3 L956.7 1618.6 L957 1616.1 L957.4 1613.8 L957.8 1611.7 L958.2 1609.9 L958.6 1608.4 L959.4 1605.5 L960.3 1602.7 L961.1 1599.8 L962 1597.1 L962.8 1594.5 L963.7 1592.2 L964.5 1590.1 L965.4 1588.4 L966.2 1587.1 L967.1 1586.3 L967.9 1586 L968.5 1586.3 L969 1587.2 L969.6 1588.6 L970.2 1590.5 L970.7 1592.6 L971.3 1595 L971.9 1597.6 L972.5 1600.3 L973 1602.9 L973.6 1605.5 L974.2 1608 L974.7 1610.1 L975.3 1612 L976.1 1614.6 L977 1617.3 L977.8 1620.1 L978.6 1622.8 L979.5 1625.3 L980.3 1627.5 L981.1 1629.2 L982 1630.3 L982.8 1630.7 L983 1630.3 L983.3 1629.3 L983.5 1627.6 L983.7 1625.5 L984 1622.9 L984.2 1620.1 L984.4 1617.1 L984.6 1614 L984.9 1610.8 L985.1 1607.8 L985.3 1605 L985.6 1602.4 L985.8 1600.3 L986 1598.6 L986.3 1597.6 L986.5 1597.2 L987.4 1597.2 L988.4 1597.3 L989.3 1597.4 L990.2 1597.5 L991.1 1597.6 L992.1 1597.8 L993 1598 L993.4 1598.3 L993.8 1599 L994.2 1600.2 L994.6 1601.6 L995 1603.4 L995.4 1605.5 L995.8 1607.8 L996.2 1610.4 L996.6 1613.1 L997 1615.9 L997.4 1618.8 L997.8 1621.8 L998.1 1624.9 L998.5 1627.9 L998.9 1630.9 L999.3 1633.9 L999.7 1636.7 L1000.1 1639.3 L1000.5 1641.8 L1000.9 1644.1 L1001.3 1646.1 L1001.7 1647.9 L1002.1 1649.3 L1002.5 1650.3 L1002.9 1651 L1003.3 1651.2 L1004.2 1650.9 L1005.2 1650.2 L1006.1 1649.1 L1007 1647.6 L1008 1645.8 L1008.9 1643.8 L1009.8 1641.6 L1010.7 1639.2 L1011.7 1636.8 L1012.6 1634.4 L1013 1633.1 L1013.5 1631.4 L1013.9 1629.4 L1014.4 1627.2 L1014.8 1624.7 L1015.3 1622.2 L1015.7 1619.5 L1016.1 1616.7 L1016.6 1614 L1017 1611.3 L1017.5 1608.6 L1017.9 1606.1 L1018.3 1603.8 L1018.8 1601.7 L1019.2 1599.9 L1019.7 1598.4 L1020.1 1597.3 L1020.6 1596.5 L1021 1596.3 L1021.9 1596.9 L1022.8 1598.4 L1023.7 1600.7 L1024.7 1603.4 L1025.6 1606.4 L1026.5 1609.3 L1027.4 1612 L1028.1 1613.7 L1028.7 1615.4 L1029.4 1617 L1030.1 1618.6 L1030.7 1620.3 L1031.4 1621.9 L1032.1 1623.7 L1032.7 1625.5 L1033.4 1627.4 L1034 1629.5 L1034.7 1631.8 L1035.4 1634.3 L1036 1637 L1036.7 1640 L1036.9 1641.2 L1037.1 1642.5 L1037.4 1644.1 L1037.6 1645.8 L1037.8 1647.7 L1038 1649.7 L1038.3 1651.8 L1038.5 1654 L1038.7 1656.3 L1038.9 1658.7 L1039.2 1661.1 L1039.4 1663.5 L1039.6 1666 L1039.8 1668.4 L1040.1 1670.9 L1040.3 1673.3 L1040.5 1675.6 L1040.7 1677.9 L1041 1680 L1041.2 1682.1 L1041.4 1684 L1041.6 1685.8 L1041.9 1687.5 L1042.1 1688.9 L1042.3 1690.2 L1042.9 1693.3 L1043.5 1696.5 L1044.1 1699.5 L1044.7 1702.5 L1045.3 1705.5 L1046 1708.4 L1046.6 1711.2 L1047.2 1713.9 L1047.8 1716.5 L1048.4 1719 L1049 1721.4 L1049.6 1723.6 L1050.2 1725.7 L1050.8 1727.7 L1051.4 1729.5 L1052 1731.1 L1052.6 1732.5 L1053.3 1733.7 L1053.9 1734.8 L1054.5 1735.6 L1055.1 1736.2 L1055.7 1736.6 L1056.3 1736.7 L1056.6 1736.6 L1056.9 1736.1 L1057.2 1735.4 L1057.5 1734.5 L1057.8 1733.3 L1058.1 1731.9 L1058.4 1730.3 L1058.7 1728.5 L1059 1726.6 L1059.3 1724.4 L1059.5 1722.1 L1059.8 1719.7 L1060.1 1717.2 L1060.4 1714.5 L1060.7 1711.7 L1061 1708.9 L1061.3 1706 L1061.6 1703 L1061.9 1700 L1062.2 1697 L1062.5 1694 L1062.8 1691 L1063.1 1688 L1063.4 1685 L1063.7 1682.1 L1064 1679.2 L1064.3 1676.4 L1064.6 1673.7 L1064.9 1671.1 L1065.2 1668.6 L1065.4 1666.2 L1065.7 1664 L1066 1662 L1066.3 1660.1 L1066.6 1658.4 L1066.9 1656.9 L1067.2 1655.7 L1067.5 1654.6 L1067.8 1653.8 L1068.1 1653.3 L1068.4 1653 L1069.3 1652.7 L1070.2 1652.4 L1071.2 1652.3 L1072.1 1652.1 L1073 1652 L1074 1651.8 L1074.9 1651.6 L1075.8 1651.2 L1076.2 1650.7 L1076.7 1649.5 L1077.1 1647.9 L1077.6 1645.8 L1078 1643.3 L1078.4 1640.6 L1078.9 1637.6 L1079.3 1634.6 L1079.8 1631.5 L1080.2 1628.5 L1080.7 1625.6 L1081.1 1623 L1081.5 1620.6 L1082 1618.6 L1082.4 1617.1 L1082.9 1616.1 L1083.3 1615.8 L1084.2 1617.2 L1085.2 1620.4 L1086.1 1623.6 L1087 1625 L1087.5 1624.5 L1088 1623.1 L1088.5 1620.9 L1089 1618.3 L1089.5 1615.4 L1090.1 1612.4 L1090.6 1609.5 L1091.1 1606.9 L1091.6 1604.7 L1092.1 1603.3 L1092.6 1602.8 L1093 1603.1 L1093.4 1604 L1093.8 1605.4 L1094.2 1607.3 L1094.5 1609.5 L1094.9 1612 L1095.3 1614.8 L1095.7 1617.8 L1096.1 1620.8 L1096.5 1623.9 L1096.9 1626.9 L1097.3 1629.9 L1097.7 1632.7 L1098.1 1635.2 L1098.4 1637.4 L1098.8 1639.3 L1099.2 1640.7 L1099.6 1641.6 L1100 1641.9 L1100.7 1641.7 L1101.3 1641 L1102 1639.9 L1102.7 1638.4 L1103.3 1636.7 L1104 1634.6 L1104.7 1632.3 L1105.3 1629.7 L1106 1627 L1106.7 1624.2 L1107.3 1621.3 L1108 1618.3 L1108.7 1615.2 L1109.4 1612.2 L1110 1609.3 L1110.7 1606.5 L1111.4 1603.8 L1112 1601.2 L1112.7 1598.9 L1113.4 1596.8 L1114 1595.1 L1114.7 1593.6 L1115.4 1592.5 L1116 1591.8 L1116.7 1591.6 L1117.6 1592 L1118.6 1593.1 L1119.5 1594.9 L1120.4 1597.1 L1121.4 1599.7 L1122.3 1602.6 L1123.2 1605.5 L1124.2 1608.5 L1125.1 1611.4 L1126.1 1614 L1127 1616.2 L1127.9 1618 L1128.9 1619.1 L1129.8 1619.5 L1130.5 1619.2 L1131.2 1618.2 L1131.9 1616.7 L1132.6 1614.8 L1133.3 1612.6 L1134 1610.1 L1134.8 1607.4 L1135.5 1604.7 L1136.2 1602.1 L1136.9 1599.5 L1137.6 1597.2 L1138.3 1595.1 L1139 1593.5 L1139.9 1591.6 L1140.9 1589.7 L1141.8 1587.8 L1142.7 1585.9 L1143.7 1584 L1144.6 1582.3 L1145.5 1580.8 L1146.5 1579.4 L1147.4 1578.3 L1148.3 1577.4 L1149.3 1576.9 L1150.2 1576.7 L1151.2 1577.2 L1152.1 1578.7 L1153.1 1581 L1154.1 1583.7 L1155 1586.8 L1156 1590 L1156.3 1591.3 L1156.7 1592.8 L1157 1594.7 L1157.3 1596.8 L1157.7 1599.1 L1158 1601.6 L1158.3 1604.2 L1158.7 1606.9 L1159 1609.6 L1159.3 1612.4 L1159.7 1615.2 L1160 1617.9 L1160.3 1620.6 L1160.6 1623.1 L1161 1625.4 L1161.3 1627.6 L1161.6 1629.5 L1162 1631.2 L1162.3 1632.5 L1162.6 1633.5 L1163 1634.2 L1163.3 1634.4 L1163.8 1633.8 L1164.4 1632.3 L1165 1630 L1165.5 1627.2 L1166 1624.2 L1166.6 1621.2 L1167.1 1618.4 L1167.7 1616.1 L1168.2 1614.6 L1168.8 1614 L1169.8 1614.8 L1170.7 1616.8 L1171.6 1619.2 L1172.6 1621.4" fill="none" stroke="#1d5bc4" stroke-width="3.4" stroke-linejoin="round" stroke-linecap="round"/>
<line x1="407" y1="1188.8" x2="407" y2="1677" stroke="#8a8a8a" stroke-width="3.4" stroke-dasharray="20 19.5"/>
<line x1="516.3" y1="1182" x2="516.3" y2="1650" stroke="#2a92e6" stroke-width="4" stroke-dasharray="8 10.4"/>
<line x1="539.5" y1="1182" x2="539.5" y2="1650" stroke="#2a92e6" stroke-width="4" stroke-dasharray="8 10.4"/>
<line x1="870" y1="1188.8" x2="870" y2="1603" stroke="#e8a620" stroke-width="3.4" stroke-dasharray="14 5 4 5"/>
<line x1="898.6" y1="1187.7" x2="898.6" y2="1762" stroke="#c0142a" stroke-width="5" stroke-dasharray="21 18.5"/>
<line x1="924.7" y1="1188" x2="924.7" y2="1700" stroke="#f2a6d6" stroke-width="3" stroke-dasharray="14 5 4 5"/>
<line x1="1056.3" y1="1240" x2="1056.3" y2="1753" stroke="#a08a38" stroke-width="4.4" stroke-dasharray="10 7.3"/>
<line x1="210.5" y1="1025.8" x2="295.3" y2="1025.8" stroke="#1d5bc4" stroke-width="3.6"/>
<text x="304.7" y="1038.6" font-size="36.6" fill="#1a1a1a" stroke="#1a1a1a" stroke-width="0.7">Pebax<tspan fill="#777" font-weight="bold">&#174;</tspan>1657</text>
<line x1="210.5" y1="1071.1" x2="295.3" y2="1071.1" stroke="#379a66" stroke-width="3.6"/>
<text x="304.7" y="1083.9" font-size="36.6" fill="#1a1a1a" stroke="#1a1a1a" stroke-width="0.7">Pebax<tspan fill="#777" font-weight="bold">&#174;</tspan>1657-MOF-74(Ni)-10%</text>
<line x1="210.5" y1="1116.5" x2="295.3" y2="1116.5" stroke="#9a66c4" stroke-width="3.6"/>
<text x="304.7" y="1129.3" font-size="36.6" fill="#1a1a1a" stroke="#1a1a1a" stroke-width="0.7">Pebax<tspan fill="#777" font-weight="bold">&#174;</tspan>1657-MOF-74(Ni)@GO-2-10%</text>
<text x="384.9" y="1169.6" font-size="30.5" fill="#6e6e6e" textLength="51" lengthAdjust="spacingAndGlyphs" stroke="#6e6e6e" stroke-width="0.5">N-H</text>
<text x="503.5" y="1171" font-size="30.5" fill="#2a8ee0" textLength="52.3" lengthAdjust="spacingAndGlyphs" stroke="#2a8ee0" stroke-width="0.5">C-H</text>
<text x="929.4" y="1193.5" font-size="27" fill="#f4a8d8" textLength="49" lengthAdjust="spacingAndGlyphs">N-H</text>
<text x="1023" y="1227.5" font-size="33" fill="#9c852e" textLength="83.7" lengthAdjust="spacingAndGlyphs" stroke="#9c852e" stroke-width="0.5">C-O-C</text>
<text x="912.5" y="1180.2" font-size="33" fill="#c8202e" transform="rotate(-90 912.5 1180.2)" textLength="116.7" lengthAdjust="spacingAndGlyphs" stroke="#c8202e" stroke-width="0.6">H-N-C=O</text>
<text x="881" y="1701" font-size="33" fill="#e6a22a" transform="rotate(-90 881 1701)" textLength="90.6" lengthAdjust="spacingAndGlyphs" stroke="#e6a22a" stroke-width="0.6">O-C=O</text>
<rect x="203.5" y="996" width="970.8" height="782.5" fill="none" stroke="#333333" stroke-width="4.0"/>
<line x1="1159.6" y1="1778.5" x2="1159.6" y2="1786" stroke="#333333" stroke-width="3.0"/>
<line x1="1086" y1="1778.5" x2="1086" y2="1793" stroke="#333333" stroke-width="3.0"/>
<line x1="1012.5" y1="1778.5" x2="1012.5" y2="1786" stroke="#333333" stroke-width="3.0"/>
<line x1="939" y1="1778.5" x2="939" y2="1793" stroke="#333333" stroke-width="3.0"/>
<line x1="865.4" y1="1778.5" x2="865.4" y2="1786" stroke="#333333" stroke-width="3.0"/>
<line x1="791.9" y1="1778.5" x2="791.9" y2="1793" stroke="#333333" stroke-width="3.0"/>
<line x1="718.3" y1="1778.5" x2="718.3" y2="1786" stroke="#333333" stroke-width="3.0"/>
<line x1="644.8" y1="1778.5" x2="644.8" y2="1793" stroke="#333333" stroke-width="3.0"/>
<line x1="571.2" y1="1778.5" x2="571.2" y2="1786" stroke="#333333" stroke-width="3.0"/>
<line x1="497.7" y1="1778.5" x2="497.7" y2="1793" stroke="#333333" stroke-width="3.0"/>
<line x1="424.1" y1="1778.5" x2="424.1" y2="1786" stroke="#333333" stroke-width="3.0"/>
<line x1="350.6" y1="1778.5" x2="350.6" y2="1793" stroke="#333333" stroke-width="3.0"/>
<line x1="277" y1="1778.5" x2="277" y2="1786" stroke="#333333" stroke-width="3.0"/>
<line x1="203.5" y1="1778.5" x2="203.5" y2="1793" stroke="#333333" stroke-width="3.0"/>
<text x="1086" y="1833.5" font-size="38" fill="#262626" text-anchor="middle">1000</text>
<text x="939" y="1833.5" font-size="38" fill="#262626" text-anchor="middle">1500</text>
<text x="791.9" y="1833.5" font-size="38" fill="#262626" text-anchor="middle">2000</text>
<text x="644.8" y="1833.5" font-size="38" fill="#262626" text-anchor="middle">2500</text>
<text x="497.7" y="1833.5" font-size="38" fill="#262626" text-anchor="middle">3000</text>
<text x="350.6" y="1833.5" font-size="38" fill="#262626" text-anchor="middle">3500</text>
<text x="203.5" y="1833.5" font-size="38" fill="#262626" text-anchor="middle">4000</text>
<text x="475.1" y="1890.7" font-size="44" fill="#222" textLength="300.3" lengthAdjust="spacingAndGlyphs">Wavenumber/cm</text>
<text x="776" y="1872" font-size="27" fill="#222">-1</text>
<text x="175" y="1388.8" font-size="44.4" fill="#222" text-anchor="middle" transform="rotate(-90 175 1388.8)" textLength="327.8" lengthAdjust="spacingAndGlyphs">Transmittance/a.u.</text>
<text x="33.9" y="1041.7" font-size="79.5" fill="#111">(c)</text>
<path d="M1409 1079 L1410 1079.2 L1411 1079.5 L1412 1079.7 L1413 1079.9 L1414 1080.1 L1415 1080.3 L1416 1080.5 L1417 1080.7 L1418 1080.9 L1419 1081.1 L1420 1081.3 L1421 1081.5 L1422 1081.8 L1423 1082 L1424 1082.2 L1425 1082.4 L1426 1082.6 L1427 1082.9 L1428 1083.1 L1429 1083.4 L1430 1083.6 L1431 1083.9 L1432 1084.2 L1433 1084.5 L1434 1084.9 L1435 1085.2 L1436 1085.6 L1437 1086 L1438 1086.4 L1439 1087 L1440 1087.6 L1441 1088.2 L1442 1089 L1443 1089.7 L1444 1090.6 L1445 1091.4 L1446 1092.4 L1447 1093.3 L1448 1094.3 L1449 1095.3 L1450 1096.4 L1451 1097.4 L1452 1098.5 L1453 1099.5 L1454 1100.6 L1455 1101.7 L1456 1102.7 L1457 1103.8 L1458 1104.9 L1459 1106 L1460 1107.2 L1461 1108.4 L1462 1109.6 L1463 1110.9 L1464 1112.2 L1465 1113.5 L1466 1114.8 L1467 1116.1 L1468 1117.5 L1469 1118.8 L1470 1120.1 L1471 1121.4 L1472 1122.7 L1473 1124 L1474 1125.3 L1475 1126.6 L1476 1127.9 L1477 1129.2 L1478 1130.5 L1479 1131.8 L1480 1133.2 L1481 1134.5 L1482 1135.9 L1483 1137.2 L1484 1138.5 L1485 1139.9 L1486 1141.2 L1487 1142.5 L1488 1143.9 L1489 1145.2 L1490 1146.5 L1491 1147.7 L1492 1149 L1493 1150.2 L1494 1151.5 L1495 1152.7 L1496 1153.8 L1497 1155 L1498 1156.1 L1499 1157.3 L1500 1158.4 L1501 1159.5 L1502 1160.7 L1503 1161.8 L1504 1162.9 L1505 1164 L1506 1165.1 L1507 1166.1 L1508 1167.2 L1509 1168.2 L1510 1169.3 L1511 1170.3 L1512 1171.3 L1513 1172.3 L1514 1173.2 L1515 1174.2 L1516 1175.1 L1517 1176 L1518 1176.9 L1519 1177.8 L1520 1178.6 L1521 1179.4 L1522 1180.2 L1523 1181 L1524 1181.9 L1525 1182.7 L1526 1183.4 L1527 1184.2 L1528 1185 L1529 1185.8 L1530 1186.5 L1531 1187.2 L1532 1188 L1533 1188.7 L1534 1189.4 L1535 1190 L1536 1190.7 L1537 1191.3 L1538 1191.9 L1539 1192.5 L1540 1193 L1541 1193.6 L1542 1194.1 L1543 1194.6 L1544 1195 L1545 1195.4 L1546 1195.9 L1547 1196.3 L1548 1196.7 L1549 1197.1 L1550 1197.5 L1551 1197.9 L1552 1198.2 L1553 1198.6 L1554 1199 L1555 1199.3 L1556 1199.7 L1557 1200 L1558 1200.4 L1559 1200.7 L1560 1201 L1561 1201.4 L1562 1201.7 L1563 1202 L1564 1202.3 L1565 1202.6 L1566 1202.8 L1567 1203.1 L1568 1203.4 L1569 1203.6 L1570 1203.9 L1571 1204.1 L1572 1204.4 L1573 1204.6 L1574 1204.8 L1575 1205 L1576 1205.2 L1577 1205.4 L1578 1205.6 L1579 1205.8 L1580 1206 L1581 1206.2 L1582 1206.3 L1583 1206.5 L1584 1206.7 L1585 1206.8 L1586 1207 L1587 1207.1 L1588 1207.2 L1589 1207.4 L1590 1207.5 L1591 1207.6 L1592 1207.8 L1593 1207.9 L1594 1208 L1595 1208.1 L1596 1208.3 L1597 1208.4 L1598 1208.5 L1599 1208.6 L1600 1208.7 L1601 1208.8 L1602 1208.9 L1603 1209 L1604 1209.1 L1605 1209.2 L1606 1209.3 L1607 1209.4 L1608 1209.5 L1609 1209.6 L1610 1209.7 L1611 1209.8 L1612 1209.9 L1613 1210 L1614 1210.1 L1615 1210.2 L1616 1210.3 L1617 1210.4 L1618 1210.5 L1619 1210.6 L1620 1210.7 L1621 1210.8 L1622 1210.9 L1623 1211.1 L1624 1211.2 L1625 1211.3 L1626 1211.4 L1627 1211.5 L1628 1211.6 L1629 1211.7 L1630 1211.8 L1631 1211.9 L1631.9 1212.1 L1632.9 1212.2 L1633.9 1212.3 L1634.9 1212.4 L1635.9 1212.5 L1636.9 1212.6 L1637.9 1212.7 L1638.9 1212.8 L1639.9 1212.9 L1640.9 1213 L1641.8 1213.1 L1642.8 1213.2 L1643.8 1213.3 L1644.8 1213.4 L1645.8 1213.5 L1646.8 1213.6 L1647.8 1213.7 L1648.8 1213.8 L1649.8 1213.9 L1650.7 1214 L1651.7 1214.1 L1652.7 1214.2 L1653.7 1214.3 L1654.7 1214.4 L1655.7 1214.5 L1656.7 1214.7 L1657.7 1214.8 L1658.7 1214.9 L1659.6 1215 L1660.6 1215.1 L1661.6 1215.2 L1662.6 1215.3 L1663.6 1215.5 L1664.6 1215.6 L1665.6 1215.7 L1666.6 1215.8 L1667.6 1216 L1668.6 1216.1 L1669.5 1216.2 L1670.5 1216.4 L1671.5 1216.5 L1672.5 1216.7 L1673.5 1216.8 L1674.5 1217 L1675.5 1217.1 L1676.5 1217.3 L1677.5 1217.4 L1678.5 1217.6 L1679.5 1217.8 L1680.5 1218 L1681.5 1218.1 L1682.5 1218.3 L1683.5 1218.5 L1684.5 1218.7 L1685.5 1218.9 L1686.5 1219.1 L1687.5 1219.3 L1688.4 1219.5 L1689.4 1219.7 L1690.4 1219.9 L1691.4 1220.1 L1692.4 1220.4 L1693.4 1220.6 L1694.4 1220.8 L1695.4 1221 L1696.4 1221.3 L1697.4 1221.5 L1698.4 1221.7 L1699.4 1221.9 L1700.4 1222.2 L1701.4 1222.4 L1702.4 1222.6 L1703.4 1222.9 L1704.4 1223.1 L1705.4 1223.3 L1706.4 1223.6 L1707.4 1223.8 L1708.4 1224 L1709.4 1224.3 L1710.4 1224.5 L1711.4 1224.7 L1712.4 1225 L1713.4 1225.2 L1714.4 1225.5 L1715.3 1225.7 L1716.3 1226 L1717.3 1226.3 L1718.3 1226.6 L1719.3 1226.8 L1720.3 1227.1 L1721.3 1227.4 L1722.3 1227.7 L1723.3 1228.1 L1724.3 1228.4 L1725.3 1228.7 L1726.3 1229.1 L1727.3 1229.4 L1728.3 1229.8 L1729.3 1230.2 L1730.3 1230.6 L1731.3 1231 L1732.2 1231.5 L1733.2 1232 L1734.2 1232.5 L1735.2 1233.1 L1736.2 1233.7 L1737.2 1234.3 L1738.1 1234.9 L1739.1 1235.5 L1740.1 1236.2 L1741.1 1236.9 L1742.1 1237.5 L1743.1 1238.2 L1744 1238.9 L1745 1239.6 L1746 1240.3 L1747 1241 L1748 1241.8 L1749 1242.5 L1750 1243.3 L1750.9 1244.1 L1751.9 1245 L1752.9 1245.8 L1753.9 1246.7 L1754.9 1247.6 L1755.9 1248.5 L1756.9 1249.4 L1757.9 1250.3 L1758.8 1251.2 L1759.8 1252.1 L1760.8 1253 L1761.8 1253.9 L1762.8 1254.8 L1763.8 1255.7 L1764.7 1256.6 L1765.7 1257.5 L1766.7 1258.4 L1767.6 1259.3 L1768.6 1260.2 L1769.6 1261.2 L1770.6 1262.1 L1771.5 1263 L1772.5 1264 L1773.5 1264.9 L1774.4 1265.9 L1775.4 1266.8 L1776.4 1267.8 L1777.3 1268.7 L1778.3 1269.6 L1779.3 1270.6 L1780.3 1271.5 L1781.2 1272.4 L1782.2 1273.3 L1783.2 1274.2 L1784.1 1275.1 L1785.1 1276 L1786.1 1276.9 L1787 1277.7 L1788 1278.6 L1789 1279.5 L1789.9 1280.3 L1790.9 1281.2 L1791.9 1282.1 L1792.9 1282.9 L1793.8 1283.8 L1794.8 1284.6 L1795.8 1285.5 L1796.7 1286.3 L1797.7 1287.1 L1798.7 1287.9 L1799.6 1288.8 L1800.6 1289.6 L1801.6 1290.4 L1802.6 1291.2 L1803.5 1291.9 L1804.5 1292.7 L1805.5 1293.5 L1806.4 1294.3 L1807.4 1295 L1808.4 1295.7 L1809.3 1296.5 L1810.3 1297.2 L1811.3 1297.9 L1812.3 1298.6 L1813.2 1299.3 L1814.2 1299.9 L1815.2 1300.6 L1816.2 1301.3 L1817.1 1301.9 L1818.1 1302.6 L1819.1 1303.2 L1820.1 1303.9 L1821 1304.6 L1822 1305.2 L1823 1305.9 L1824 1306.5 L1824.9 1307.2 L1825.9 1307.9 L1826.9 1308.5 L1827.9 1309.2 L1828.8 1309.9 L1829.8 1310.6 L1830.8 1311.3 L1831.7 1312 L1832.7 1312.7 L1833.7 1313.4 L1834.6 1314.2 L1835.6 1314.9 L1836.6 1315.6 L1837.6 1316.3 L1838.5 1317.1 L1839.5 1317.8 L1840.5 1318.5 L1841.4 1319.3 L1842.4 1320 L1843.4 1320.8 L1844.3 1321.5 L1845.3 1322.2 L1846.3 1323 L1847.3 1323.7 L1848.2 1324.5 L1849.2 1325.2 L1850.2 1325.9 L1851.1 1326.7 L1852.1 1327.4 L1853.1 1328.2 L1854.1 1328.9 L1855.1 1329.6 L1856.1 1330.4 L1857.1 1331.1 L1858.1 1331.8 L1859.1 1332.6 L1860.1 1333.3 L1861.1 1334 L1862.1 1334.8 L1863.1 1335.5 L1864.1 1336.2 L1865.1 1336.9 L1866 1337.7 L1867 1338.4 L1868 1339.2 L1869 1339.9 L1870 1340.7 L1871 1341.4 L1872 1342.2 L1873 1342.9 L1874 1343.7 L1875 1344.5 L1876 1345.3 L1877 1346.1 L1878 1346.9 L1879 1347.8 L1880 1348.6 L1881 1349.5 L1882 1350.3 L1883 1351.2 L1884 1352.1 L1885 1353 L1886 1353.9 L1887 1354.8 L1888 1355.7 L1889 1356.7 L1890 1357.6 L1891 1358.6 L1892 1359.5 L1893 1360.5 L1894 1361.5 L1895 1362.5 L1896 1363.4 L1897 1364.4 L1898 1365.4 L1899 1366.4 L1900 1367.4 L1901 1368.5 L1902 1369.5 L1903 1370.5 L1904 1371.5 L1905 1372.5 L1906 1373.5 L1907 1374.6 L1908 1375.6 L1909 1376.6 L1910 1377.6 L1910.9 1378.6 L1911.9 1379.7 L1912.9 1380.7 L1913.8 1381.7 L1914.8 1382.8 L1915.8 1383.9 L1916.8 1384.9 L1917.8 1386 L1918.7 1387 L1919.7 1388.1 L1920.7 1389.2 L1921.7 1390.3 L1922.6 1391.4 L1923.6 1392.5 L1924.6 1393.5 L1925.6 1394.6 L1926.5 1395.7 L1927.5 1396.8 L1928.5 1397.9 L1929.5 1399 L1930.4 1400.1 L1931.4 1401.2 L1932.4 1402.3 L1933.3 1403.4 L1934.3 1404.5 L1935.3 1405.6 L1936.3 1406.7 L1937.2 1407.8 L1938.2 1409 L1939.2 1410.1 L1940.1 1411.2 L1941.1 1412.3 L1942.1 1413.5 L1943.1 1414.6 L1944 1415.7 L1945 1416.9 L1946 1418 L1946.9 1419.1 L1947.9 1420.3 L1948.9 1421.4 L1949.8 1422.5 L1950.8 1423.6 L1951.8 1424.7 L1952.8 1425.8 L1953.7 1426.9 L1954.7 1428 L1955.7 1429.1 L1956.6 1430.2 L1957.6 1431.3 L1958.6 1432.4 L1959.5 1433.5 L1960.5 1434.6 L1961.5 1435.7 L1962.4 1436.8 L1963.4 1437.8 L1964.4 1438.8 L1965.3 1439.8 L1966.3 1440.7 L1967.3 1441.6 L1968.3 1442.6 L1969.3 1443.5 L1970.3 1444.4 L1971.3 1445.2 L1972.3 1445.9 L1973.3 1446.5 L1974.2 1447 L1975.2 1447.5 L1976.1 1447.9 L1977.1 1448.3 L1978 1448.7 L1979 1449.1 L1979.9 1449.5 L1980.9 1449.8 L1981.8 1450.1 L1982.8 1450.4 L1983.7 1450.6 L1984.7 1450.8 L1985.6 1451.1 L1986.6 1451.3 L1987.5 1451.5 L1988.5 1451.6 L1989.5 1451.8 L1990.4 1452 L1991.4 1452.2 L1992.3 1452.3 L1993.3 1452.5 L1994.2 1452.6 L1995.2 1452.8 L1996.2 1452.9 L1997.1 1453.1 L1998.1 1453.2 L1999 1453.3 L2000 1453.5 L2001 1453.7 L2002 1453.8 L2002.9 1454 L2003.9 1454.1 L2004.9 1454.2 L2005.9 1454.4 L2006.8 1454.5 L2007.8 1454.7 L2008.8 1454.8 L2009.8 1454.9 L2010.7 1455.1 L2011.7 1455.2 L2012.7 1455.3 L2013.7 1455.5 L2014.6 1455.6 L2015.6 1455.7 L2016.6 1455.9 L2017.6 1456 L2018.5 1456.2 L2019.5 1456.3 L2020.5 1456.4 L2021.5 1456.6 L2022.4 1456.7 L2023.4 1456.9 L2024.4 1457 L2025.4 1457.2 L2026.4 1457.3 L2027.4 1457.5 L2028.4 1457.6 L2029.4 1457.8 L2030.3 1457.9 L2031.3 1458.1 L2032.3 1458.3 L2033.3 1458.4 L2034.3 1458.6 L2035.3 1458.8 L2036.3 1458.9 L2037.3 1459.1 L2038.3 1459.3 L2039.3 1459.4 L2040.3 1459.6 L2041.2 1459.8 L2042.2 1459.9 L2043.2 1460.1 L2044.2 1460.3 L2045.2 1460.5 L2046.2 1460.6 L2047.2 1460.8 L2048.2 1461 L2049.2 1461.1 L2050.2 1461.3 L2051.2 1461.5 L2052.1 1461.6 L2053.1 1461.8 L2054.1 1462 L2055.1 1462.1 L2056.1 1462.3 L2057.1 1462.4 L2058.1 1462.6 L2059.1 1462.7 L2060.1 1462.9 L2061.1 1463 L2062.1 1463.2 L2063 1463.3 L2064 1463.5 L2065 1463.6 L2066 1463.7 L2067 1463.9 L2068 1464 L2069 1464.1 L2070 1464.2 L2071 1464.4 L2072 1464.5 L2073 1464.6 L2074 1464.7 L2075 1464.8 L2076 1464.9 L2077 1465 L2078 1465.1 L2079 1465.2 L2080 1465.3 L2081 1465.4 L2082 1465.5 L2083 1465.6 L2084 1465.7 L2085 1465.8 L2086 1465.9 L2087 1466 L2088 1466.1 L2089 1466.2 L2090 1466.3 L2091 1466.4 L2092 1466.5 L2093 1466.6 L2094 1466.7 L2095 1466.8 L2096 1467 L2097 1467.1 L2098 1467.2 L2099 1467.3 L2100 1467.4 L2101 1467.5 L2102 1467.6 L2103 1467.8 L2104 1467.9 L2105 1468 L2106 1468.1 L2107 1468.3 L2108 1468.4 L2109 1468.5 L2110 1468.7 L2111 1468.8 L2112 1468.9 L2113 1469.1 L2114 1469.2 L2115 1469.3 L2116 1469.5 L2117 1469.6 L2118 1469.8 L2119 1469.9 L2120 1470.1 L2121 1470.2 L2122 1470.3 L2123 1470.5 L2124 1470.6 L2125 1470.8 L2126 1470.9 L2127 1471.1 L2128 1471.2 L2129 1471.4 L2130 1471.5 L2131 1471.7 L2132 1471.8 L2133 1472 L2134 1472.1 L2135 1472.3 L2136 1472.5 L2137 1472.6 L2138 1472.8 L2139 1472.9 L2140 1473.1 L2141 1473.2 L2142 1473.4 L2143 1473.5 L2144 1473.7 L2145 1473.8 L2146 1474 L2147 1474.1 L2148 1474.3 L2149 1474.5 L2150 1474.6 L2151 1474.8 L2152 1474.9 L2153 1475.1 L2154 1475.2 L2155 1475.4 L2156 1475.5 L2157 1475.7 L2158 1475.8 L2159 1475.9 L2160 1476.1 L2161 1476.2 L2162 1476.4 L2163 1476.5 L2164 1476.7 L2165 1476.8 L2166 1476.9 L2167 1477.1 L2168 1477.2 L2169 1477.4 L2170 1477.5 L2171 1477.6 L2172 1477.7 L2173 1477.9 L2174 1478 L2175 1478.1 L2176 1478.3 L2177 1478.4 L2178 1478.5 L2179 1478.6 L2180 1478.7 L2181 1478.9 L2182 1479 L2183 1479.1 L2184 1479.2 L2185 1479.3 L2186 1479.4 L2187 1479.5 L2188 1479.6 L2189 1479.7 L2190 1479.8 L2191 1479.9 L2192 1480 L2193 1480.1 L2194 1480.2 L2195 1480.3 L2196 1480.4 L2197 1480.4 L2198 1480.5 L2199 1480.6 L2200 1480.7 L2201 1480.8 L2202 1480.9 L2203 1481 L2204 1481 L2205 1481.1 L2206 1481.2 L2207 1481.3 L2208 1481.4 L2209 1481.5 L2210 1481.5 L2211 1481.6 L2212 1481.7 L2213 1481.8 L2214 1481.8 L2215 1481.9 L2216 1482 L2217 1482.1 L2218 1482.2 L2219 1482.2 L2220 1482.3 L2221 1482.4 L2222 1482.4 L2223 1482.5 L2224 1482.6 L2225 1482.7 L2226 1482.7 L2227 1482.8 L2228 1482.9 L2229 1482.9 L2230 1483 L2231 1483.1 L2232 1483.2 L2233 1483.2 L2234 1483.3 L2235 1483.4 L2236 1483.4 L2237 1483.5 L2238 1483.6 L2239 1483.6 L2240 1483.7 L2241 1483.8 L2242 1483.8 L2243 1483.9 L2244 1483.9 L2245 1484 L2246 1484.1 L2247 1484.1 L2248 1484.2 L2249 1484.3 L2250 1484.3 L2251 1484.4 L2252 1484.4 L2253 1484.5 L2254 1484.6 L2255 1484.6 L2256 1484.7 L2257 1484.8 L2258 1484.8 L2259 1484.9 L2260 1484.9 L2261 1485 L2262 1485.1 L2263 1485.1 L2264 1485.2 L2265 1485.2 L2266 1485.3 L2267 1485.4 L2268 1485.4 L2269 1485.5 L2270 1485.5 L2271 1485.6 L2272 1485.6 L2273 1485.7 L2274 1485.8 L2275 1485.8 L2276 1485.9 L2277 1485.9 L2278 1486 L2279 1486.1 L2280 1486.1 L2281 1486.2 L2282 1486.2 L2283 1486.3 L2284 1486.4 L2285 1486.4 L2286 1486.5 L2287 1486.5 L2288 1486.6 L2289 1486.6 L2290 1486.7 L2291 1486.8 L2292 1486.8 L2293 1486.9 L2294 1486.9 L2295 1487 L2296 1487.1 L2297 1487.1 L2298 1487.2 L2299 1487.2 L2300 1487.3 L2301 1487.4 L2302 1487.4 L2303 1487.5 L2304 1487.5 L2305 1487.6 L2306 1487.7 L2307 1487.7 L2308 1487.8 L2309 1487.9 L2310 1487.9 L2311 1488 L2312 1488 L2313 1488.1 L2314 1488.2 L2315 1488.2 L2316 1488.3 L2317 1488.4 L2318 1488.4 L2319 1488.5 L2320 1488.6 L2321 1488.6 L2322 1488.7" fill="none" stroke="#141414" stroke-width="3.4" stroke-linejoin="round" stroke-linecap="round"/>
<path d="M1409 1079 L1413.3 1079.4 L1417.5 1079.8 L1421.7 1080.3 L1425.9 1080.7 L1430.1 1081.1 L1434.3 1081.6 L1438.6 1082 L1442.9 1082.4 L1447.2 1082.8 L1451.7 1083.1 L1456.3 1083.4 L1461 1083.7 L1467 1084 L1473.2 1084.2 L1479.5 1084.3 L1486 1084.4 L1492.5 1084.4 L1499.2 1084.5 L1506 1084.5 L1512.8 1084.5 L1519.6 1084.5 L1526.4 1084.5 L1533.2 1084.5 L1540 1084.5 L1547.1 1084.5 L1554.2 1084.6 L1561.4 1084.6 L1568.5 1084.6 L1575.8 1084.7 L1583 1084.7 L1590.3 1084.7 L1597.6 1084.7 L1604.9 1084.8 L1612.2 1084.8 L1619.6 1084.8 L1627 1084.9 L1634.9 1085 L1643.1 1085 L1651.5 1085 L1660.1 1085 L1668.6 1085.1 L1677.1 1085.1 L1685.5 1085.2 L1693.6 1085.3 L1701.4 1085.4 L1708.8 1085.6 L1715.7 1085.8 L1722 1086.1 L1725.6 1086.3 L1728.9 1086.5 L1732.1 1086.7 L1735.2 1086.9 L1738.1 1087.1 L1740.9 1087.3 L1743.7 1087.5 L1746.4 1087.8 L1749.2 1088.2 L1751.9 1088.6 L1754.7 1089.1 L1757.6 1089.6 L1760.6 1090.2 L1763.7 1090.9 L1766.8 1091.6 L1770 1092.4 L1773.1 1093.3 L1776.2 1094.2 L1779.3 1095.1 L1782.3 1096.1 L1785.2 1097.1 L1788 1098.1 L1790.7 1099.2 L1793.2 1100.3 L1795.1 1101.2 L1796.9 1102 L1798.7 1102.8 L1800.4 1103.7 L1802 1104.6 L1803.7 1105.5 L1805.2 1106.4 L1806.7 1107.4 L1808.2 1108.5 L1809.6 1109.6 L1810.9 1110.9 L1812.2 1112.2 L1813.5 1113.8 L1814.7 1115.5 L1815.8 1117.3 L1816.9 1119.3 L1817.9 1121.3 L1818.8 1123.3 L1819.7 1125.4 L1820.6 1127.6 L1821.4 1129.7 L1822.3 1131.8 L1823.1 1133.9 L1824 1135.9 L1824.9 1137.8 L1825.7 1139.8 L1826.6 1141.7 L1827.4 1143.6 L1828.2 1145.5 L1829 1147.4 L1829.7 1149.3 L1830.5 1151.3 L1831.3 1153.3 L1832 1155.3 L1832.8 1157.4 L1833.5 1159.6 L1834.4 1162.3 L1835.2 1165 L1836.1 1167.8 L1836.9 1170.6 L1837.7 1173.5 L1838.5 1176.4 L1839.3 1179.4 L1840 1182.5 L1840.8 1185.6 L1841.5 1188.7 L1842.3 1191.9 L1843 1195.2 L1843.9 1199.3 L1844.7 1203.5 L1845.6 1207.7 L1846.4 1212.1 L1847.2 1216.5 L1848 1221 L1848.8 1225.6 L1849.5 1230.3 L1850.3 1235 L1851 1239.9 L1851.8 1244.8 L1852.5 1249.8 L1853.4 1256.1 L1854.2 1262.6 L1855.1 1269.3 L1855.9 1276.1 L1856.7 1283 L1857.5 1290.1 L1858.3 1297.2 L1859 1304.3 L1859.8 1311.5 L1860.5 1318.6 L1861.3 1325.8 L1862 1332.8 L1862.7 1340 L1863.5 1347.2 L1864.2 1354.5 L1864.9 1361.8 L1865.6 1369.2 L1866.3 1376.5 L1867 1383.8 L1867.7 1391.1 L1868.4 1398.4 L1869 1405.7 L1869.7 1412.9 L1870.3 1420 L1870.9 1426.8 L1871.5 1433.6 L1872 1440.3 L1872.6 1447.1 L1873.1 1453.8 L1873.7 1460.4 L1874.2 1467.1 L1874.7 1473.7 L1875.3 1480.3 L1875.8 1486.9 L1876.4 1493.5 L1877 1500 L1877.6 1506.2 L1878.2 1512.4 L1878.8 1518.5 L1879.4 1524.6 L1880 1530.7 L1880.6 1536.7 L1881.3 1542.8 L1881.9 1548.8 L1882.5 1554.9 L1883.2 1560.9 L1883.8 1566.9 L1884.4 1573 L1885 1579.1 L1885.6 1585.2 L1886.2 1591.3 L1886.8 1597.5 L1887.4 1603.6 L1888 1609.8 L1888.6 1615.9 L1889.2 1621.9 L1889.8 1627.9 L1890.5 1633.7 L1891.1 1639.4 L1891.8 1645 L1892.4 1649.7 L1892.9 1654.4 L1893.4 1659 L1893.9 1663.6 L1894.5 1668.2 L1895 1672.7 L1895.6 1677.1 L1896.2 1681.3 L1896.9 1685.5 L1897.6 1689.4 L1898.4 1693.2 L1899.3 1696.8 L1900 1699.2 L1900.6 1701.6 L1901.2 1703.9 L1901.9 1706.1 L1902.6 1708.3 L1903.3 1710.3 L1904.1 1712.3 L1904.9 1714.3 L1905.8 1716.2 L1906.8 1718 L1908 1719.8 L1909.2 1721.6 L1910.6 1723.4 L1912.1 1725.1 L1913.7 1726.8 L1915.4 1728.4 L1917.2 1730 L1919 1731.5 L1920.9 1733 L1922.9 1734.3 L1925 1735.6 L1927.1 1736.8 L1929.3 1737.9 L1931.5 1738.9 L1934.1 1739.9 L1936.7 1740.7 L1939.4 1741.3 L1942.1 1741.9 L1944.9 1742.3 L1947.8 1742.6 L1950.9 1742.8 L1954.1 1743 L1957.4 1743.2 L1960.9 1743.4 L1964.7 1743.6 L1968.6 1743.9 L1976.6 1744.4 L1985.4 1744.8 L1995 1745 L2005.2 1745.2 L2015.9 1745.3 L2027.1 1745.4 L2038.7 1745.4 L2050.7 1745.4 L2062.9 1745.4 L2075.2 1745.4 L2087.6 1745.4 L2100 1745.5 L2116.5 1745.6 L2133.6 1745.7 L2151.4 1745.8 L2169.6 1745.9 L2188.3 1745.9 L2207.2 1746 L2226.4 1746 L2245.6 1746.1 L2264.9 1746.1 L2284 1746.2 L2303 1746.2 L2321.6 1746.3" fill="none" stroke="#d8383f" stroke-width="3.4" stroke-linejoin="round" stroke-linecap="round"/>
<path d="M1409 1079 L1412.3 1079.6 L1415.7 1080.1 L1419 1080.7 L1422.3 1081.3 L1425.6 1081.8 L1429 1082.4 L1432.3 1083 L1435.6 1083.5 L1439 1084.1 L1442.4 1084.7 L1445.8 1085.4 L1449.3 1086 L1453.1 1086.7 L1456.9 1087.6 L1460.8 1088.4 L1464.6 1089.3 L1468.5 1090.2 L1472.4 1091.1 L1476.4 1091.9 L1480.3 1092.8 L1484.4 1093.6 L1488.4 1094.3 L1492.5 1095 L1496.7 1095.6 L1501.4 1096.2 L1506.1 1096.6 L1510.9 1097 L1515.7 1097.3 L1520.6 1097.6 L1525.6 1097.9 L1530.5 1098.1 L1535.6 1098.3 L1540.6 1098.4 L1545.7 1098.6 L1550.8 1098.9 L1556 1099.1 L1561.7 1099.4 L1567.5 1099.7 L1573.3 1099.9 L1579.3 1100.2 L1585.2 1100.5 L1591.2 1100.7 L1597.2 1101 L1603.2 1101.2 L1609.2 1101.5 L1615.3 1101.7 L1621.2 1102 L1627.2 1102.2 L1633.2 1102.4 L1639.2 1102.6 L1645.3 1102.8 L1651.4 1103 L1657.6 1103.2 L1663.7 1103.4 L1669.7 1103.6 L1675.7 1103.8 L1681.5 1104.1 L1687.3 1104.3 L1692.9 1104.6 L1698.3 1105 L1702.6 1105.3 L1706.8 1105.6 L1710.9 1106 L1715 1106.3 L1718.9 1106.7 L1722.8 1107.1 L1726.7 1107.5 L1730.5 1107.9 L1734.3 1108.3 L1738.2 1108.8 L1742 1109.3 L1745.8 1109.8 L1749.5 1110.3 L1753.2 1110.7 L1757 1111.2 L1760.7 1111.7 L1764.5 1112.2 L1768.2 1112.7 L1771.8 1113.2 L1775.4 1113.8 L1778.9 1114.5 L1782.2 1115.3 L1785.4 1116.1 L1788.5 1117 L1790.8 1117.8 L1793 1118.5 L1795.2 1119.4 L1797.3 1120.2 L1799.3 1121.1 L1801.3 1122 L1803.3 1123 L1805.2 1124 L1807 1125.1 L1808.8 1126.2 L1810.5 1127.5 L1812.2 1128.8 L1813.9 1130.2 L1815.5 1131.7 L1817 1133.3 L1818.5 1134.9 L1819.9 1136.6 L1821.3 1138.4 L1822.7 1140.2 L1824 1142.1 L1825.2 1144 L1826.5 1146 L1827.6 1148 L1828.8 1150.1 L1830.1 1152.5 L1831.3 1154.9 L1832.4 1157.4 L1833.4 1160 L1834.4 1162.6 L1835.4 1165.3 L1836.3 1168.1 L1837.2 1171 L1838.1 1173.9 L1839 1176.9 L1839.8 1180.1 L1840.7 1183.3 L1841.9 1188 L1843 1192.9 L1844.1 1198.1 L1845.1 1203.4 L1846.2 1208.9 L1847.1 1214.6 L1848.1 1220.3 L1849 1226.2 L1849.9 1232.1 L1850.8 1238 L1851.6 1243.9 L1852.5 1249.8 L1853.4 1256.4 L1854.3 1263.1 L1855.2 1269.8 L1856 1276.7 L1856.8 1283.6 L1857.6 1290.6 L1858.3 1297.6 L1859.1 1304.6 L1859.8 1311.7 L1860.5 1318.7 L1861.3 1325.8 L1862 1332.8 L1862.8 1340.1 L1863.5 1347.4 L1864.3 1354.9 L1865 1362.5 L1865.7 1370 L1866.4 1377.6 L1867.1 1385 L1867.8 1392.4 L1868.5 1399.6 L1869.1 1406.6 L1869.7 1413.5 L1870.3 1420 L1870.7 1424.9 L1871.1 1429.5 L1871.4 1434 L1871.8 1438.3 L1872.1 1442.5 L1872.4 1446.7 L1872.7 1450.9 L1873 1455.2 L1873.3 1459.6 L1873.7 1464.1 L1874.1 1468.9 L1874.5 1473.9 L1875.2 1481.2 L1875.9 1489 L1876.6 1497.1 L1877.5 1505.6 L1878.3 1514.3 L1879.2 1523 L1880.1 1531.8 L1881 1540.6 L1881.9 1549.2 L1882.7 1557.5 L1883.6 1565.5 L1884.4 1573 L1885 1578.7 L1885.6 1584.4 L1886.1 1590 L1886.6 1595.5 L1887.2 1600.9 L1887.7 1606.2 L1888.2 1611.3 L1888.8 1616.4 L1889.5 1621.2 L1890.2 1626 L1890.9 1630.5 L1891.8 1634.9 L1892.4 1638 L1893 1641.1 L1893.5 1644.1 L1894.1 1647.1 L1894.6 1649.9 L1895.3 1652.7 L1896 1655.4 L1896.8 1658 L1897.7 1660.4 L1898.8 1662.8 L1900.2 1665 L1901.7 1667 L1903.4 1668.9 L1905.4 1670.6 L1907.4 1672.1 L1909.7 1673.5 L1912 1674.8 L1914.5 1676 L1917.2 1677.1 L1919.9 1678.2 L1922.7 1679.2 L1925.5 1680.1 L1928.5 1681.1 L1931.5 1682 L1935.7 1683.2 L1940.2 1684.3 L1944.8 1685.2 L1949.5 1686 L1954.5 1686.8 L1959.6 1687.4 L1964.8 1688 L1970.3 1688.6 L1975.8 1689.1 L1981.6 1689.6 L1987.4 1690.1 L1993.4 1690.6 L2002.1 1691.3 L2011.2 1691.9 L2020.6 1692.4 L2030.3 1692.9 L2040.4 1693.2 L2050.7 1693.6 L2061.3 1693.9 L2072.1 1694.2 L2083.1 1694.5 L2094.3 1694.8 L2105.7 1695.1 L2117.2 1695.5 L2132.4 1696 L2148.3 1696.5 L2164.7 1697.1 L2181.6 1697.6 L2198.8 1698.1 L2216.2 1698.6 L2233.9 1699.1 L2251.6 1699.6 L2269.3 1700.2 L2286.9 1700.7 L2304.4 1701.2 L2321.6 1701.7" fill="none" stroke="#2563c6" stroke-width="3.4" stroke-linejoin="round" stroke-linecap="round"/>
<line x1="1788.5" y1="1115.7" x2="1809" y2="1071" stroke="#2563c6" stroke-width="3.2"/>
<polygon points="1815.5,1055 1819,1077 1802,1069" fill="#2563c6"/>
<rect x="1386.5" y="1010.7" width="941.5" height="758.2" fill="none" stroke="#333333" stroke-width="4.0"/>
<line x1="1386.5" y1="1768.9" x2="1386.5" y2="1783.4" stroke="#333333" stroke-width="3.0"/>
<line x1="1445.3" y1="1768.9" x2="1445.3" y2="1776.9" stroke="#333333" stroke-width="3.0"/>
<line x1="1504.2" y1="1768.9" x2="1504.2" y2="1783.4" stroke="#333333" stroke-width="3.0"/>
<line x1="1563" y1="1768.9" x2="1563" y2="1776.9" stroke="#333333" stroke-width="3.0"/>
<line x1="1621.9" y1="1768.9" x2="1621.9" y2="1783.4" stroke="#333333" stroke-width="3.0"/>
<line x1="1680.7" y1="1768.9" x2="1680.7" y2="1776.9" stroke="#333333" stroke-width="3.0"/>
<line x1="1739.6" y1="1768.9" x2="1739.6" y2="1783.4" stroke="#333333" stroke-width="3.0"/>
<line x1="1798.4" y1="1768.9" x2="1798.4" y2="1776.9" stroke="#333333" stroke-width="3.0"/>
<line x1="1857.2" y1="1768.9" x2="1857.2" y2="1783.4" stroke="#333333" stroke-width="3.0"/>
<line x1="1916.1" y1="1768.9" x2="1916.1" y2="1776.9" stroke="#333333" stroke-width="3.0"/>
<line x1="1974.9" y1="1768.9" x2="1974.9" y2="1783.4" stroke="#333333" stroke-width="3.0"/>
<line x1="2033.8" y1="1768.9" x2="2033.8" y2="1776.9" stroke="#333333" stroke-width="3.0"/>
<line x1="2092.6" y1="1768.9" x2="2092.6" y2="1783.4" stroke="#333333" stroke-width="3.0"/>
<line x1="2151.5" y1="1768.9" x2="2151.5" y2="1776.9" stroke="#333333" stroke-width="3.0"/>
<line x1="2210.3" y1="1768.9" x2="2210.3" y2="1783.4" stroke="#333333" stroke-width="3.0"/>
<line x1="2269.2" y1="1768.9" x2="2269.2" y2="1776.9" stroke="#333333" stroke-width="3.0"/>
<line x1="2328" y1="1768.9" x2="2328" y2="1783.4" stroke="#333333" stroke-width="3.0"/>
<line x1="1371.5" y1="1768.9" x2="1386.5" y2="1768.9" stroke="#333333" stroke-width="3.0"/>
<line x1="1378.5" y1="1699.9" x2="1386.5" y2="1699.9" stroke="#333333" stroke-width="3.0"/>
<line x1="1371.5" y1="1630.8" x2="1386.5" y2="1630.8" stroke="#333333" stroke-width="3.0"/>
<line x1="1378.5" y1="1561.8" x2="1386.5" y2="1561.8" stroke="#333333" stroke-width="3.0"/>
<line x1="1371.5" y1="1492.7" x2="1386.5" y2="1492.7" stroke="#333333" stroke-width="3.0"/>
<line x1="1378.5" y1="1423.7" x2="1386.5" y2="1423.7" stroke="#333333" stroke-width="3.0"/>
<line x1="1371.5" y1="1354.7" x2="1386.5" y2="1354.7" stroke="#333333" stroke-width="3.0"/>
<line x1="1378.5" y1="1285.6" x2="1386.5" y2="1285.6" stroke="#333333" stroke-width="3.0"/>
<line x1="1371.5" y1="1216.6" x2="1386.5" y2="1216.6" stroke="#333333" stroke-width="3.0"/>
<line x1="1378.5" y1="1147.5" x2="1386.5" y2="1147.5" stroke="#333333" stroke-width="3.0"/>
<line x1="1371.5" y1="1078.5" x2="1386.5" y2="1078.5" stroke="#333333" stroke-width="3.0"/>
<text x="1386.5" y="1822.5" font-size="36" fill="#262626" text-anchor="middle">0</text>
<text x="1504.2" y="1822.5" font-size="36" fill="#262626" text-anchor="middle">100</text>
<text x="1621.9" y="1822.5" font-size="36" fill="#262626" text-anchor="middle">200</text>
<text x="1739.6" y="1822.5" font-size="36" fill="#262626" text-anchor="middle">300</text>
<text x="1857.2" y="1822.5" font-size="36" fill="#262626" text-anchor="middle">400</text>
<text x="1974.9" y="1822.5" font-size="36" fill="#262626" text-anchor="middle">500</text>
<text x="2092.6" y="1822.5" font-size="36" fill="#262626" text-anchor="middle">600</text>
<text x="2210.3" y="1822.5" font-size="36" fill="#262626" text-anchor="middle">700</text>
<text x="2328" y="1822.5" font-size="36" fill="#262626" text-anchor="middle">800</text>
<text x="1360.5" y="1781.4" font-size="36" fill="#262626" text-anchor="end">0</text>
<text x="1360.5" y="1643.3" font-size="36" fill="#262626" text-anchor="end">20</text>
<text x="1360.5" y="1505.2" font-size="36" fill="#262626" text-anchor="end">40</text>
<text x="1360.5" y="1367.2" font-size="36" fill="#262626" text-anchor="end">60</text>
<text x="1360.5" y="1229.1" font-size="36" fill="#262626" text-anchor="end">80</text>
<text x="1360.5" y="1091" font-size="36" fill="#262626" text-anchor="end">100</text>
<text x="1655.4" y="1877.4" font-size="49" fill="#222" textLength="348.5" lengthAdjust="spacingAndGlyphs">Temperature (&#176;C)</text>
<text x="1308.5" y="1393.6" font-size="49.4" fill="#222" text-anchor="middle" transform="rotate(-90 1308.5 1393.6)" textLength="232" lengthAdjust="spacingAndGlyphs">Weight (%)</text>
<text x="1249" y="1042.6" font-size="79.5" fill="#111">(d)</text>
<text x="1586.9" y="1054.5" font-size="39.3" fill="#2a62c8" textLength="630.7" lengthAdjust="spacingAndGlyphs">Pebax<tspan fill="#5050d0" font-weight="bold">&#174;</tspan>1657-MOF-74(Ni)@GO-2-10%</text>
<text x="1984.7" y="1434.2" font-size="38.9" fill="#1e1e1e" textLength="325.8" lengthAdjust="spacingAndGlyphs">MOF-74(Ni)@GO-2</text>
<text x="1693.2" y="1741.8" font-size="38.9" fill="#e0303a" textLength="202.6" lengthAdjust="spacingAndGlyphs">Pebax<tspan fill="#e0303a" font-weight="bold">&#174;</tspan>1657</text>
</svg>
</div>
</body></html>
